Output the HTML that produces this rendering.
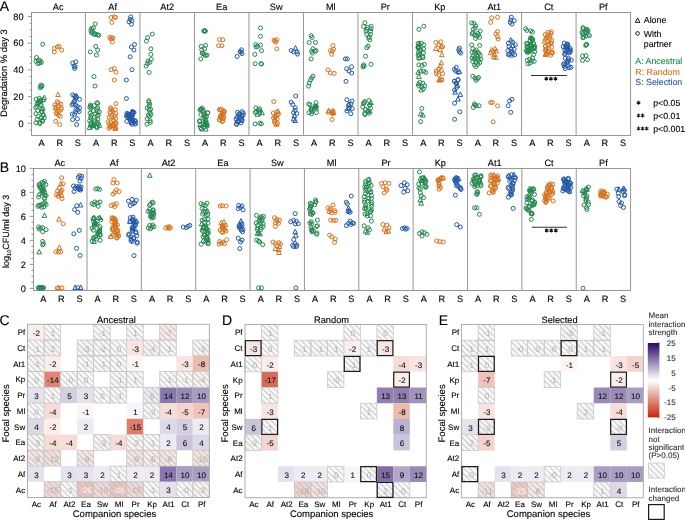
<!DOCTYPE html><html><head><meta charset="utf-8"><style>html,body{margin:0;padding:0;background:#fff;}body{width:685px;height:521px;overflow:hidden;}svg{display:block;will-change:transform;}text{font-family:"Liberation Sans",sans-serif;text-rendering:geometricPrecision;}</style></head><body><svg width="685" height="521" viewBox="0 0 685 521" font-family="Liberation Sans, sans-serif">
<defs><pattern id="hp" width="4.1" height="4.1" patternUnits="userSpaceOnUse" patternTransform="rotate(-45)"><rect x="0" y="0" width="1.95" height="4.1" fill="#b8b8b8" fill-opacity="0.52"/></pattern></defs>
<rect width="685" height="521" fill="#fff"/>
<g font-size="14" fill="#000" stroke="#000" stroke-width="0.12"><text x="-0.3" y="10.8">A</text><text x="-0.2" y="171.8">B</text><text x="-0.6" y="325.0">C</text><text x="222.1" y="325.3">D</text><text x="438.8" y="325.3">E</text></g>
<g font-size="9.2" fill="#000" stroke="#000" stroke-width="0.12">
<rect x="31.5" y="12.5" width="599.10" height="122.95" fill="none" stroke="#8c8c8c" stroke-width="0.9"/>
<line x1="85.40" y1="12.5" x2="85.40" y2="135.45" stroke="#8c8c8c" stroke-width="0.9"/>
<line x1="139.92" y1="12.5" x2="139.92" y2="135.45" stroke="#8c8c8c" stroke-width="0.9"/>
<line x1="194.44" y1="12.5" x2="194.44" y2="135.45" stroke="#8c8c8c" stroke-width="0.9"/>
<line x1="248.96" y1="12.5" x2="248.96" y2="135.45" stroke="#8c8c8c" stroke-width="0.9"/>
<line x1="303.48" y1="12.5" x2="303.48" y2="135.45" stroke="#8c8c8c" stroke-width="0.9"/>
<line x1="358.00" y1="12.5" x2="358.00" y2="135.45" stroke="#8c8c8c" stroke-width="0.9"/>
<line x1="412.52" y1="12.5" x2="412.52" y2="135.45" stroke="#8c8c8c" stroke-width="0.9"/>
<line x1="467.04" y1="12.5" x2="467.04" y2="135.45" stroke="#8c8c8c" stroke-width="0.9"/>
<line x1="521.56" y1="12.5" x2="521.56" y2="135.45" stroke="#8c8c8c" stroke-width="0.9"/>
<line x1="576.08" y1="12.5" x2="576.08" y2="135.45" stroke="#8c8c8c" stroke-width="0.9"/>
<text x="58.14" y="9.6" text-anchor="middle" transform="matrix(1 0 0 1.0 0 0.000)">Ac</text>
<text x="41.57" y="145.8" text-anchor="middle" transform="matrix(1 0 0 1.0 0 0.000)">A</text>
<text x="59.74" y="145.8" text-anchor="middle" transform="matrix(1 0 0 1.0 0 0.000)">R</text>
<text x="77.91" y="145.8" text-anchor="middle" transform="matrix(1 0 0 1.0 0 0.000)">S</text>
<text x="112.66" y="9.6" text-anchor="middle" transform="matrix(1 0 0 1.0 0 0.000)">Af</text>
<text x="96.09" y="145.8" text-anchor="middle" transform="matrix(1 0 0 1.0 0 0.000)">A</text>
<text x="114.26" y="145.8" text-anchor="middle" transform="matrix(1 0 0 1.0 0 0.000)">R</text>
<text x="132.43" y="145.8" text-anchor="middle" transform="matrix(1 0 0 1.0 0 0.000)">S</text>
<text x="167.18" y="9.6" text-anchor="middle" transform="matrix(1 0 0 1.0 0 0.000)">At2</text>
<text x="150.61" y="145.8" text-anchor="middle" transform="matrix(1 0 0 1.0 0 0.000)">A</text>
<text x="168.78" y="145.8" text-anchor="middle" transform="matrix(1 0 0 1.0 0 0.000)">R</text>
<text x="186.95" y="145.8" text-anchor="middle" transform="matrix(1 0 0 1.0 0 0.000)">S</text>
<text x="221.70" y="9.6" text-anchor="middle" transform="matrix(1 0 0 1.0 0 0.000)">Ea</text>
<text x="205.13" y="145.8" text-anchor="middle" transform="matrix(1 0 0 1.0 0 0.000)">A</text>
<text x="223.30" y="145.8" text-anchor="middle" transform="matrix(1 0 0 1.0 0 0.000)">R</text>
<text x="241.47" y="145.8" text-anchor="middle" transform="matrix(1 0 0 1.0 0 0.000)">S</text>
<text x="276.22" y="9.6" text-anchor="middle" transform="matrix(1 0 0 1.0 0 0.000)">Sw</text>
<text x="259.65" y="145.8" text-anchor="middle" transform="matrix(1 0 0 1.0 0 0.000)">A</text>
<text x="277.82" y="145.8" text-anchor="middle" transform="matrix(1 0 0 1.0 0 0.000)">R</text>
<text x="295.99" y="145.8" text-anchor="middle" transform="matrix(1 0 0 1.0 0 0.000)">S</text>
<text x="330.74" y="9.6" text-anchor="middle" transform="matrix(1 0 0 1.0 0 0.000)">Ml</text>
<text x="314.17" y="145.8" text-anchor="middle" transform="matrix(1 0 0 1.0 0 0.000)">A</text>
<text x="332.34" y="145.8" text-anchor="middle" transform="matrix(1 0 0 1.0 0 0.000)">R</text>
<text x="350.51" y="145.8" text-anchor="middle" transform="matrix(1 0 0 1.0 0 0.000)">S</text>
<text x="385.26" y="9.6" text-anchor="middle" transform="matrix(1 0 0 1.0 0 0.000)">Pr</text>
<text x="368.69" y="145.8" text-anchor="middle" transform="matrix(1 0 0 1.0 0 0.000)">A</text>
<text x="386.86" y="145.8" text-anchor="middle" transform="matrix(1 0 0 1.0 0 0.000)">R</text>
<text x="405.03" y="145.8" text-anchor="middle" transform="matrix(1 0 0 1.0 0 0.000)">S</text>
<text x="439.78" y="9.6" text-anchor="middle" transform="matrix(1 0 0 1.0 0 0.000)">Kp</text>
<text x="423.21" y="145.8" text-anchor="middle" transform="matrix(1 0 0 1.0 0 0.000)">A</text>
<text x="441.38" y="145.8" text-anchor="middle" transform="matrix(1 0 0 1.0 0 0.000)">R</text>
<text x="459.55" y="145.8" text-anchor="middle" transform="matrix(1 0 0 1.0 0 0.000)">S</text>
<text x="494.30" y="9.6" text-anchor="middle" transform="matrix(1 0 0 1.0 0 0.000)">At1</text>
<text x="477.73" y="145.8" text-anchor="middle" transform="matrix(1 0 0 1.0 0 0.000)">A</text>
<text x="495.90" y="145.8" text-anchor="middle" transform="matrix(1 0 0 1.0 0 0.000)">R</text>
<text x="514.07" y="145.8" text-anchor="middle" transform="matrix(1 0 0 1.0 0 0.000)">S</text>
<text x="548.82" y="9.6" text-anchor="middle" transform="matrix(1 0 0 1.0 0 0.000)">Ct</text>
<text x="532.25" y="145.8" text-anchor="middle" transform="matrix(1 0 0 1.0 0 0.000)">A</text>
<text x="550.42" y="145.8" text-anchor="middle" transform="matrix(1 0 0 1.0 0 0.000)">R</text>
<text x="568.59" y="145.8" text-anchor="middle" transform="matrix(1 0 0 1.0 0 0.000)">S</text>
<text x="603.34" y="9.6" text-anchor="middle" transform="matrix(1 0 0 1.0 0 0.000)">Pf</text>
<text x="586.77" y="145.8" text-anchor="middle" transform="matrix(1 0 0 1.0 0 0.000)">A</text>
<text x="604.94" y="145.8" text-anchor="middle" transform="matrix(1 0 0 1.0 0 0.000)">R</text>
<text x="623.11" y="145.8" text-anchor="middle" transform="matrix(1 0 0 1.0 0 0.000)">S</text>
<line x1="29.60" y1="129.97" x2="31.5" y2="129.97" stroke="#8c8c8c" stroke-width="0.9"/>
<line x1="27.70" y1="123.30" x2="31.5" y2="123.30" stroke="#8c8c8c" stroke-width="0.9"/>
<text x="23.6" y="126.50" text-anchor="end" transform="matrix(1 0 0 1.0 0 0.000)">0</text>
<line x1="29.60" y1="116.62" x2="31.5" y2="116.62" stroke="#8c8c8c" stroke-width="0.9"/>
<line x1="29.60" y1="109.95" x2="31.5" y2="109.95" stroke="#8c8c8c" stroke-width="0.9"/>
<line x1="29.60" y1="103.28" x2="31.5" y2="103.28" stroke="#8c8c8c" stroke-width="0.9"/>
<line x1="27.70" y1="96.60" x2="31.5" y2="96.60" stroke="#8c8c8c" stroke-width="0.9"/>
<text x="23.6" y="99.80" text-anchor="end" transform="matrix(1 0 0 1.0 0 0.000)">20</text>
<line x1="29.60" y1="89.92" x2="31.5" y2="89.92" stroke="#8c8c8c" stroke-width="0.9"/>
<line x1="29.60" y1="83.25" x2="31.5" y2="83.25" stroke="#8c8c8c" stroke-width="0.9"/>
<line x1="29.60" y1="76.57" x2="31.5" y2="76.57" stroke="#8c8c8c" stroke-width="0.9"/>
<line x1="27.70" y1="69.90" x2="31.5" y2="69.90" stroke="#8c8c8c" stroke-width="0.9"/>
<text x="23.6" y="73.10" text-anchor="end" transform="matrix(1 0 0 1.0 0 0.000)">40</text>
<line x1="29.60" y1="63.23" x2="31.5" y2="63.23" stroke="#8c8c8c" stroke-width="0.9"/>
<line x1="29.60" y1="56.55" x2="31.5" y2="56.55" stroke="#8c8c8c" stroke-width="0.9"/>
<line x1="29.60" y1="49.88" x2="31.5" y2="49.88" stroke="#8c8c8c" stroke-width="0.9"/>
<line x1="27.70" y1="43.20" x2="31.5" y2="43.20" stroke="#8c8c8c" stroke-width="0.9"/>
<text x="23.6" y="46.40" text-anchor="end" transform="matrix(1 0 0 1.0 0 0.000)">60</text>
<line x1="29.60" y1="36.53" x2="31.5" y2="36.53" stroke="#8c8c8c" stroke-width="0.9"/>
<line x1="29.60" y1="29.85" x2="31.5" y2="29.85" stroke="#8c8c8c" stroke-width="0.9"/>
<line x1="29.60" y1="23.17" x2="31.5" y2="23.17" stroke="#8c8c8c" stroke-width="0.9"/>
<line x1="27.70" y1="16.50" x2="31.5" y2="16.50" stroke="#8c8c8c" stroke-width="0.9"/>
<text x="23.6" y="19.70" text-anchor="end" transform="matrix(1 0 0 1.0 0 0.000)">80</text>
</g>
<text transform="translate(7.2,73.1) rotate(-90) scale(1,1.0)" text-anchor="middle" font-size="9.4" fill="#000" stroke="#000" stroke-width="0.12">Degradation % day 3</text>
<g font-size="9.2" fill="#000" stroke="#000" stroke-width="0.12">
<rect x="33.5" y="168.45" width="597.10" height="122.00" fill="none" stroke="#8c8c8c" stroke-width="0.9"/>
<line x1="87.00" y1="168.45" x2="87.00" y2="290.45" stroke="#8c8c8c" stroke-width="0.9"/>
<line x1="141.36" y1="168.45" x2="141.36" y2="290.45" stroke="#8c8c8c" stroke-width="0.9"/>
<line x1="195.72" y1="168.45" x2="195.72" y2="290.45" stroke="#8c8c8c" stroke-width="0.9"/>
<line x1="250.08" y1="168.45" x2="250.08" y2="290.45" stroke="#8c8c8c" stroke-width="0.9"/>
<line x1="304.44" y1="168.45" x2="304.44" y2="290.45" stroke="#8c8c8c" stroke-width="0.9"/>
<line x1="358.80" y1="168.45" x2="358.80" y2="290.45" stroke="#8c8c8c" stroke-width="0.9"/>
<line x1="413.16" y1="168.45" x2="413.16" y2="290.45" stroke="#8c8c8c" stroke-width="0.9"/>
<line x1="467.52" y1="168.45" x2="467.52" y2="290.45" stroke="#8c8c8c" stroke-width="0.9"/>
<line x1="521.88" y1="168.45" x2="521.88" y2="290.45" stroke="#8c8c8c" stroke-width="0.9"/>
<line x1="576.24" y1="168.45" x2="576.24" y2="290.45" stroke="#8c8c8c" stroke-width="0.9"/>
<text x="59.82" y="166.0" text-anchor="middle" transform="matrix(1 0 0 1.0 0 0.000)">Ac</text>
<text x="43.30" y="302.0" text-anchor="middle" transform="matrix(1 0 0 1.0 0 0.000)">A</text>
<text x="61.42" y="302.0" text-anchor="middle" transform="matrix(1 0 0 1.0 0 0.000)">R</text>
<text x="79.54" y="302.0" text-anchor="middle" transform="matrix(1 0 0 1.0 0 0.000)">S</text>
<text x="114.18" y="166.0" text-anchor="middle" transform="matrix(1 0 0 1.0 0 0.000)">Af</text>
<text x="97.66" y="302.0" text-anchor="middle" transform="matrix(1 0 0 1.0 0 0.000)">A</text>
<text x="115.78" y="302.0" text-anchor="middle" transform="matrix(1 0 0 1.0 0 0.000)">R</text>
<text x="133.90" y="302.0" text-anchor="middle" transform="matrix(1 0 0 1.0 0 0.000)">S</text>
<text x="168.54" y="166.0" text-anchor="middle" transform="matrix(1 0 0 1.0 0 0.000)">At2</text>
<text x="152.02" y="302.0" text-anchor="middle" transform="matrix(1 0 0 1.0 0 0.000)">A</text>
<text x="170.14" y="302.0" text-anchor="middle" transform="matrix(1 0 0 1.0 0 0.000)">R</text>
<text x="188.26" y="302.0" text-anchor="middle" transform="matrix(1 0 0 1.0 0 0.000)">S</text>
<text x="222.90" y="166.0" text-anchor="middle" transform="matrix(1 0 0 1.0 0 0.000)">Ea</text>
<text x="206.38" y="302.0" text-anchor="middle" transform="matrix(1 0 0 1.0 0 0.000)">A</text>
<text x="224.50" y="302.0" text-anchor="middle" transform="matrix(1 0 0 1.0 0 0.000)">R</text>
<text x="242.62" y="302.0" text-anchor="middle" transform="matrix(1 0 0 1.0 0 0.000)">S</text>
<text x="277.26" y="166.0" text-anchor="middle" transform="matrix(1 0 0 1.0 0 0.000)">Sw</text>
<text x="260.74" y="302.0" text-anchor="middle" transform="matrix(1 0 0 1.0 0 0.000)">A</text>
<text x="278.86" y="302.0" text-anchor="middle" transform="matrix(1 0 0 1.0 0 0.000)">R</text>
<text x="296.98" y="302.0" text-anchor="middle" transform="matrix(1 0 0 1.0 0 0.000)">S</text>
<text x="331.62" y="166.0" text-anchor="middle" transform="matrix(1 0 0 1.0 0 0.000)">Ml</text>
<text x="315.10" y="302.0" text-anchor="middle" transform="matrix(1 0 0 1.0 0 0.000)">A</text>
<text x="333.22" y="302.0" text-anchor="middle" transform="matrix(1 0 0 1.0 0 0.000)">R</text>
<text x="351.34" y="302.0" text-anchor="middle" transform="matrix(1 0 0 1.0 0 0.000)">S</text>
<text x="385.98" y="166.0" text-anchor="middle" transform="matrix(1 0 0 1.0 0 0.000)">Pr</text>
<text x="369.46" y="302.0" text-anchor="middle" transform="matrix(1 0 0 1.0 0 0.000)">A</text>
<text x="387.58" y="302.0" text-anchor="middle" transform="matrix(1 0 0 1.0 0 0.000)">R</text>
<text x="405.70" y="302.0" text-anchor="middle" transform="matrix(1 0 0 1.0 0 0.000)">S</text>
<text x="440.34" y="166.0" text-anchor="middle" transform="matrix(1 0 0 1.0 0 0.000)">Kp</text>
<text x="423.82" y="302.0" text-anchor="middle" transform="matrix(1 0 0 1.0 0 0.000)">A</text>
<text x="441.94" y="302.0" text-anchor="middle" transform="matrix(1 0 0 1.0 0 0.000)">R</text>
<text x="460.06" y="302.0" text-anchor="middle" transform="matrix(1 0 0 1.0 0 0.000)">S</text>
<text x="494.70" y="166.0" text-anchor="middle" transform="matrix(1 0 0 1.0 0 0.000)">At1</text>
<text x="478.18" y="302.0" text-anchor="middle" transform="matrix(1 0 0 1.0 0 0.000)">A</text>
<text x="496.30" y="302.0" text-anchor="middle" transform="matrix(1 0 0 1.0 0 0.000)">R</text>
<text x="514.42" y="302.0" text-anchor="middle" transform="matrix(1 0 0 1.0 0 0.000)">S</text>
<text x="549.06" y="166.0" text-anchor="middle" transform="matrix(1 0 0 1.0 0 0.000)">Ct</text>
<text x="532.54" y="302.0" text-anchor="middle" transform="matrix(1 0 0 1.0 0 0.000)">A</text>
<text x="550.66" y="302.0" text-anchor="middle" transform="matrix(1 0 0 1.0 0 0.000)">R</text>
<text x="568.78" y="302.0" text-anchor="middle" transform="matrix(1 0 0 1.0 0 0.000)">S</text>
<text x="603.42" y="166.0" text-anchor="middle" transform="matrix(1 0 0 1.0 0 0.000)">Pf</text>
<text x="586.90" y="302.0" text-anchor="middle" transform="matrix(1 0 0 1.0 0 0.000)">A</text>
<text x="605.02" y="302.0" text-anchor="middle" transform="matrix(1 0 0 1.0 0 0.000)">R</text>
<text x="623.14" y="302.0" text-anchor="middle" transform="matrix(1 0 0 1.0 0 0.000)">S</text>
<line x1="29.60" y1="288.40" x2="33.5" y2="288.40" stroke="#8c8c8c" stroke-width="0.9"/>
<text x="25.9" y="291.60" text-anchor="end" transform="matrix(1 0 0 1.0 0 0.000)">0</text>
<line x1="31.40" y1="282.40" x2="33.5" y2="282.40" stroke="#8c8c8c" stroke-width="0.9"/>
<line x1="31.40" y1="276.40" x2="33.5" y2="276.40" stroke="#8c8c8c" stroke-width="0.9"/>
<line x1="31.40" y1="270.40" x2="33.5" y2="270.40" stroke="#8c8c8c" stroke-width="0.9"/>
<line x1="29.60" y1="264.40" x2="33.5" y2="264.40" stroke="#8c8c8c" stroke-width="0.9"/>
<text x="25.9" y="267.60" text-anchor="end" transform="matrix(1 0 0 1.0 0 0.000)">2</text>
<line x1="31.40" y1="258.40" x2="33.5" y2="258.40" stroke="#8c8c8c" stroke-width="0.9"/>
<line x1="31.40" y1="252.40" x2="33.5" y2="252.40" stroke="#8c8c8c" stroke-width="0.9"/>
<line x1="31.40" y1="246.40" x2="33.5" y2="246.40" stroke="#8c8c8c" stroke-width="0.9"/>
<line x1="29.60" y1="240.40" x2="33.5" y2="240.40" stroke="#8c8c8c" stroke-width="0.9"/>
<text x="25.9" y="243.60" text-anchor="end" transform="matrix(1 0 0 1.0 0 0.000)">4</text>
<line x1="31.40" y1="234.40" x2="33.5" y2="234.40" stroke="#8c8c8c" stroke-width="0.9"/>
<line x1="31.40" y1="228.40" x2="33.5" y2="228.40" stroke="#8c8c8c" stroke-width="0.9"/>
<line x1="31.40" y1="222.40" x2="33.5" y2="222.40" stroke="#8c8c8c" stroke-width="0.9"/>
<line x1="29.60" y1="216.40" x2="33.5" y2="216.40" stroke="#8c8c8c" stroke-width="0.9"/>
<text x="25.9" y="219.60" text-anchor="end" transform="matrix(1 0 0 1.0 0 0.000)">6</text>
<line x1="31.40" y1="210.40" x2="33.5" y2="210.40" stroke="#8c8c8c" stroke-width="0.9"/>
<line x1="31.40" y1="204.40" x2="33.5" y2="204.40" stroke="#8c8c8c" stroke-width="0.9"/>
<line x1="31.40" y1="198.40" x2="33.5" y2="198.40" stroke="#8c8c8c" stroke-width="0.9"/>
<line x1="29.60" y1="192.40" x2="33.5" y2="192.40" stroke="#8c8c8c" stroke-width="0.9"/>
<text x="25.9" y="195.60" text-anchor="end" transform="matrix(1 0 0 1.0 0 0.000)">8</text>
<line x1="31.40" y1="186.40" x2="33.5" y2="186.40" stroke="#8c8c8c" stroke-width="0.9"/>
<line x1="31.40" y1="180.40" x2="33.5" y2="180.40" stroke="#8c8c8c" stroke-width="0.9"/>
<line x1="31.40" y1="174.40" x2="33.5" y2="174.40" stroke="#8c8c8c" stroke-width="0.9"/>
<line x1="29.60" y1="168.40" x2="33.5" y2="168.40" stroke="#8c8c8c" stroke-width="0.9"/>
<text x="25.9" y="171.60" text-anchor="end" transform="matrix(1 0 0 1.0 0 0.000)">10</text>
</g>
<text transform="translate(9.0,231.3) rotate(-90) scale(1,1.0)" text-anchor="middle" font-size="9" fill="#000" stroke="#000" stroke-width="0.12">log<tspan font-size="5.6" dy="2.2">10</tspan><tspan dy="-2.2">CFU/ml day 3</tspan></text>
<g fill="none" stroke-width="1.0">
<circle cx="42.7" cy="44.3" r="2.0" stroke="#24884f"/>
<circle cx="36.5" cy="57.5" r="2.0" stroke="#24884f"/>
<circle cx="35.9" cy="61.2" r="2.0" stroke="#24884f"/>
<circle cx="38.4" cy="60.0" r="2.0" stroke="#24884f"/>
<circle cx="40.2" cy="60.6" r="2.0" stroke="#24884f"/>
<circle cx="41.4" cy="62.4" r="2.0" stroke="#24884f"/>
<circle cx="37.8" cy="63.6" r="2.0" stroke="#24884f"/>
<circle cx="39.6" cy="63.0" r="2.0" stroke="#24884f"/>
<circle cx="40.8" cy="85.1" r="2.0" stroke="#24884f"/>
<circle cx="41.4" cy="87.0" r="2.0" stroke="#24884f"/>
<circle cx="42.0" cy="85.7" r="2.0" stroke="#24884f"/>
<circle cx="40.2" cy="87.6" r="2.0" stroke="#24884f"/>
<path d="M40.7 98.0L38.4 102.5L43.0 102.5Z" stroke="#24884f"/>
<path d="M44.3 95.2L42.0 99.7L46.6 99.7Z" stroke="#24884f"/>
<path d="M43.2 97.1L40.9 101.6L45.5 101.6Z" stroke="#24884f"/>
<circle cx="36.8" cy="106.3" r="2.0" stroke="#24884f"/>
<circle cx="38.3" cy="103.1" r="2.0" stroke="#24884f"/>
<circle cx="37.1" cy="119.3" r="2.0" stroke="#24884f"/>
<circle cx="41.3" cy="105.6" r="2.0" stroke="#24884f"/>
<circle cx="40.4" cy="104.3" r="2.0" stroke="#24884f"/>
<circle cx="36.0" cy="122.8" r="2.0" stroke="#24884f"/>
<circle cx="41.6" cy="111.4" r="2.0" stroke="#24884f"/>
<circle cx="38.3" cy="116.4" r="2.0" stroke="#24884f"/>
<circle cx="39.6" cy="123.8" r="2.0" stroke="#24884f"/>
<circle cx="42.6" cy="121.3" r="2.0" stroke="#24884f"/>
<circle cx="37.7" cy="110.6" r="2.0" stroke="#24884f"/>
<circle cx="40.2" cy="122.5" r="2.0" stroke="#24884f"/>
<circle cx="42.1" cy="112.2" r="2.0" stroke="#24884f"/>
<circle cx="44.3" cy="117.9" r="2.0" stroke="#24884f"/>
<circle cx="39.3" cy="98.2" r="2.0" stroke="#24884f"/>
<circle cx="36.9" cy="103.8" r="2.0" stroke="#24884f"/>
<circle cx="35.9" cy="113.6" r="2.0" stroke="#24884f"/>
<circle cx="42.4" cy="120.2" r="2.0" stroke="#24884f"/>
<circle cx="43.4" cy="115.2" r="2.0" stroke="#24884f"/>
<circle cx="41.8" cy="108.7" r="2.0" stroke="#24884f"/>
<circle cx="40.7" cy="100.8" r="2.0" stroke="#24884f"/>
<circle cx="43.1" cy="114.8" r="2.0" stroke="#24884f"/>
<circle cx="39.8" cy="100.1" r="2.0" stroke="#24884f"/>
<circle cx="36.0" cy="99.1" r="2.0" stroke="#24884f"/>
<circle cx="41.3" cy="117.7" r="2.0" stroke="#24884f"/>
<circle cx="42.9" cy="109.3" r="2.0" stroke="#24884f"/>
<circle cx="39.0" cy="102.0" r="2.0" stroke="#24884f"/>
<circle cx="35.7" cy="107.6" r="2.0" stroke="#24884f"/>
<circle cx="54.3" cy="48.3" r="2.0" stroke="#d6731f"/>
<circle cx="57.4" cy="47.0" r="2.0" stroke="#d6731f"/>
<circle cx="59.2" cy="46.4" r="2.0" stroke="#d6731f"/>
<circle cx="61.7" cy="50.1" r="2.0" stroke="#d6731f"/>
<circle cx="54.3" cy="52.0" r="2.0" stroke="#d6731f"/>
<path d="M58.0 92.0L55.7 96.5L60.3 96.5Z" stroke="#d6731f"/>
<path d="M55.3 105.3L53.0 109.8L57.6 109.8Z" stroke="#d6731f"/>
<circle cx="58.5" cy="115.3" r="2.0" stroke="#d6731f"/>
<circle cx="60.3" cy="116.4" r="2.0" stroke="#d6731f"/>
<circle cx="56.7" cy="112.6" r="2.0" stroke="#d6731f"/>
<circle cx="57.2" cy="110.9" r="2.0" stroke="#d6731f"/>
<circle cx="61.2" cy="107.9" r="2.0" stroke="#d6731f"/>
<circle cx="56.0" cy="106.9" r="2.0" stroke="#d6731f"/>
<circle cx="56.4" cy="113.7" r="2.0" stroke="#d6731f"/>
<circle cx="58.7" cy="105.8" r="2.0" stroke="#d6731f"/>
<circle cx="54.8" cy="104.9" r="2.0" stroke="#d6731f"/>
<circle cx="57.3" cy="101.7" r="2.0" stroke="#d6731f"/>
<circle cx="61.2" cy="109.6" r="2.0" stroke="#d6731f"/>
<circle cx="58.3" cy="102.9" r="2.0" stroke="#d6731f"/>
<circle cx="59.3" cy="111.1" r="2.0" stroke="#d6731f"/>
<circle cx="60.8" cy="104.2" r="2.0" stroke="#d6731f"/>
<circle cx="55.7" cy="121.3" r="2.0" stroke="#d6731f"/>
<circle cx="59.7" cy="124.5" r="2.0" stroke="#d6731f"/>
<circle cx="72.7" cy="63.0" r="2.0" stroke="#2459a8"/>
<circle cx="75.8" cy="61.8" r="2.0" stroke="#2459a8"/>
<circle cx="74.0" cy="66.1" r="2.0" stroke="#2459a8"/>
<circle cx="74.6" cy="68.5" r="2.0" stroke="#2459a8"/>
<circle cx="75.2" cy="66.7" r="2.0" stroke="#2459a8"/>
<path d="M76.5 93.4L74.2 97.9L78.8 97.9Z" stroke="#2459a8"/>
<circle cx="76.3" cy="96.9" r="2.0" stroke="#2459a8"/>
<circle cx="79.5" cy="99.4" r="2.0" stroke="#2459a8"/>
<circle cx="72.1" cy="104.9" r="2.0" stroke="#2459a8"/>
<circle cx="74.7" cy="100.7" r="2.0" stroke="#2459a8"/>
<circle cx="79.5" cy="107.8" r="2.0" stroke="#2459a8"/>
<circle cx="75.5" cy="112.0" r="2.0" stroke="#2459a8"/>
<circle cx="75.6" cy="104.7" r="2.0" stroke="#2459a8"/>
<circle cx="75.5" cy="97.9" r="2.0" stroke="#2459a8"/>
<circle cx="72.7" cy="94.8" r="2.0" stroke="#2459a8"/>
<circle cx="77.7" cy="110.1" r="2.0" stroke="#2459a8"/>
<circle cx="77.3" cy="106.5" r="2.0" stroke="#2459a8"/>
<circle cx="73.2" cy="103.4" r="2.0" stroke="#2459a8"/>
<circle cx="74.5" cy="95.9" r="2.0" stroke="#2459a8"/>
<circle cx="79.2" cy="111.6" r="2.0" stroke="#2459a8"/>
<circle cx="74.0" cy="101.9" r="2.0" stroke="#2459a8"/>
<circle cx="72.3" cy="114.1" r="2.0" stroke="#2459a8"/>
<circle cx="75.9" cy="109.4" r="2.0" stroke="#2459a8"/>
<circle cx="74.5" cy="114.6" r="2.0" stroke="#2459a8"/>
<circle cx="72.6" cy="119.7" r="2.0" stroke="#2459a8"/>
<circle cx="77.4" cy="118.9" r="2.0" stroke="#2459a8"/>
<circle cx="76.6" cy="124.5" r="2.0" stroke="#2459a8"/>
<circle cx="95.2" cy="23.9" r="2.0" stroke="#24884f"/>
<circle cx="91.5" cy="28.6" r="2.0" stroke="#24884f"/>
<circle cx="93.4" cy="28.0" r="2.0" stroke="#24884f"/>
<circle cx="90.9" cy="30.4" r="2.0" stroke="#24884f"/>
<circle cx="92.1" cy="31.6" r="2.0" stroke="#24884f"/>
<circle cx="91.5" cy="32.9" r="2.0" stroke="#24884f"/>
<circle cx="94.0" cy="34.1" r="2.0" stroke="#24884f"/>
<circle cx="95.8" cy="34.7" r="2.0" stroke="#24884f"/>
<circle cx="97.7" cy="34.7" r="2.0" stroke="#24884f"/>
<circle cx="98.9" cy="35.3" r="2.0" stroke="#24884f"/>
<circle cx="94.6" cy="33.5" r="2.0" stroke="#24884f"/>
<circle cx="95.8" cy="46.4" r="2.0" stroke="#24884f"/>
<circle cx="90.3" cy="51.9" r="2.0" stroke="#24884f"/>
<circle cx="97.7" cy="50.1" r="2.0" stroke="#24884f"/>
<circle cx="96.4" cy="55.0" r="2.0" stroke="#24884f"/>
<circle cx="94.0" cy="76.6" r="2.0" stroke="#24884f"/>
<circle cx="95.0" cy="86.0" r="2.0" stroke="#24884f"/>
<path d="M90.5 121.7L88.2 126.2L92.8 126.2Z" stroke="#24884f"/>
<path d="M92.9 121.8L90.6 126.3L95.2 126.3Z" stroke="#24884f"/>
<path d="M99.4 122.8L97.1 127.3L101.7 127.3Z" stroke="#24884f"/>
<path d="M89.5 125.1L87.2 129.6L91.8 129.6Z" stroke="#24884f"/>
<path d="M92.9 123.0L90.6 127.5L95.2 127.5Z" stroke="#24884f"/>
<circle cx="97.8" cy="103.4" r="2.0" stroke="#24884f"/>
<circle cx="93.4" cy="110.6" r="2.0" stroke="#24884f"/>
<circle cx="91.5" cy="115.0" r="2.0" stroke="#24884f"/>
<circle cx="93.8" cy="125.7" r="2.0" stroke="#24884f"/>
<circle cx="90.4" cy="105.0" r="2.0" stroke="#24884f"/>
<circle cx="96.7" cy="109.6" r="2.0" stroke="#24884f"/>
<circle cx="96.9" cy="126.9" r="2.0" stroke="#24884f"/>
<circle cx="91.1" cy="118.4" r="2.0" stroke="#24884f"/>
<circle cx="89.8" cy="107.2" r="2.0" stroke="#24884f"/>
<circle cx="94.2" cy="105.6" r="2.0" stroke="#24884f"/>
<circle cx="95.6" cy="113.9" r="2.0" stroke="#24884f"/>
<circle cx="94.2" cy="125.1" r="2.0" stroke="#24884f"/>
<circle cx="91.1" cy="106.3" r="2.0" stroke="#24884f"/>
<circle cx="89.7" cy="120.8" r="2.0" stroke="#24884f"/>
<circle cx="96.8" cy="127.7" r="2.0" stroke="#24884f"/>
<circle cx="97.0" cy="102.6" r="2.0" stroke="#24884f"/>
<circle cx="99.4" cy="111.9" r="2.0" stroke="#24884f"/>
<circle cx="98.2" cy="115.1" r="2.0" stroke="#24884f"/>
<circle cx="91.6" cy="126.4" r="2.0" stroke="#24884f"/>
<circle cx="97.1" cy="122.1" r="2.0" stroke="#24884f"/>
<circle cx="94.9" cy="121.7" r="2.0" stroke="#24884f"/>
<circle cx="90.1" cy="113.2" r="2.0" stroke="#24884f"/>
<circle cx="98.5" cy="124.0" r="2.0" stroke="#24884f"/>
<circle cx="97.7" cy="108.0" r="2.0" stroke="#24884f"/>
<circle cx="97.8" cy="119.2" r="2.0" stroke="#24884f"/>
<circle cx="90.8" cy="108.5" r="2.0" stroke="#24884f"/>
<circle cx="94.6" cy="120.0" r="2.0" stroke="#24884f"/>
<circle cx="97.3" cy="111.4" r="2.0" stroke="#24884f"/>
<circle cx="97.3" cy="116.0" r="2.0" stroke="#24884f"/>
<circle cx="90.9" cy="123.1" r="2.0" stroke="#24884f"/>
<circle cx="90.7" cy="116.8" r="2.0" stroke="#24884f"/>
<circle cx="111.2" cy="17.5" r="2.0" stroke="#d6731f"/>
<circle cx="115.5" cy="17.5" r="2.0" stroke="#d6731f"/>
<circle cx="111.8" cy="22.4" r="2.0" stroke="#d6731f"/>
<circle cx="114.2" cy="16.9" r="2.0" stroke="#d6731f"/>
<circle cx="109.9" cy="37.2" r="2.0" stroke="#d6731f"/>
<circle cx="111.8" cy="38.4" r="2.0" stroke="#d6731f"/>
<circle cx="113.0" cy="37.8" r="2.0" stroke="#d6731f"/>
<circle cx="112.4" cy="42.1" r="2.0" stroke="#d6731f"/>
<circle cx="110.6" cy="39.0" r="2.0" stroke="#d6731f"/>
<circle cx="111.2" cy="69.7" r="2.0" stroke="#d6731f"/>
<circle cx="114.2" cy="68.5" r="2.0" stroke="#d6731f"/>
<circle cx="116.1" cy="72.2" r="2.0" stroke="#d6731f"/>
<circle cx="114.4" cy="80.0" r="2.0" stroke="#d6731f"/>
<path d="M113.6 122.8L111.3 127.3L115.9 127.3Z" stroke="#d6731f"/>
<path d="M112.3 122.9L110.0 127.4L114.6 127.4Z" stroke="#d6731f"/>
<path d="M115.6 124.4L113.3 128.9L117.9 128.9Z" stroke="#d6731f"/>
<path d="M115.1 125.9L112.8 130.4L117.4 130.4Z" stroke="#d6731f"/>
<path d="M110.1 123.5L107.8 128.0L112.4 128.0Z" stroke="#d6731f"/>
<path d="M115.6 125.3L113.3 129.8L117.9 129.8Z" stroke="#d6731f"/>
<path d="M109.1 120.6L106.8 125.1L111.4 125.1Z" stroke="#d6731f"/>
<circle cx="111.6" cy="117.3" r="2.0" stroke="#d6731f"/>
<circle cx="109.9" cy="112.5" r="2.0" stroke="#d6731f"/>
<circle cx="113.4" cy="120.0" r="2.0" stroke="#d6731f"/>
<circle cx="115.3" cy="109.6" r="2.0" stroke="#d6731f"/>
<circle cx="113.8" cy="120.8" r="2.0" stroke="#d6731f"/>
<circle cx="109.2" cy="117.2" r="2.0" stroke="#d6731f"/>
<circle cx="115.8" cy="113.6" r="2.0" stroke="#d6731f"/>
<circle cx="115.7" cy="118.6" r="2.0" stroke="#d6731f"/>
<circle cx="111.9" cy="115.3" r="2.0" stroke="#d6731f"/>
<circle cx="114.7" cy="115.5" r="2.0" stroke="#d6731f"/>
<circle cx="111.5" cy="125.6" r="2.0" stroke="#d6731f"/>
<circle cx="110.7" cy="107.7" r="2.0" stroke="#d6731f"/>
<circle cx="110.6" cy="112.1" r="2.0" stroke="#d6731f"/>
<circle cx="108.2" cy="121.7" r="2.0" stroke="#d6731f"/>
<circle cx="111.6" cy="126.1" r="2.0" stroke="#d6731f"/>
<circle cx="110.7" cy="109.1" r="2.0" stroke="#d6731f"/>
<circle cx="112.1" cy="110.5" r="2.0" stroke="#d6731f"/>
<circle cx="116.0" cy="122.9" r="2.0" stroke="#d6731f"/>
<circle cx="115.9" cy="124.2" r="2.0" stroke="#d6731f"/>
<circle cx="110.2" cy="127.1" r="2.0" stroke="#d6731f"/>
<circle cx="114.3" cy="123.4" r="2.0" stroke="#d6731f"/>
<circle cx="109.0" cy="128.4" r="2.0" stroke="#d6731f"/>
<circle cx="115.9" cy="103.6" r="2.0" stroke="#d6731f"/>
<circle cx="130.8" cy="16.9" r="2.0" stroke="#2459a8"/>
<circle cx="129.0" cy="21.8" r="2.0" stroke="#2459a8"/>
<circle cx="132.0" cy="20.6" r="2.0" stroke="#2459a8"/>
<circle cx="131.4" cy="24.3" r="2.0" stroke="#2459a8"/>
<circle cx="130.2" cy="19.4" r="2.0" stroke="#2459a8"/>
<circle cx="134.5" cy="44.5" r="2.0" stroke="#2459a8"/>
<circle cx="131.4" cy="47.0" r="2.0" stroke="#2459a8"/>
<circle cx="133.9" cy="50.0" r="2.0" stroke="#2459a8"/>
<circle cx="130.2" cy="56.8" r="2.0" stroke="#2459a8"/>
<circle cx="132.0" cy="69.7" r="2.0" stroke="#2459a8"/>
<circle cx="126.4" cy="80.0" r="2.0" stroke="#2459a8"/>
<circle cx="126.4" cy="98.5" r="2.0" stroke="#2459a8"/>
<path d="M126.6 112.7L124.3 117.2L128.9 117.2Z" stroke="#2459a8"/>
<path d="M130.3 112.4L128.0 116.9L132.6 116.9Z" stroke="#2459a8"/>
<path d="M132.1 109.0L129.8 113.5L134.4 113.5Z" stroke="#2459a8"/>
<circle cx="132.9" cy="113.3" r="2.0" stroke="#2459a8"/>
<circle cx="135.2" cy="120.6" r="2.0" stroke="#2459a8"/>
<circle cx="128.1" cy="118.2" r="2.0" stroke="#2459a8"/>
<circle cx="132.2" cy="124.3" r="2.0" stroke="#2459a8"/>
<circle cx="128.4" cy="116.6" r="2.0" stroke="#2459a8"/>
<circle cx="132.5" cy="114.8" r="2.0" stroke="#2459a8"/>
<circle cx="133.7" cy="122.3" r="2.0" stroke="#2459a8"/>
<circle cx="126.8" cy="115.5" r="2.0" stroke="#2459a8"/>
<circle cx="131.1" cy="123.1" r="2.0" stroke="#2459a8"/>
<circle cx="131.1" cy="117.4" r="2.0" stroke="#2459a8"/>
<circle cx="130.5" cy="120.3" r="2.0" stroke="#2459a8"/>
<circle cx="132.4" cy="111.8" r="2.0" stroke="#2459a8"/>
<circle cx="131.4" cy="122.7" r="2.0" stroke="#2459a8"/>
<circle cx="135.2" cy="121.5" r="2.0" stroke="#2459a8"/>
<circle cx="128.4" cy="114.3" r="2.0" stroke="#2459a8"/>
<circle cx="128.3" cy="114.1" r="2.0" stroke="#2459a8"/>
<circle cx="133.1" cy="112.0" r="2.0" stroke="#2459a8"/>
<circle cx="135.4" cy="124.0" r="2.0" stroke="#2459a8"/>
<circle cx="134.0" cy="112.4" r="2.0" stroke="#2459a8"/>
<circle cx="132.1" cy="116.4" r="2.0" stroke="#2459a8"/>
<circle cx="130.4" cy="118.2" r="2.0" stroke="#2459a8"/>
<circle cx="132.5" cy="119.7" r="2.0" stroke="#2459a8"/>
<circle cx="131.1" cy="119.1" r="2.0" stroke="#2459a8"/>
<circle cx="131.9" cy="119.4" r="2.0" stroke="#2459a8"/>
<circle cx="126.9" cy="113.4" r="2.0" stroke="#2459a8"/>
<circle cx="128.9" cy="116.9" r="2.0" stroke="#2459a8"/>
<circle cx="129.8" cy="115.2" r="2.0" stroke="#2459a8"/>
<circle cx="135.4" cy="123.3" r="2.0" stroke="#2459a8"/>
<circle cx="126.8" cy="121.3" r="2.0" stroke="#2459a8"/>
<circle cx="152.3" cy="34.1" r="2.0" stroke="#24884f"/>
<circle cx="147.6" cy="37.5" r="2.0" stroke="#24884f"/>
<circle cx="146.4" cy="41.2" r="2.0" stroke="#24884f"/>
<circle cx="150.8" cy="48.8" r="2.0" stroke="#24884f"/>
<circle cx="150.8" cy="54.4" r="2.0" stroke="#24884f"/>
<circle cx="151.3" cy="59.3" r="2.0" stroke="#24884f"/>
<circle cx="148.0" cy="61.1" r="2.0" stroke="#24884f"/>
<circle cx="149.8" cy="62.3" r="2.0" stroke="#24884f"/>
<circle cx="146.1" cy="66.0" r="2.0" stroke="#24884f"/>
<circle cx="149.2" cy="72.4" r="2.0" stroke="#24884f"/>
<circle cx="147.5" cy="63.5" r="2.0" stroke="#24884f"/>
<circle cx="146.9" cy="124.2" r="2.0" stroke="#24884f"/>
<circle cx="147.2" cy="118.9" r="2.0" stroke="#24884f"/>
<circle cx="148.3" cy="115.2" r="2.0" stroke="#24884f"/>
<circle cx="149.4" cy="116.5" r="2.0" stroke="#24884f"/>
<circle cx="150.9" cy="114.5" r="2.0" stroke="#24884f"/>
<circle cx="147.2" cy="108.0" r="2.0" stroke="#24884f"/>
<circle cx="150.1" cy="120.6" r="2.0" stroke="#24884f"/>
<circle cx="150.0" cy="112.6" r="2.0" stroke="#24884f"/>
<circle cx="148.8" cy="102.1" r="2.0" stroke="#24884f"/>
<circle cx="149.3" cy="110.0" r="2.0" stroke="#24884f"/>
<circle cx="150.3" cy="122.4" r="2.0" stroke="#24884f"/>
<circle cx="148.9" cy="100.7" r="2.0" stroke="#24884f"/>
<circle cx="149.7" cy="104.1" r="2.0" stroke="#24884f"/>
<circle cx="150.7" cy="109.4" r="2.0" stroke="#24884f"/>
<circle cx="149.1" cy="106.2" r="2.0" stroke="#24884f"/>
<circle cx="203.8" cy="31.0" r="2.0" stroke="#24884f"/>
<circle cx="204.6" cy="31.0" r="2.0" stroke="#24884f"/>
<circle cx="205.4" cy="31.0" r="2.0" stroke="#24884f"/>
<circle cx="204.6" cy="30.8" r="2.0" stroke="#24884f"/>
<circle cx="201.2" cy="46.4" r="2.0" stroke="#24884f"/>
<circle cx="205.6" cy="45.4" r="2.0" stroke="#24884f"/>
<circle cx="201.7" cy="49.8" r="2.0" stroke="#24884f"/>
<circle cx="204.6" cy="48.8" r="2.0" stroke="#24884f"/>
<circle cx="202.2" cy="53.1" r="2.0" stroke="#24884f"/>
<circle cx="204.1" cy="54.5" r="2.0" stroke="#24884f"/>
<circle cx="207.0" cy="55.0" r="2.0" stroke="#24884f"/>
<circle cx="205.6" cy="55.5" r="2.0" stroke="#24884f"/>
<circle cx="200.8" cy="58.9" r="2.0" stroke="#24884f"/>
<circle cx="203.2" cy="53.6" r="2.0" stroke="#24884f"/>
<path d="M205.1 120.6L202.8 125.1L207.4 125.1Z" stroke="#24884f"/>
<path d="M205.8 121.9L203.5 126.4L208.1 126.4Z" stroke="#24884f"/>
<path d="M200.1 122.0L197.8 126.5L202.4 126.5Z" stroke="#24884f"/>
<path d="M205.7 121.6L203.4 126.1L208.0 126.1Z" stroke="#24884f"/>
<path d="M205.8 126.6L203.5 131.1L208.1 131.1Z" stroke="#24884f"/>
<circle cx="203.7" cy="118.4" r="2.0" stroke="#24884f"/>
<circle cx="203.6" cy="111.8" r="2.0" stroke="#24884f"/>
<circle cx="206.0" cy="120.1" r="2.0" stroke="#24884f"/>
<circle cx="205.0" cy="117.4" r="2.0" stroke="#24884f"/>
<circle cx="200.8" cy="114.5" r="2.0" stroke="#24884f"/>
<circle cx="205.8" cy="122.1" r="2.0" stroke="#24884f"/>
<circle cx="204.3" cy="116.6" r="2.0" stroke="#24884f"/>
<circle cx="200.0" cy="110.0" r="2.0" stroke="#24884f"/>
<circle cx="205.2" cy="119.4" r="2.0" stroke="#24884f"/>
<circle cx="205.2" cy="115.3" r="2.0" stroke="#24884f"/>
<circle cx="203.9" cy="126.8" r="2.0" stroke="#24884f"/>
<circle cx="203.5" cy="113.7" r="2.0" stroke="#24884f"/>
<circle cx="207.1" cy="125.1" r="2.0" stroke="#24884f"/>
<circle cx="207.8" cy="112.8" r="2.0" stroke="#24884f"/>
<circle cx="199.6" cy="120.7" r="2.0" stroke="#24884f"/>
<circle cx="206.5" cy="116.6" r="2.0" stroke="#24884f"/>
<circle cx="203.3" cy="110.7" r="2.0" stroke="#24884f"/>
<circle cx="201.3" cy="109.0" r="2.0" stroke="#24884f"/>
<circle cx="201.3" cy="129.2" r="2.0" stroke="#24884f"/>
<circle cx="200.7" cy="109.4" r="2.0" stroke="#24884f"/>
<circle cx="207.6" cy="112.9" r="2.0" stroke="#24884f"/>
<circle cx="206.5" cy="123.1" r="2.0" stroke="#24884f"/>
<circle cx="207.0" cy="126.2" r="2.0" stroke="#24884f"/>
<circle cx="201.5" cy="128.7" r="2.0" stroke="#24884f"/>
<circle cx="203.6" cy="124.2" r="2.0" stroke="#24884f"/>
<circle cx="199.5" cy="121.5" r="2.0" stroke="#24884f"/>
<circle cx="203.3" cy="123.7" r="2.0" stroke="#24884f"/>
<circle cx="200.7" cy="127.5" r="2.0" stroke="#24884f"/>
<circle cx="202.2" cy="108.1" r="2.0" stroke="#24884f"/>
<circle cx="219.5" cy="39.7" r="2.0" stroke="#d6731f"/>
<circle cx="222.8" cy="39.7" r="2.0" stroke="#d6731f"/>
<circle cx="218.5" cy="45.7" r="2.0" stroke="#d6731f"/>
<circle cx="221.9" cy="45.7" r="2.0" stroke="#d6731f"/>
<circle cx="223.0" cy="114.8" r="2.0" stroke="#d6731f"/>
<circle cx="220.2" cy="110.0" r="2.0" stroke="#d6731f"/>
<circle cx="222.5" cy="113.9" r="2.0" stroke="#d6731f"/>
<circle cx="219.4" cy="119.8" r="2.0" stroke="#d6731f"/>
<circle cx="221.1" cy="115.1" r="2.0" stroke="#d6731f"/>
<circle cx="223.1" cy="113.3" r="2.0" stroke="#d6731f"/>
<circle cx="221.1" cy="117.8" r="2.0" stroke="#d6731f"/>
<circle cx="223.1" cy="118.7" r="2.0" stroke="#d6731f"/>
<circle cx="223.8" cy="112.4" r="2.0" stroke="#d6731f"/>
<circle cx="219.7" cy="119.9" r="2.0" stroke="#d6731f"/>
<circle cx="224.1" cy="111.6" r="2.0" stroke="#d6731f"/>
<circle cx="222.2" cy="121.4" r="2.0" stroke="#d6731f"/>
<circle cx="223.7" cy="116.7" r="2.0" stroke="#d6731f"/>
<circle cx="224.0" cy="111.0" r="2.0" stroke="#d6731f"/>
<circle cx="219.5" cy="109.5" r="2.0" stroke="#d6731f"/>
<circle cx="220.2" cy="117.2" r="2.0" stroke="#d6731f"/>
<circle cx="222.9" cy="121.0" r="2.0" stroke="#d6731f"/>
<circle cx="220.9" cy="115.8" r="2.0" stroke="#d6731f"/>
<circle cx="221.4" cy="109.0" r="2.0" stroke="#d6731f"/>
<circle cx="241.5" cy="49.8" r="2.0" stroke="#2459a8"/>
<circle cx="241.0" cy="52.1" r="2.0" stroke="#2459a8"/>
<circle cx="242.0" cy="53.6" r="2.0" stroke="#2459a8"/>
<circle cx="237.2" cy="56.5" r="2.0" stroke="#2459a8"/>
<circle cx="240.1" cy="51.7" r="2.0" stroke="#2459a8"/>
<circle cx="237.2" cy="121.6" r="2.0" stroke="#2459a8"/>
<circle cx="238.3" cy="122.1" r="2.0" stroke="#2459a8"/>
<circle cx="242.1" cy="111.6" r="2.0" stroke="#2459a8"/>
<circle cx="236.1" cy="119.2" r="2.0" stroke="#2459a8"/>
<circle cx="238.8" cy="114.6" r="2.0" stroke="#2459a8"/>
<circle cx="237.5" cy="112.3" r="2.0" stroke="#2459a8"/>
<circle cx="241.6" cy="118.3" r="2.0" stroke="#2459a8"/>
<circle cx="240.3" cy="117.6" r="2.0" stroke="#2459a8"/>
<circle cx="241.1" cy="122.9" r="2.0" stroke="#2459a8"/>
<circle cx="241.9" cy="120.5" r="2.0" stroke="#2459a8"/>
<circle cx="236.6" cy="124.4" r="2.0" stroke="#2459a8"/>
<circle cx="238.8" cy="121.0" r="2.0" stroke="#2459a8"/>
<circle cx="239.2" cy="116.3" r="2.0" stroke="#2459a8"/>
<circle cx="242.1" cy="119.9" r="2.0" stroke="#2459a8"/>
<circle cx="236.9" cy="117.0" r="2.0" stroke="#2459a8"/>
<circle cx="241.7" cy="115.9" r="2.0" stroke="#2459a8"/>
<circle cx="243.3" cy="113.1" r="2.0" stroke="#2459a8"/>
<circle cx="236.5" cy="123.8" r="2.0" stroke="#2459a8"/>
<circle cx="243.0" cy="115.1" r="2.0" stroke="#2459a8"/>
<circle cx="239.5" cy="113.7" r="2.0" stroke="#2459a8"/>
<circle cx="260.5" cy="27.9" r="2.0" stroke="#24884f"/>
<circle cx="260.5" cy="36.3" r="2.0" stroke="#24884f"/>
<circle cx="255.7" cy="44.5" r="2.0" stroke="#24884f"/>
<circle cx="257.6" cy="46.4" r="2.0" stroke="#24884f"/>
<circle cx="256.2" cy="46.9" r="2.0" stroke="#24884f"/>
<circle cx="260.5" cy="45.1" r="2.0" stroke="#24884f"/>
<circle cx="261.5" cy="50.7" r="2.0" stroke="#24884f"/>
<circle cx="254.8" cy="54.4" r="2.0" stroke="#24884f"/>
<circle cx="255.2" cy="63.7" r="2.0" stroke="#24884f"/>
<circle cx="261.0" cy="63.7" r="2.0" stroke="#24884f"/>
<circle cx="261.5" cy="64.0" r="2.0" stroke="#24884f"/>
<path d="M262.0 110.3L259.7 114.8L264.3 114.8Z" stroke="#24884f"/>
<circle cx="259.8" cy="110.8" r="2.0" stroke="#24884f"/>
<circle cx="258.3" cy="109.8" r="2.0" stroke="#24884f"/>
<circle cx="255.2" cy="112.5" r="2.0" stroke="#24884f"/>
<circle cx="256.6" cy="111.8" r="2.0" stroke="#24884f"/>
<circle cx="259.7" cy="108.8" r="2.0" stroke="#24884f"/>
<circle cx="255.9" cy="107.9" r="2.0" stroke="#24884f"/>
<circle cx="259.7" cy="113.3" r="2.0" stroke="#24884f"/>
<path d="M257.4 111.8L255.1 116.3L259.7 116.3Z" stroke="#24884f"/>
<circle cx="255.0" cy="123.9" r="2.0" stroke="#24884f"/>
<circle cx="259.8" cy="123.1" r="2.0" stroke="#24884f"/>
<circle cx="261.4" cy="123.9" r="2.0" stroke="#24884f"/>
<circle cx="274.0" cy="40.2" r="2.0" stroke="#d6731f"/>
<circle cx="276.8" cy="39.7" r="2.0" stroke="#d6731f"/>
<circle cx="275.9" cy="42.1" r="2.0" stroke="#d6731f"/>
<circle cx="274.9" cy="41.1" r="2.0" stroke="#d6731f"/>
<circle cx="276.8" cy="48.8" r="2.0" stroke="#d6731f"/>
<circle cx="273.8" cy="101.5" r="2.0" stroke="#d6731f"/>
<path d="M278.0 108.8L275.7 113.3L280.3 113.3Z" stroke="#d6731f"/>
<path d="M276.5 121.8L274.2 126.3L278.8 126.3Z" stroke="#d6731f"/>
<path d="M275.0 112.9L272.7 117.4L277.3 117.4Z" stroke="#d6731f"/>
<circle cx="278.3" cy="114.2" r="2.0" stroke="#d6731f"/>
<circle cx="276.5" cy="112.1" r="2.0" stroke="#d6731f"/>
<circle cx="273.5" cy="117.9" r="2.0" stroke="#d6731f"/>
<circle cx="277.2" cy="115.1" r="2.0" stroke="#d6731f"/>
<circle cx="274.5" cy="122.0" r="2.0" stroke="#d6731f"/>
<circle cx="277.2" cy="118.7" r="2.0" stroke="#d6731f"/>
<circle cx="274.7" cy="120.3" r="2.0" stroke="#d6731f"/>
<circle cx="275.5" cy="116.8" r="2.0" stroke="#d6731f"/>
<circle cx="277.5" cy="123.0" r="2.0" stroke="#d6731f"/>
<circle cx="275.5" cy="123.8" r="2.0" stroke="#d6731f"/>
<circle cx="273.3" cy="113.0" r="2.0" stroke="#d6731f"/>
<circle cx="291.2" cy="50.5" r="2.0" stroke="#2459a8"/>
<circle cx="293.6" cy="51.7" r="2.0" stroke="#2459a8"/>
<path d="M295.5 45.6L293.2 50.1L297.8 50.1Z" stroke="#2459a8"/>
<circle cx="297.0" cy="52.1" r="2.0" stroke="#2459a8"/>
<circle cx="297.5" cy="54.1" r="2.0" stroke="#2459a8"/>
<circle cx="295.7" cy="96.0" r="2.0" stroke="#2459a8"/>
<circle cx="291.2" cy="102.2" r="2.0" stroke="#2459a8"/>
<circle cx="292.8" cy="104.6" r="2.0" stroke="#2459a8"/>
<circle cx="295.2" cy="107.8" r="2.0" stroke="#2459a8"/>
<circle cx="293.6" cy="112.7" r="2.0" stroke="#2459a8"/>
<circle cx="296.8" cy="113.5" r="2.0" stroke="#2459a8"/>
<path d="M294.4 113.2L292.1 117.7L296.7 117.7Z" stroke="#2459a8"/>
<path d="M293.6 116.4L291.3 120.9L295.9 120.9Z" stroke="#2459a8"/>
<path d="M295.2 118.0L292.9 122.5L297.5 122.5Z" stroke="#2459a8"/>
<circle cx="295.0" cy="110.5" r="2.0" stroke="#2459a8"/>
<circle cx="311.1" cy="35.6" r="2.0" stroke="#24884f"/>
<circle cx="312.0" cy="37.5" r="2.0" stroke="#24884f"/>
<circle cx="309.2" cy="42.5" r="2.0" stroke="#24884f"/>
<circle cx="315.5" cy="42.5" r="2.0" stroke="#24884f"/>
<circle cx="313.0" cy="48.7" r="2.0" stroke="#24884f"/>
<circle cx="311.7" cy="51.2" r="2.0" stroke="#24884f"/>
<circle cx="314.8" cy="51.2" r="2.0" stroke="#24884f"/>
<circle cx="316.1" cy="50.6" r="2.0" stroke="#24884f"/>
<circle cx="312.4" cy="53.1" r="2.0" stroke="#24884f"/>
<circle cx="311.1" cy="58.9" r="2.0" stroke="#24884f"/>
<circle cx="313.0" cy="76.1" r="2.0" stroke="#24884f"/>
<circle cx="311.7" cy="78.0" r="2.0" stroke="#24884f"/>
<circle cx="310.5" cy="79.9" r="2.0" stroke="#24884f"/>
<circle cx="309.2" cy="83.0" r="2.0" stroke="#24884f"/>
<circle cx="308.6" cy="86.1" r="2.0" stroke="#24884f"/>
<path d="M314.6 103.3L312.3 107.8L316.9 107.8Z" stroke="#24884f"/>
<path d="M316.1 105.7L313.8 110.2L318.4 110.2Z" stroke="#24884f"/>
<circle cx="310.0" cy="104.6" r="2.0" stroke="#24884f"/>
<circle cx="311.8" cy="111.4" r="2.0" stroke="#24884f"/>
<circle cx="316.1" cy="102.6" r="2.0" stroke="#24884f"/>
<circle cx="311.6" cy="113.8" r="2.0" stroke="#24884f"/>
<circle cx="316.3" cy="107.2" r="2.0" stroke="#24884f"/>
<circle cx="308.9" cy="112.7" r="2.0" stroke="#24884f"/>
<circle cx="311.6" cy="108.9" r="2.0" stroke="#24884f"/>
<circle cx="315.6" cy="106.9" r="2.0" stroke="#24884f"/>
<circle cx="316.5" cy="112.6" r="2.0" stroke="#24884f"/>
<circle cx="311.1" cy="109.1" r="2.0" stroke="#24884f"/>
<circle cx="316.0" cy="106.0" r="2.0" stroke="#24884f"/>
<circle cx="308.8" cy="104.0" r="2.0" stroke="#24884f"/>
<circle cx="311.5" cy="110.2" r="2.0" stroke="#24884f"/>
<circle cx="332.9" cy="45.6" r="2.0" stroke="#d6731f"/>
<circle cx="333.6" cy="49.3" r="2.0" stroke="#d6731f"/>
<circle cx="330.4" cy="50.6" r="2.0" stroke="#d6731f"/>
<circle cx="331.7" cy="54.3" r="2.0" stroke="#d6731f"/>
<circle cx="332.3" cy="51.2" r="2.0" stroke="#d6731f"/>
<circle cx="328.0" cy="69.9" r="2.0" stroke="#d6731f"/>
<circle cx="330.4" cy="73.0" r="2.0" stroke="#d6731f"/>
<circle cx="334.2" cy="73.4" r="2.0" stroke="#d6731f"/>
<path d="M328.6 108.1L326.3 112.6L330.9 112.6Z" stroke="#d6731f"/>
<path d="M328.4 109.5L326.1 114.0L330.7 114.0Z" stroke="#d6731f"/>
<path d="M333.5 110.0L331.2 114.5L335.8 114.5Z" stroke="#d6731f"/>
<circle cx="332.7" cy="113.9" r="2.0" stroke="#d6731f"/>
<circle cx="332.7" cy="110.8" r="2.0" stroke="#d6731f"/>
<circle cx="333.0" cy="111.6" r="2.0" stroke="#d6731f"/>
<circle cx="332.3" cy="112.7" r="2.0" stroke="#d6731f"/>
<circle cx="332.0" cy="119.5" r="2.0" stroke="#d6731f"/>
<circle cx="345.4" cy="58.9" r="2.0" stroke="#2459a8"/>
<circle cx="347.3" cy="58.9" r="2.0" stroke="#2459a8"/>
<circle cx="346.7" cy="68.7" r="2.0" stroke="#2459a8"/>
<circle cx="351.6" cy="66.8" r="2.0" stroke="#2459a8"/>
<circle cx="349.1" cy="71.1" r="2.0" stroke="#2459a8"/>
<circle cx="351.6" cy="73.0" r="2.0" stroke="#2459a8"/>
<circle cx="346.0" cy="81.4" r="2.0" stroke="#2459a8"/>
<path d="M348.0 105.8L345.7 110.3L350.3 110.3Z" stroke="#2459a8"/>
<path d="M348.9 101.8L346.6 106.3L351.2 106.3Z" stroke="#2459a8"/>
<circle cx="349.3" cy="108.1" r="2.0" stroke="#2459a8"/>
<circle cx="346.9" cy="110.9" r="2.0" stroke="#2459a8"/>
<circle cx="346.9" cy="99.7" r="2.0" stroke="#2459a8"/>
<circle cx="348.7" cy="105.2" r="2.0" stroke="#2459a8"/>
<circle cx="352.2" cy="108.6" r="2.0" stroke="#2459a8"/>
<circle cx="351.0" cy="103.9" r="2.0" stroke="#2459a8"/>
<circle cx="352.0" cy="101.1" r="2.0" stroke="#2459a8"/>
<circle cx="350.8" cy="113.7" r="2.0" stroke="#2459a8"/>
<circle cx="364.9" cy="22.7" r="2.0" stroke="#24884f"/>
<circle cx="363.6" cy="26.5" r="2.0" stroke="#24884f"/>
<circle cx="367.4" cy="27.5" r="2.0" stroke="#24884f"/>
<circle cx="371.1" cy="26.2" r="2.0" stroke="#24884f"/>
<circle cx="366.1" cy="31.2" r="2.0" stroke="#24884f"/>
<circle cx="370.5" cy="31.2" r="2.0" stroke="#24884f"/>
<circle cx="366.7" cy="34.3" r="2.0" stroke="#24884f"/>
<circle cx="370.5" cy="34.3" r="2.0" stroke="#24884f"/>
<circle cx="368.6" cy="38.1" r="2.0" stroke="#24884f"/>
<circle cx="369.8" cy="40.0" r="2.0" stroke="#24884f"/>
<circle cx="369.2" cy="36.8" r="2.0" stroke="#24884f"/>
<circle cx="366.7" cy="29.3" r="2.0" stroke="#24884f"/>
<circle cx="371.1" cy="28.7" r="2.0" stroke="#24884f"/>
<circle cx="366.7" cy="47.7" r="2.0" stroke="#24884f"/>
<circle cx="368.0" cy="46.2" r="2.0" stroke="#24884f"/>
<circle cx="365.5" cy="56.2" r="2.0" stroke="#24884f"/>
<circle cx="363.6" cy="64.9" r="2.0" stroke="#24884f"/>
<circle cx="364.2" cy="66.1" r="2.0" stroke="#24884f"/>
<circle cx="363.0" cy="66.8" r="2.0" stroke="#24884f"/>
<circle cx="371.1" cy="64.3" r="2.0" stroke="#24884f"/>
<path d="M370.9 100.1L368.6 104.6L373.2 104.6Z" stroke="#24884f"/>
<path d="M369.7 108.7L367.4 113.2L372.0 113.2Z" stroke="#24884f"/>
<circle cx="369.9" cy="104.9" r="2.0" stroke="#24884f"/>
<circle cx="368.0" cy="111.7" r="2.0" stroke="#24884f"/>
<circle cx="365.4" cy="109.7" r="2.0" stroke="#24884f"/>
<circle cx="369.5" cy="105.2" r="2.0" stroke="#24884f"/>
<circle cx="364.3" cy="102.8" r="2.0" stroke="#24884f"/>
<circle cx="364.7" cy="113.5" r="2.0" stroke="#24884f"/>
<circle cx="362.8" cy="106.8" r="2.0" stroke="#24884f"/>
<circle cx="365.4" cy="109.3" r="2.0" stroke="#24884f"/>
<circle cx="370.5" cy="108.3" r="2.0" stroke="#24884f"/>
<circle cx="364.9" cy="114.6" r="2.0" stroke="#24884f"/>
<circle cx="363.4" cy="103.6" r="2.0" stroke="#24884f"/>
<circle cx="368.9" cy="100.5" r="2.0" stroke="#24884f"/>
<circle cx="364.6" cy="101.5" r="2.0" stroke="#24884f"/>
<circle cx="368.1" cy="111.0" r="2.0" stroke="#24884f"/>
<circle cx="369.2" cy="113.3" r="2.0" stroke="#24884f"/>
<circle cx="418.9" cy="29.4" r="2.0" stroke="#24884f"/>
<circle cx="423.8" cy="26.2" r="2.0" stroke="#24884f"/>
<circle cx="418.9" cy="64.9" r="2.0" stroke="#24884f"/>
<circle cx="422.0" cy="65.5" r="2.0" stroke="#24884f"/>
<circle cx="424.5" cy="64.3" r="2.0" stroke="#24884f"/>
<path d="M418.2 69.7L415.9 74.2L420.5 74.2Z" stroke="#24884f"/>
<path d="M420.7 68.4L418.4 72.9L423.0 72.9Z" stroke="#24884f"/>
<circle cx="423.8" cy="71.1" r="2.0" stroke="#24884f"/>
<circle cx="425.7" cy="72.4" r="2.0" stroke="#24884f"/>
<path d="M418.9 74.0L416.6 78.5L421.2 78.5Z" stroke="#24884f"/>
<path d="M418.3 80.9L416.0 85.4L420.6 85.4Z" stroke="#24884f"/>
<circle cx="420.1" cy="82.5" r="2.0" stroke="#24884f"/>
<circle cx="422.9" cy="83.1" r="2.0" stroke="#24884f"/>
<circle cx="424.7" cy="85.9" r="2.0" stroke="#24884f"/>
<circle cx="421.8" cy="87.1" r="2.0" stroke="#24884f"/>
<circle cx="423.5" cy="88.8" r="2.0" stroke="#24884f"/>
<path d="M421.2 87.3L418.9 91.8L423.5 91.8Z" stroke="#24884f"/>
<circle cx="418.9" cy="85.9" r="2.0" stroke="#24884f"/>
<circle cx="421.8" cy="108.4" r="2.0" stroke="#24884f"/>
<path d="M420.6 111.4L418.3 115.9L422.9 115.9Z" stroke="#24884f"/>
<path d="M422.9 112.6L420.6 117.1L425.2 117.1Z" stroke="#24884f"/>
<circle cx="420.6" cy="121.6" r="2.0" stroke="#24884f"/>
<path d="M419.2 43.7L416.9 48.2L421.5 48.2Z" stroke="#24884f"/>
<path d="M419.8 54.8L417.5 59.3L422.1 59.3Z" stroke="#24884f"/>
<path d="M419.2 40.9L416.9 45.4L421.5 45.4Z" stroke="#24884f"/>
<circle cx="419.6" cy="51.0" r="2.0" stroke="#24884f"/>
<circle cx="421.4" cy="43.2" r="2.0" stroke="#24884f"/>
<circle cx="418.7" cy="58.4" r="2.0" stroke="#24884f"/>
<circle cx="418.2" cy="43.5" r="2.0" stroke="#24884f"/>
<circle cx="423.7" cy="48.9" r="2.0" stroke="#24884f"/>
<circle cx="420.9" cy="50.1" r="2.0" stroke="#24884f"/>
<circle cx="423.7" cy="44.8" r="2.0" stroke="#24884f"/>
<circle cx="418.3" cy="48.3" r="2.0" stroke="#24884f"/>
<circle cx="423.4" cy="53.0" r="2.0" stroke="#24884f"/>
<circle cx="418.5" cy="52.3" r="2.0" stroke="#24884f"/>
<circle cx="419.2" cy="54.5" r="2.0" stroke="#24884f"/>
<circle cx="423.0" cy="57.6" r="2.0" stroke="#24884f"/>
<circle cx="418.0" cy="47.3" r="2.0" stroke="#24884f"/>
<circle cx="422.6" cy="56.3" r="2.0" stroke="#24884f"/>
<circle cx="418.2" cy="55.2" r="2.0" stroke="#24884f"/>
<circle cx="418.3" cy="46.6" r="2.0" stroke="#24884f"/>
<circle cx="435.7" cy="42.4" r="2.0" stroke="#d6731f"/>
<circle cx="440.7" cy="41.8" r="2.0" stroke="#d6731f"/>
<path d="M438.8 41.6L436.5 46.1L441.1 46.1Z" stroke="#d6731f"/>
<path d="M441.3 43.5L439.0 48.0L443.6 48.0Z" stroke="#d6731f"/>
<path d="M435.7 46.0L433.4 50.5L438.0 50.5Z" stroke="#d6731f"/>
<circle cx="442.6" cy="46.8" r="2.0" stroke="#d6731f"/>
<path d="M440.1 47.2L437.8 51.7L442.4 51.7Z" stroke="#d6731f"/>
<path d="M441.9 52.2L439.6 56.7L444.2 56.7Z" stroke="#d6731f"/>
<path d="M441.3 60.3L439.0 64.8L443.6 64.8Z" stroke="#d6731f"/>
<path d="M440.1 63.4L437.8 67.9L442.4 67.9Z" stroke="#d6731f"/>
<circle cx="438.8" cy="69.3" r="2.0" stroke="#d6731f"/>
<circle cx="436.3" cy="71.1" r="2.0" stroke="#d6731f"/>
<circle cx="441.3" cy="70.5" r="2.0" stroke="#d6731f"/>
<circle cx="436.3" cy="73.6" r="2.0" stroke="#d6731f"/>
<circle cx="442.6" cy="73.6" r="2.0" stroke="#d6731f"/>
<circle cx="438.8" cy="74.9" r="2.0" stroke="#d6731f"/>
<path d="M440.1 77.2L437.8 81.7L442.4 81.7Z" stroke="#d6731f"/>
<circle cx="441.9" cy="79.9" r="2.0" stroke="#d6731f"/>
<path d="M439.0 77.5L436.7 82.0L441.3 82.0Z" stroke="#d6731f"/>
<circle cx="441.3" cy="79.6" r="2.0" stroke="#d6731f"/>
<circle cx="459.4" cy="48.1" r="2.0" stroke="#2459a8"/>
<circle cx="458.8" cy="49.9" r="2.0" stroke="#2459a8"/>
<circle cx="460.6" cy="53.1" r="2.0" stroke="#2459a8"/>
<circle cx="459.4" cy="51.8" r="2.0" stroke="#2459a8"/>
<circle cx="454.4" cy="69.3" r="2.0" stroke="#2459a8"/>
<circle cx="456.3" cy="67.4" r="2.0" stroke="#2459a8"/>
<circle cx="455.7" cy="71.1" r="2.0" stroke="#2459a8"/>
<circle cx="458.1" cy="72.4" r="2.0" stroke="#2459a8"/>
<path d="M459.4 69.1L457.1 73.6L461.7 73.6Z" stroke="#2459a8"/>
<circle cx="454.4" cy="81.1" r="2.0" stroke="#2459a8"/>
<circle cx="458.1" cy="79.9" r="2.0" stroke="#2459a8"/>
<circle cx="456.3" cy="83.0" r="2.0" stroke="#2459a8"/>
<circle cx="458.0" cy="79.6" r="2.0" stroke="#2459a8"/>
<circle cx="454.6" cy="81.3" r="2.0" stroke="#2459a8"/>
<circle cx="456.3" cy="83.6" r="2.0" stroke="#2459a8"/>
<path d="M457.5 82.7L455.2 87.2L459.8 87.2Z" stroke="#2459a8"/>
<circle cx="454.6" cy="90.0" r="2.0" stroke="#2459a8"/>
<path d="M455.2 89.6L452.9 94.1L457.5 94.1Z" stroke="#2459a8"/>
<path d="M460.3 91.9L458.0 96.4L462.6 96.4Z" stroke="#2459a8"/>
<path d="M458.0 96.5L455.7 101.0L460.3 101.0Z" stroke="#2459a8"/>
<circle cx="454.6" cy="103.2" r="2.0" stroke="#2459a8"/>
<circle cx="459.8" cy="111.8" r="2.0" stroke="#2459a8"/>
<circle cx="454.6" cy="119.3" r="2.0" stroke="#2459a8"/>
<circle cx="456.5" cy="87.5" r="2.0" stroke="#2459a8"/>
<circle cx="471.6" cy="22.9" r="2.0" stroke="#24884f"/>
<circle cx="473.9" cy="23.5" r="2.0" stroke="#24884f"/>
<circle cx="475.6" cy="25.8" r="2.0" stroke="#24884f"/>
<circle cx="475.1" cy="28.1" r="2.0" stroke="#24884f"/>
<circle cx="473.3" cy="29.3" r="2.0" stroke="#24884f"/>
<circle cx="472.8" cy="32.7" r="2.0" stroke="#24884f"/>
<circle cx="474.5" cy="35.0" r="2.0" stroke="#24884f"/>
<circle cx="476.8" cy="36.2" r="2.0" stroke="#24884f"/>
<circle cx="478.5" cy="35.0" r="2.0" stroke="#24884f"/>
<circle cx="480.2" cy="31.0" r="2.0" stroke="#24884f"/>
<circle cx="479.7" cy="37.3" r="2.0" stroke="#24884f"/>
<circle cx="475.6" cy="38.5" r="2.0" stroke="#24884f"/>
<circle cx="477.9" cy="33.3" r="2.0" stroke="#24884f"/>
<circle cx="472.2" cy="33.9" r="2.0" stroke="#24884f"/>
<circle cx="471.6" cy="44.8" r="2.0" stroke="#24884f"/>
<circle cx="479.7" cy="45.4" r="2.0" stroke="#24884f"/>
<circle cx="472.8" cy="48.8" r="2.0" stroke="#24884f"/>
<circle cx="476.2" cy="50.0" r="2.0" stroke="#24884f"/>
<circle cx="472.2" cy="52.3" r="2.0" stroke="#24884f"/>
<circle cx="475.6" cy="53.4" r="2.0" stroke="#24884f"/>
<circle cx="479.1" cy="53.4" r="2.0" stroke="#24884f"/>
<circle cx="473.3" cy="55.7" r="2.0" stroke="#24884f"/>
<circle cx="477.4" cy="56.3" r="2.0" stroke="#24884f"/>
<circle cx="480.2" cy="55.7" r="2.0" stroke="#24884f"/>
<circle cx="473.9" cy="59.2" r="2.0" stroke="#24884f"/>
<circle cx="477.9" cy="58.6" r="2.0" stroke="#24884f"/>
<circle cx="472.8" cy="61.5" r="2.0" stroke="#24884f"/>
<circle cx="476.2" cy="62.6" r="2.0" stroke="#24884f"/>
<circle cx="479.7" cy="62.6" r="2.0" stroke="#24884f"/>
<circle cx="474.5" cy="64.9" r="2.0" stroke="#24884f"/>
<circle cx="477.9" cy="64.4" r="2.0" stroke="#24884f"/>
<circle cx="475.6" cy="66.7" r="2.0" stroke="#24884f"/>
<circle cx="472.2" cy="58.0" r="2.0" stroke="#24884f"/>
<circle cx="480.8" cy="59.2" r="2.0" stroke="#24884f"/>
<circle cx="474.5" cy="51.5" r="2.0" stroke="#24884f"/>
<circle cx="477.5" cy="52.0" r="2.0" stroke="#24884f"/>
<circle cx="475.0" cy="57.5" r="2.0" stroke="#24884f"/>
<circle cx="478.5" cy="60.5" r="2.0" stroke="#24884f"/>
<circle cx="472.8" cy="76.3" r="2.0" stroke="#24884f"/>
<circle cx="475.1" cy="78.1" r="2.0" stroke="#24884f"/>
<circle cx="477.4" cy="78.6" r="2.0" stroke="#24884f"/>
<circle cx="478.5" cy="77.5" r="2.0" stroke="#24884f"/>
<circle cx="476.2" cy="80.4" r="2.0" stroke="#24884f"/>
<circle cx="474.5" cy="104.0" r="2.0" stroke="#24884f"/>
<circle cx="473.3" cy="107.4" r="2.0" stroke="#24884f"/>
<circle cx="476.2" cy="105.7" r="2.0" stroke="#24884f"/>
<circle cx="479.1" cy="105.7" r="2.0" stroke="#24884f"/>
<circle cx="475.1" cy="105.1" r="2.0" stroke="#24884f"/>
<circle cx="491.7" cy="17.8" r="2.0" stroke="#d6731f"/>
<circle cx="497.5" cy="17.2" r="2.0" stroke="#d6731f"/>
<circle cx="490.6" cy="22.4" r="2.0" stroke="#d6731f"/>
<circle cx="497.5" cy="31.6" r="2.0" stroke="#d6731f"/>
<circle cx="495.8" cy="33.9" r="2.0" stroke="#d6731f"/>
<circle cx="497.5" cy="36.7" r="2.0" stroke="#d6731f"/>
<circle cx="498.1" cy="39.0" r="2.0" stroke="#d6731f"/>
<path d="M491.7 47.3L489.4 51.8L494.0 51.8Z" stroke="#d6731f"/>
<path d="M495.2 46.1L492.9 50.6L497.5 50.6Z" stroke="#d6731f"/>
<circle cx="493.5" cy="51.7" r="2.0" stroke="#d6731f"/>
<path d="M490.6 50.2L488.3 54.7L492.9 54.7Z" stroke="#d6731f"/>
<path d="M496.3 48.4L494.0 52.9L498.6 52.9Z" stroke="#d6731f"/>
<path d="M494.6 51.9L492.3 56.4L496.9 56.4Z" stroke="#d6731f"/>
<path d="M495.8 54.8L493.5 59.3L498.1 59.3Z" stroke="#d6731f"/>
<path d="M493.5 54.2L491.2 58.7L495.8 58.7Z" stroke="#d6731f"/>
<circle cx="490.6" cy="102.5" r="2.0" stroke="#d6731f"/>
<circle cx="492.3" cy="102.5" r="2.0" stroke="#d6731f"/>
<circle cx="497.5" cy="105.9" r="2.0" stroke="#d6731f"/>
<circle cx="493.2" cy="121.8" r="2.0" stroke="#d6731f"/>
<circle cx="511.3" cy="17.2" r="2.0" stroke="#2459a8"/>
<circle cx="514.2" cy="20.6" r="2.0" stroke="#2459a8"/>
<circle cx="510.2" cy="22.4" r="2.0" stroke="#2459a8"/>
<circle cx="511.9" cy="24.1" r="2.0" stroke="#2459a8"/>
<circle cx="510.7" cy="20.1" r="2.0" stroke="#2459a8"/>
<path d="M510.7 37.5L508.4 42.0L513.0 42.0Z" stroke="#2459a8"/>
<circle cx="508.4" cy="43.1" r="2.0" stroke="#2459a8"/>
<circle cx="512.5" cy="41.9" r="2.0" stroke="#2459a8"/>
<circle cx="515.3" cy="44.8" r="2.0" stroke="#2459a8"/>
<circle cx="509.0" cy="46.5" r="2.0" stroke="#2459a8"/>
<circle cx="513.0" cy="45.9" r="2.0" stroke="#2459a8"/>
<circle cx="510.7" cy="48.8" r="2.0" stroke="#2459a8"/>
<circle cx="514.2" cy="49.4" r="2.0" stroke="#2459a8"/>
<circle cx="507.9" cy="50.5" r="2.0" stroke="#2459a8"/>
<circle cx="511.9" cy="51.1" r="2.0" stroke="#2459a8"/>
<path d="M509.6 50.7L507.3 55.2L511.9 55.2Z" stroke="#2459a8"/>
<circle cx="513.0" cy="53.4" r="2.0" stroke="#2459a8"/>
<circle cx="514.8" cy="54.6" r="2.0" stroke="#2459a8"/>
<path d="M511.3 52.5L509.0 57.0L513.6 57.0Z" stroke="#2459a8"/>
<circle cx="508.4" cy="54.6" r="2.0" stroke="#2459a8"/>
<circle cx="511.9" cy="99.3" r="2.0" stroke="#2459a8"/>
<circle cx="509.6" cy="100.8" r="2.0" stroke="#2459a8"/>
<circle cx="508.2" cy="105.7" r="2.0" stroke="#2459a8"/>
<circle cx="510.7" cy="112.3" r="2.0" stroke="#2459a8"/>
<circle cx="525.6" cy="28.6" r="2.0" stroke="#24884f"/>
<circle cx="526.8" cy="30.4" r="2.0" stroke="#24884f"/>
<circle cx="530.8" cy="30.9" r="2.0" stroke="#24884f"/>
<circle cx="532.5" cy="32.1" r="2.0" stroke="#24884f"/>
<circle cx="531.4" cy="38.7" r="2.0" stroke="#24884f"/>
<circle cx="532.2" cy="39.0" r="2.0" stroke="#24884f"/>
<circle cx="530.1" cy="40.2" r="2.0" stroke="#24884f"/>
<circle cx="531.7" cy="38.2" r="2.0" stroke="#24884f"/>
<circle cx="532.8" cy="39.8" r="2.0" stroke="#24884f"/>
<circle cx="530.5" cy="37.8" r="2.0" stroke="#24884f"/>
<circle cx="533.4" cy="43.8" r="2.0" stroke="#24884f"/>
<circle cx="533.9" cy="48.4" r="2.0" stroke="#24884f"/>
<circle cx="527.5" cy="44.3" r="2.0" stroke="#24884f"/>
<circle cx="531.0" cy="45.5" r="2.0" stroke="#24884f"/>
<circle cx="534.2" cy="48.6" r="2.0" stroke="#24884f"/>
<circle cx="531.6" cy="48.0" r="2.0" stroke="#24884f"/>
<circle cx="530.5" cy="48.9" r="2.0" stroke="#24884f"/>
<circle cx="528.5" cy="51.0" r="2.0" stroke="#24884f"/>
<circle cx="534.3" cy="47.6" r="2.0" stroke="#24884f"/>
<circle cx="530.4" cy="44.2" r="2.0" stroke="#24884f"/>
<circle cx="534.7" cy="46.3" r="2.0" stroke="#24884f"/>
<circle cx="527.1" cy="52.2" r="2.0" stroke="#24884f"/>
<circle cx="534.8" cy="51.7" r="2.0" stroke="#24884f"/>
<circle cx="526.5" cy="43.3" r="2.0" stroke="#24884f"/>
<circle cx="529.5" cy="45.3" r="2.0" stroke="#24884f"/>
<circle cx="531.6" cy="49.5" r="2.0" stroke="#24884f"/>
<circle cx="527.4" cy="46.9" r="2.0" stroke="#24884f"/>
<circle cx="528.0" cy="52.3" r="2.0" stroke="#24884f"/>
<circle cx="533.6" cy="43.6" r="2.0" stroke="#24884f"/>
<circle cx="527.6" cy="50.6" r="2.0" stroke="#24884f"/>
<circle cx="529.6" cy="51.4" r="2.0" stroke="#24884f"/>
<circle cx="529.5" cy="49.9" r="2.0" stroke="#24884f"/>
<circle cx="528.2" cy="46.2" r="2.0" stroke="#24884f"/>
<circle cx="534.1" cy="47.3" r="2.0" stroke="#24884f"/>
<circle cx="531.1" cy="45.9" r="2.0" stroke="#24884f"/>
<circle cx="526.3" cy="50.5" r="2.0" stroke="#24884f"/>
<circle cx="527.1" cy="47.1" r="2.0" stroke="#24884f"/>
<circle cx="531.0" cy="44.8" r="2.0" stroke="#24884f"/>
<circle cx="528.8" cy="49.7" r="2.0" stroke="#24884f"/>
<circle cx="527.3" cy="60.3" r="2.0" stroke="#24884f"/>
<circle cx="529.6" cy="59.1" r="2.0" stroke="#24884f"/>
<circle cx="532.5" cy="58.0" r="2.0" stroke="#24884f"/>
<circle cx="534.2" cy="61.4" r="2.0" stroke="#24884f"/>
<circle cx="528.0" cy="63.7" r="2.0" stroke="#24884f"/>
<circle cx="530.2" cy="63.1" r="2.0" stroke="#24884f"/>
<circle cx="532.0" cy="60.9" r="2.0" stroke="#24884f"/>
<circle cx="533.7" cy="54.5" r="2.0" stroke="#24884f"/>
<path d="M544.5 38.7L542.2 43.2L546.8 43.2Z" stroke="#d6731f"/>
<circle cx="548.2" cy="32.4" r="2.0" stroke="#d6731f"/>
<circle cx="549.4" cy="38.5" r="2.0" stroke="#d6731f"/>
<circle cx="551.2" cy="31.8" r="2.0" stroke="#d6731f"/>
<circle cx="547.7" cy="34.9" r="2.0" stroke="#d6731f"/>
<circle cx="547.4" cy="40.9" r="2.0" stroke="#d6731f"/>
<circle cx="550.9" cy="33.4" r="2.0" stroke="#d6731f"/>
<circle cx="549.8" cy="35.8" r="2.0" stroke="#d6731f"/>
<circle cx="545.5" cy="39.5" r="2.0" stroke="#d6731f"/>
<circle cx="547.0" cy="37.4" r="2.0" stroke="#d6731f"/>
<circle cx="545.1" cy="34.6" r="2.0" stroke="#d6731f"/>
<circle cx="551.7" cy="40.2" r="2.0" stroke="#d6731f"/>
<path d="M545.3 51.9L543.0 56.4L547.6 56.4Z" stroke="#d6731f"/>
<path d="M546.3 50.8L544.0 55.3L548.6 55.3Z" stroke="#d6731f"/>
<circle cx="545.2" cy="50.4" r="2.0" stroke="#d6731f"/>
<circle cx="551.8" cy="53.2" r="2.0" stroke="#d6731f"/>
<circle cx="546.2" cy="48.9" r="2.0" stroke="#d6731f"/>
<circle cx="546.7" cy="54.5" r="2.0" stroke="#d6731f"/>
<circle cx="545.5" cy="46.4" r="2.0" stroke="#d6731f"/>
<circle cx="552.0" cy="52.0" r="2.0" stroke="#d6731f"/>
<circle cx="551.6" cy="47.1" r="2.0" stroke="#d6731f"/>
<circle cx="550.7" cy="55.3" r="2.0" stroke="#d6731f"/>
<circle cx="548.5" cy="48.2" r="2.0" stroke="#d6731f"/>
<circle cx="547.1" cy="54.4" r="2.0" stroke="#d6731f"/>
<circle cx="548.7" cy="45.2" r="2.0" stroke="#d6731f"/>
<circle cx="551.5" cy="43.3" r="2.0" stroke="#d6731f"/>
<circle cx="552.4" cy="52.7" r="2.0" stroke="#d6731f"/>
<circle cx="547.4" cy="51.3" r="2.0" stroke="#d6731f"/>
<circle cx="546.3" cy="50.0" r="2.0" stroke="#d6731f"/>
<circle cx="548.9" cy="44.3" r="2.0" stroke="#d6731f"/>
<circle cx="550.5" cy="42.8" r="2.0" stroke="#d6731f"/>
<circle cx="545.5" cy="46.1" r="2.0" stroke="#d6731f"/>
<circle cx="570.2" cy="52.2" r="2.0" stroke="#2459a8"/>
<circle cx="564.8" cy="50.1" r="2.0" stroke="#2459a8"/>
<circle cx="563.2" cy="46.6" r="2.0" stroke="#2459a8"/>
<circle cx="565.8" cy="47.3" r="2.0" stroke="#2459a8"/>
<circle cx="565.9" cy="51.6" r="2.0" stroke="#2459a8"/>
<circle cx="567.7" cy="44.6" r="2.0" stroke="#2459a8"/>
<circle cx="564.6" cy="54.3" r="2.0" stroke="#2459a8"/>
<circle cx="566.8" cy="44.9" r="2.0" stroke="#2459a8"/>
<circle cx="570.5" cy="50.4" r="2.0" stroke="#2459a8"/>
<circle cx="564.2" cy="43.1" r="2.0" stroke="#2459a8"/>
<circle cx="568.1" cy="46.6" r="2.0" stroke="#2459a8"/>
<circle cx="569.3" cy="51.1" r="2.0" stroke="#2459a8"/>
<circle cx="565.1" cy="53.3" r="2.0" stroke="#2459a8"/>
<circle cx="568.2" cy="49.4" r="2.0" stroke="#2459a8"/>
<circle cx="565.8" cy="45.8" r="2.0" stroke="#2459a8"/>
<circle cx="566.6" cy="48.4" r="2.0" stroke="#2459a8"/>
<circle cx="568.9" cy="52.8" r="2.0" stroke="#2459a8"/>
<circle cx="570.2" cy="48.5" r="2.0" stroke="#2459a8"/>
<circle cx="567.3" cy="43.9" r="2.0" stroke="#2459a8"/>
<circle cx="567.3" cy="60.8" r="2.0" stroke="#2459a8"/>
<circle cx="568.3" cy="65.7" r="2.0" stroke="#2459a8"/>
<circle cx="569.2" cy="67.7" r="2.0" stroke="#2459a8"/>
<circle cx="567.6" cy="61.9" r="2.0" stroke="#2459a8"/>
<circle cx="566.7" cy="63.2" r="2.0" stroke="#2459a8"/>
<circle cx="563.7" cy="63.8" r="2.0" stroke="#2459a8"/>
<circle cx="564.5" cy="66.5" r="2.0" stroke="#2459a8"/>
<circle cx="565.2" cy="68.7" r="2.0" stroke="#2459a8"/>
<circle cx="564.0" cy="64.8" r="2.0" stroke="#2459a8"/>
<circle cx="570.9" cy="67.3" r="2.0" stroke="#2459a8"/>
<circle cx="565.2" cy="58.4" r="2.0" stroke="#2459a8"/>
<circle cx="568.4" cy="58.1" r="2.0" stroke="#2459a8"/>
<circle cx="568.8" cy="59.9" r="2.0" stroke="#2459a8"/>
<circle cx="571.3" cy="60.2" r="2.0" stroke="#2459a8"/>
<circle cx="583.3" cy="34.7" r="2.0" stroke="#24884f"/>
<circle cx="586.4" cy="32.6" r="2.0" stroke="#24884f"/>
<circle cx="588.4" cy="34.4" r="2.0" stroke="#24884f"/>
<circle cx="589.4" cy="35.7" r="2.0" stroke="#24884f"/>
<circle cx="585.9" cy="36.1" r="2.0" stroke="#24884f"/>
<circle cx="585.9" cy="31.0" r="2.0" stroke="#24884f"/>
<circle cx="582.0" cy="32.3" r="2.0" stroke="#24884f"/>
<circle cx="583.6" cy="37.1" r="2.0" stroke="#24884f"/>
<circle cx="587.9" cy="30.5" r="2.0" stroke="#24884f"/>
<circle cx="586.3" cy="29.3" r="2.0" stroke="#24884f"/>
<circle cx="583.1" cy="27.5" r="2.0" stroke="#24884f"/>
<circle cx="582.7" cy="33.5" r="2.0" stroke="#24884f"/>
<circle cx="583.0" cy="28.9" r="2.0" stroke="#24884f"/>
<circle cx="587.2" cy="29.6" r="2.0" stroke="#24884f"/>
<circle cx="582.9" cy="37.7" r="2.0" stroke="#24884f"/>
<circle cx="586.3" cy="44.6" r="2.0" stroke="#24884f"/>
<circle cx="585.7" cy="45.5" r="2.0" stroke="#24884f"/>
<circle cx="586.7" cy="44.4" r="2.0" stroke="#24884f"/>
<circle cx="582.5" cy="60.5" r="2.0" stroke="#24884f"/>
<circle cx="582.6" cy="56.0" r="2.0" stroke="#24884f"/>
<circle cx="587.5" cy="59.7" r="2.0" stroke="#24884f"/>
<circle cx="586.0" cy="55.6" r="2.0" stroke="#24884f"/>
<circle cx="43.9" cy="190.2" r="2.0" stroke="#24884f"/>
<circle cx="40.5" cy="188.3" r="2.0" stroke="#24884f"/>
<circle cx="42.1" cy="182.5" r="2.0" stroke="#24884f"/>
<circle cx="43.1" cy="191.5" r="2.0" stroke="#24884f"/>
<circle cx="41.3" cy="187.0" r="2.0" stroke="#24884f"/>
<circle cx="44.4" cy="181.3" r="2.0" stroke="#24884f"/>
<circle cx="43.8" cy="183.1" r="2.0" stroke="#24884f"/>
<circle cx="39.6" cy="186.6" r="2.0" stroke="#24884f"/>
<circle cx="38.6" cy="197.0" r="2.0" stroke="#24884f"/>
<circle cx="39.2" cy="185.0" r="2.0" stroke="#24884f"/>
<circle cx="39.5" cy="194.6" r="2.0" stroke="#24884f"/>
<circle cx="46.1" cy="195.6" r="2.0" stroke="#24884f"/>
<circle cx="42.0" cy="189.5" r="2.0" stroke="#24884f"/>
<circle cx="44.6" cy="192.5" r="2.0" stroke="#24884f"/>
<circle cx="42.0" cy="191.0" r="2.0" stroke="#24884f"/>
<circle cx="44.9" cy="195.0" r="2.0" stroke="#24884f"/>
<circle cx="45.8" cy="184.5" r="2.0" stroke="#24884f"/>
<circle cx="39.6" cy="184.0" r="2.0" stroke="#24884f"/>
<circle cx="42.0" cy="193.2" r="2.0" stroke="#24884f"/>
<circle cx="43.2" cy="188.3" r="2.0" stroke="#24884f"/>
<circle cx="44.5" cy="198.6" r="2.0" stroke="#24884f"/>
<circle cx="44.5" cy="197.7" r="2.0" stroke="#24884f"/>
<circle cx="37.9" cy="206.3" r="2.0" stroke="#24884f"/>
<circle cx="39.6" cy="205.7" r="2.0" stroke="#24884f"/>
<circle cx="41.2" cy="204.6" r="2.0" stroke="#24884f"/>
<circle cx="43.4" cy="203.5" r="2.0" stroke="#24884f"/>
<circle cx="45.0" cy="203.0" r="2.0" stroke="#24884f"/>
<circle cx="46.1" cy="204.6" r="2.0" stroke="#24884f"/>
<circle cx="43.9" cy="206.8" r="2.0" stroke="#24884f"/>
<circle cx="41.7" cy="207.4" r="2.0" stroke="#24884f"/>
<circle cx="39.0" cy="205.2" r="2.0" stroke="#24884f"/>
<path d="M44.5 212.9L42.2 217.4L46.8 217.4Z" stroke="#24884f"/>
<circle cx="38.5" cy="226.9" r="2.0" stroke="#24884f"/>
<circle cx="40.6" cy="228.3" r="2.0" stroke="#24884f"/>
<circle cx="42.7" cy="227.6" r="2.0" stroke="#24884f"/>
<circle cx="46.1" cy="229.7" r="2.0" stroke="#24884f"/>
<circle cx="42.7" cy="231.7" r="2.0" stroke="#24884f"/>
<circle cx="39.2" cy="229.0" r="2.0" stroke="#24884f"/>
<circle cx="42.7" cy="241.4" r="2.0" stroke="#24884f"/>
<circle cx="42.7" cy="244.9" r="2.0" stroke="#24884f"/>
<circle cx="43.4" cy="243.8" r="2.0" stroke="#24884f"/>
<path d="M39.2 249.4L36.9 253.9L41.5 253.9Z" stroke="#24884f"/>
<circle cx="41.0" cy="287.8" r="2.0" stroke="#24884f"/>
<circle cx="41.4" cy="287.8" r="2.0" stroke="#24884f"/>
<circle cx="39.4" cy="287.8" r="2.0" stroke="#24884f"/>
<circle cx="43.0" cy="287.8" r="2.0" stroke="#24884f"/>
<circle cx="39.0" cy="287.8" r="2.0" stroke="#24884f"/>
<circle cx="43.5" cy="287.8" r="2.0" stroke="#24884f"/>
<circle cx="38.3" cy="287.8" r="2.0" stroke="#24884f"/>
<circle cx="42.2" cy="287.8" r="2.0" stroke="#24884f"/>
<circle cx="41.6" cy="287.8" r="2.0" stroke="#24884f"/>
<circle cx="40.6" cy="287.8" r="2.0" stroke="#24884f"/>
<circle cx="61.6" cy="177.8" r="2.0" stroke="#d6731f"/>
<path d="M60.9 181.2L58.6 185.7L63.2 185.7Z" stroke="#d6731f"/>
<circle cx="63.1" cy="183.9" r="2.0" stroke="#d6731f"/>
<circle cx="59.2" cy="188.2" r="2.0" stroke="#d6731f"/>
<circle cx="57.6" cy="191.0" r="2.0" stroke="#d6731f"/>
<circle cx="60.9" cy="191.5" r="2.0" stroke="#d6731f"/>
<circle cx="62.0" cy="190.4" r="2.0" stroke="#d6731f"/>
<circle cx="56.5" cy="194.8" r="2.0" stroke="#d6731f"/>
<circle cx="59.2" cy="194.2" r="2.0" stroke="#d6731f"/>
<circle cx="61.4" cy="195.9" r="2.0" stroke="#d6731f"/>
<circle cx="58.2" cy="196.4" r="2.0" stroke="#d6731f"/>
<circle cx="62.0" cy="198.6" r="2.0" stroke="#d6731f"/>
<circle cx="60.3" cy="192.6" r="2.0" stroke="#d6731f"/>
<path d="M59.0 216.7L56.7 221.2L61.3 221.2Z" stroke="#d6731f"/>
<circle cx="63.1" cy="223.8" r="2.0" stroke="#d6731f"/>
<path d="M59.3 244.9L57.0 249.4L61.6 249.4Z" stroke="#d6731f"/>
<circle cx="55.8" cy="251.8" r="2.0" stroke="#d6731f"/>
<circle cx="58.6" cy="252.1" r="2.0" stroke="#d6731f"/>
<circle cx="60.6" cy="251.8" r="2.0" stroke="#d6731f"/>
<path d="M58.6 285.0L56.3 289.5L60.9 289.5Z" stroke="#d6731f"/>
<circle cx="62.0" cy="288.0" r="2.0" stroke="#d6731f"/>
<circle cx="57.2" cy="288.1" r="2.0" stroke="#d6731f"/>
<circle cx="79.5" cy="175.7" r="2.0" stroke="#2459a8"/>
<circle cx="81.1" cy="178.4" r="2.0" stroke="#2459a8"/>
<circle cx="80.0" cy="181.1" r="2.0" stroke="#2459a8"/>
<circle cx="78.4" cy="177.3" r="2.0" stroke="#2459a8"/>
<circle cx="81.7" cy="176.2" r="2.0" stroke="#2459a8"/>
<circle cx="73.5" cy="186.0" r="2.0" stroke="#2459a8"/>
<circle cx="75.1" cy="188.2" r="2.0" stroke="#2459a8"/>
<circle cx="77.8" cy="187.7" r="2.0" stroke="#2459a8"/>
<circle cx="79.5" cy="186.6" r="2.0" stroke="#2459a8"/>
<circle cx="81.1" cy="187.1" r="2.0" stroke="#2459a8"/>
<circle cx="74.0" cy="191.5" r="2.0" stroke="#2459a8"/>
<circle cx="78.9" cy="189.3" r="2.0" stroke="#2459a8"/>
<path d="M80.0 186.1L77.7 190.6L82.3 190.6Z" stroke="#2459a8"/>
<circle cx="76.7" cy="186.6" r="2.0" stroke="#2459a8"/>
<circle cx="78.5" cy="188.5" r="2.0" stroke="#2459a8"/>
<circle cx="80.5" cy="190.0" r="2.0" stroke="#2459a8"/>
<circle cx="76.7" cy="205.7" r="2.0" stroke="#2459a8"/>
<path d="M80.6 202.5L78.3 207.0L82.9 207.0Z" stroke="#2459a8"/>
<circle cx="74.6" cy="209.6" r="2.0" stroke="#2459a8"/>
<circle cx="77.8" cy="212.3" r="2.0" stroke="#2459a8"/>
<circle cx="73.8" cy="233.8" r="2.0" stroke="#2459a8"/>
<circle cx="79.3" cy="230.4" r="2.0" stroke="#2459a8"/>
<circle cx="76.5" cy="248.3" r="2.0" stroke="#2459a8"/>
<circle cx="80.0" cy="255.5" r="2.0" stroke="#2459a8"/>
<path d="M75.2 285.0L72.9 289.5L77.5 289.5Z" stroke="#2459a8"/>
<circle cx="77.9" cy="287.7" r="2.0" stroke="#2459a8"/>
<path d="M80.7 285.0L78.4 289.5L83.0 289.5Z" stroke="#2459a8"/>
<circle cx="95.7" cy="189.0" r="2.0" stroke="#24884f"/>
<circle cx="97.7" cy="188.7" r="2.0" stroke="#24884f"/>
<circle cx="99.5" cy="189.4" r="2.0" stroke="#24884f"/>
<circle cx="92.2" cy="203.7" r="2.0" stroke="#24884f"/>
<circle cx="94.8" cy="202.0" r="2.0" stroke="#24884f"/>
<circle cx="97.4" cy="202.9" r="2.0" stroke="#24884f"/>
<circle cx="100.0" cy="202.0" r="2.0" stroke="#24884f"/>
<circle cx="98.2" cy="206.3" r="2.0" stroke="#24884f"/>
<circle cx="93.9" cy="204.6" r="2.0" stroke="#24884f"/>
<path d="M96.2 220.9L93.9 225.4L98.5 225.4Z" stroke="#24884f"/>
<path d="M94.2 215.3L91.9 219.8L96.5 219.8Z" stroke="#24884f"/>
<path d="M94.7 219.4L92.4 223.9L97.0 223.9Z" stroke="#24884f"/>
<path d="M99.7 215.0L97.4 219.5L102.0 219.5Z" stroke="#24884f"/>
<path d="M93.4 215.8L91.1 220.3L95.7 220.3Z" stroke="#24884f"/>
<circle cx="95.0" cy="223.7" r="2.0" stroke="#24884f"/>
<circle cx="93.5" cy="221.8" r="2.0" stroke="#24884f"/>
<circle cx="93.7" cy="218.1" r="2.0" stroke="#24884f"/>
<circle cx="98.6" cy="218.3" r="2.0" stroke="#24884f"/>
<circle cx="100.8" cy="219.9" r="2.0" stroke="#24884f"/>
<path d="M99.8 228.9L97.5 233.4L102.1 233.4Z" stroke="#24884f"/>
<path d="M94.0 238.9L91.7 243.4L96.3 243.4Z" stroke="#24884f"/>
<path d="M94.7 221.2L92.4 225.7L97.0 225.7Z" stroke="#24884f"/>
<circle cx="94.3" cy="226.2" r="2.0" stroke="#24884f"/>
<circle cx="92.1" cy="241.3" r="2.0" stroke="#24884f"/>
<circle cx="99.8" cy="231.0" r="2.0" stroke="#24884f"/>
<circle cx="97.3" cy="224.1" r="2.0" stroke="#24884f"/>
<circle cx="99.7" cy="229.0" r="2.0" stroke="#24884f"/>
<circle cx="97.9" cy="234.1" r="2.0" stroke="#24884f"/>
<circle cx="97.8" cy="231.9" r="2.0" stroke="#24884f"/>
<circle cx="94.1" cy="237.3" r="2.0" stroke="#24884f"/>
<circle cx="93.1" cy="238.5" r="2.0" stroke="#24884f"/>
<circle cx="94.4" cy="225.2" r="2.0" stroke="#24884f"/>
<circle cx="100.1" cy="226.7" r="2.0" stroke="#24884f"/>
<circle cx="95.6" cy="236.9" r="2.0" stroke="#24884f"/>
<circle cx="93.4" cy="230.2" r="2.0" stroke="#24884f"/>
<circle cx="96.4" cy="239.1" r="2.0" stroke="#24884f"/>
<circle cx="99.8" cy="234.7" r="2.0" stroke="#24884f"/>
<circle cx="98.0" cy="233.1" r="2.0" stroke="#24884f"/>
<circle cx="100.1" cy="240.4" r="2.0" stroke="#24884f"/>
<circle cx="92.1" cy="228.2" r="2.0" stroke="#24884f"/>
<circle cx="100.3" cy="235.3" r="2.0" stroke="#24884f"/>
<circle cx="113.8" cy="179.5" r="2.0" stroke="#d6731f"/>
<circle cx="117.3" cy="183.0" r="2.0" stroke="#d6731f"/>
<circle cx="113.0" cy="183.0" r="2.0" stroke="#d6731f"/>
<circle cx="116.4" cy="189.9" r="2.0" stroke="#d6731f"/>
<circle cx="119.0" cy="191.6" r="2.0" stroke="#d6731f"/>
<circle cx="113.0" cy="194.2" r="2.0" stroke="#d6731f"/>
<circle cx="114.7" cy="192.5" r="2.0" stroke="#d6731f"/>
<circle cx="111.2" cy="205.5" r="2.0" stroke="#d6731f"/>
<circle cx="113.8" cy="204.6" r="2.0" stroke="#d6731f"/>
<circle cx="116.4" cy="203.7" r="2.0" stroke="#d6731f"/>
<circle cx="114.7" cy="206.7" r="2.0" stroke="#d6731f"/>
<path d="M115.4 220.0L113.1 224.5L117.7 224.5Z" stroke="#d6731f"/>
<path d="M113.3 215.9L111.0 220.4L115.6 220.4Z" stroke="#d6731f"/>
<path d="M110.7 234.0L108.4 238.5L113.0 238.5Z" stroke="#d6731f"/>
<circle cx="115.3" cy="220.5" r="2.0" stroke="#d6731f"/>
<circle cx="114.9" cy="223.5" r="2.0" stroke="#d6731f"/>
<circle cx="112.6" cy="218.9" r="2.0" stroke="#d6731f"/>
<circle cx="118.0" cy="233.7" r="2.0" stroke="#d6731f"/>
<circle cx="118.4" cy="235.7" r="2.0" stroke="#d6731f"/>
<circle cx="113.9" cy="218.1" r="2.0" stroke="#d6731f"/>
<circle cx="117.8" cy="230.3" r="2.0" stroke="#d6731f"/>
<circle cx="116.7" cy="231.8" r="2.0" stroke="#d6731f"/>
<circle cx="115.4" cy="222.6" r="2.0" stroke="#d6731f"/>
<circle cx="116.9" cy="231.1" r="2.0" stroke="#d6731f"/>
<circle cx="115.6" cy="226.8" r="2.0" stroke="#d6731f"/>
<circle cx="116.7" cy="238.1" r="2.0" stroke="#d6731f"/>
<circle cx="118.4" cy="236.3" r="2.0" stroke="#d6731f"/>
<circle cx="115.5" cy="226.0" r="2.0" stroke="#d6731f"/>
<circle cx="114.0" cy="224.7" r="2.0" stroke="#d6731f"/>
<circle cx="112.0" cy="217.8" r="2.0" stroke="#d6731f"/>
<circle cx="115.8" cy="228.2" r="2.0" stroke="#d6731f"/>
<circle cx="115.7" cy="234.0" r="2.0" stroke="#d6731f"/>
<circle cx="116.8" cy="237.7" r="2.0" stroke="#d6731f"/>
<circle cx="113.1" cy="227.3" r="2.0" stroke="#d6731f"/>
<circle cx="112.8" cy="229.9" r="2.0" stroke="#d6731f"/>
<circle cx="115.3" cy="219.4" r="2.0" stroke="#d6731f"/>
<circle cx="117.5" cy="224.9" r="2.0" stroke="#d6731f"/>
<circle cx="112.6" cy="228.5" r="2.0" stroke="#d6731f"/>
<circle cx="110.8" cy="236.8" r="2.0" stroke="#d6731f"/>
<circle cx="112.8" cy="235.0" r="2.0" stroke="#d6731f"/>
<circle cx="114.5" cy="232.6" r="2.0" stroke="#d6731f"/>
<circle cx="114.9" cy="221.2" r="2.0" stroke="#d6731f"/>
<circle cx="111.8" cy="221.5" r="2.0" stroke="#d6731f"/>
<circle cx="112.5" cy="229.3" r="2.0" stroke="#d6731f"/>
<circle cx="114.9" cy="223.4" r="2.0" stroke="#d6731f"/>
<circle cx="128.5" cy="201.1" r="2.0" stroke="#2459a8"/>
<circle cx="132.0" cy="199.4" r="2.0" stroke="#2459a8"/>
<circle cx="136.3" cy="200.3" r="2.0" stroke="#2459a8"/>
<circle cx="132.8" cy="203.7" r="2.0" stroke="#2459a8"/>
<circle cx="130.3" cy="205.5" r="2.0" stroke="#2459a8"/>
<circle cx="134.6" cy="202.9" r="2.0" stroke="#2459a8"/>
<circle cx="134.0" cy="255.6" r="2.0" stroke="#2459a8"/>
<path d="M136.5 218.6L134.2 223.1L138.8 223.1Z" stroke="#2459a8"/>
<path d="M129.8 219.1L127.5 223.6L132.1 223.6Z" stroke="#2459a8"/>
<path d="M133.8 218.5L131.5 223.0L136.1 223.0Z" stroke="#2459a8"/>
<path d="M134.4 219.2L132.1 223.7L136.7 223.7Z" stroke="#2459a8"/>
<circle cx="135.5" cy="222.3" r="2.0" stroke="#2459a8"/>
<circle cx="130.1" cy="221.2" r="2.0" stroke="#2459a8"/>
<circle cx="133.1" cy="217.2" r="2.0" stroke="#2459a8"/>
<circle cx="132.3" cy="219.4" r="2.0" stroke="#2459a8"/>
<circle cx="133.4" cy="219.8" r="2.0" stroke="#2459a8"/>
<circle cx="130.4" cy="217.6" r="2.0" stroke="#2459a8"/>
<circle cx="135.9" cy="232.9" r="2.0" stroke="#2459a8"/>
<circle cx="132.1" cy="241.6" r="2.0" stroke="#2459a8"/>
<circle cx="129.0" cy="234.1" r="2.0" stroke="#2459a8"/>
<circle cx="134.1" cy="229.0" r="2.0" stroke="#2459a8"/>
<circle cx="133.8" cy="238.7" r="2.0" stroke="#2459a8"/>
<circle cx="136.8" cy="235.6" r="2.0" stroke="#2459a8"/>
<circle cx="137.2" cy="242.1" r="2.0" stroke="#2459a8"/>
<circle cx="132.7" cy="228.9" r="2.0" stroke="#2459a8"/>
<circle cx="128.6" cy="235.1" r="2.0" stroke="#2459a8"/>
<circle cx="134.0" cy="223.8" r="2.0" stroke="#2459a8"/>
<circle cx="136.1" cy="232.0" r="2.0" stroke="#2459a8"/>
<circle cx="132.6" cy="231.3" r="2.0" stroke="#2459a8"/>
<circle cx="135.3" cy="225.5" r="2.0" stroke="#2459a8"/>
<circle cx="132.3" cy="230.2" r="2.0" stroke="#2459a8"/>
<circle cx="133.3" cy="227.0" r="2.0" stroke="#2459a8"/>
<circle cx="131.0" cy="240.6" r="2.0" stroke="#2459a8"/>
<circle cx="132.0" cy="227.6" r="2.0" stroke="#2459a8"/>
<circle cx="130.8" cy="236.7" r="2.0" stroke="#2459a8"/>
<circle cx="137.2" cy="243.2" r="2.0" stroke="#2459a8"/>
<circle cx="135.5" cy="224.7" r="2.0" stroke="#2459a8"/>
<circle cx="131.2" cy="239.2" r="2.0" stroke="#2459a8"/>
<circle cx="133.6" cy="237.7" r="2.0" stroke="#2459a8"/>
<path d="M149.8 172.8L147.5 177.3L152.1 177.3Z" stroke="#24884f"/>
<circle cx="152.2" cy="202.1" r="2.0" stroke="#24884f"/>
<circle cx="150.5" cy="204.2" r="2.0" stroke="#24884f"/>
<circle cx="153.1" cy="203.0" r="2.0" stroke="#24884f"/>
<circle cx="149.6" cy="205.1" r="2.0" stroke="#24884f"/>
<circle cx="149.6" cy="225.4" r="2.0" stroke="#24884f"/>
<circle cx="152.7" cy="225.0" r="2.0" stroke="#24884f"/>
<circle cx="154.0" cy="226.7" r="2.0" stroke="#24884f"/>
<circle cx="148.3" cy="228.0" r="2.0" stroke="#24884f"/>
<circle cx="150.5" cy="228.9" r="2.0" stroke="#24884f"/>
<circle cx="151.8" cy="227.1" r="2.0" stroke="#24884f"/>
<circle cx="153.0" cy="209.8" r="2.0" stroke="#24884f"/>
<circle cx="152.7" cy="212.4" r="2.0" stroke="#24884f"/>
<circle cx="151.0" cy="215.5" r="2.0" stroke="#24884f"/>
<circle cx="150.1" cy="211.7" r="2.0" stroke="#24884f"/>
<circle cx="152.1" cy="214.2" r="2.0" stroke="#24884f"/>
<circle cx="153.4" cy="210.3" r="2.0" stroke="#24884f"/>
<circle cx="148.0" cy="211.4" r="2.0" stroke="#24884f"/>
<circle cx="151.8" cy="218.1" r="2.0" stroke="#24884f"/>
<circle cx="152.0" cy="216.5" r="2.0" stroke="#24884f"/>
<circle cx="150.4" cy="216.6" r="2.0" stroke="#24884f"/>
<circle cx="153.7" cy="214.5" r="2.0" stroke="#24884f"/>
<circle cx="153.4" cy="213.1" r="2.0" stroke="#24884f"/>
<circle cx="149.7" cy="209.3" r="2.0" stroke="#24884f"/>
<circle cx="153.3" cy="217.4" r="2.0" stroke="#24884f"/>
<circle cx="165.6" cy="228.0" r="2.0" stroke="#d6731f"/>
<circle cx="167.8" cy="227.1" r="2.0" stroke="#d6731f"/>
<circle cx="169.5" cy="226.7" r="2.0" stroke="#d6731f"/>
<circle cx="170.4" cy="228.0" r="2.0" stroke="#d6731f"/>
<circle cx="168.6" cy="228.4" r="2.0" stroke="#d6731f"/>
<circle cx="183.3" cy="227.1" r="2.0" stroke="#2459a8"/>
<circle cx="186.3" cy="227.6" r="2.0" stroke="#2459a8"/>
<circle cx="188.1" cy="226.3" r="2.0" stroke="#2459a8"/>
<circle cx="189.8" cy="225.4" r="2.0" stroke="#2459a8"/>
<circle cx="201.0" cy="203.7" r="2.0" stroke="#24884f"/>
<circle cx="203.2" cy="204.8" r="2.0" stroke="#24884f"/>
<circle cx="207.0" cy="203.2" r="2.0" stroke="#24884f"/>
<circle cx="205.4" cy="205.4" r="2.0" stroke="#24884f"/>
<path d="M201.6 221.3L199.3 225.8L203.9 225.8Z" stroke="#24884f"/>
<path d="M207.6 208.7L205.3 213.2L209.9 213.2Z" stroke="#24884f"/>
<path d="M206.0 225.1L203.7 229.6L208.3 229.6Z" stroke="#24884f"/>
<circle cx="205.6" cy="211.6" r="2.0" stroke="#24884f"/>
<circle cx="204.8" cy="208.9" r="2.0" stroke="#24884f"/>
<circle cx="204.4" cy="219.7" r="2.0" stroke="#24884f"/>
<circle cx="207.9" cy="218.8" r="2.0" stroke="#24884f"/>
<circle cx="205.0" cy="222.3" r="2.0" stroke="#24884f"/>
<circle cx="202.6" cy="214.1" r="2.0" stroke="#24884f"/>
<circle cx="203.3" cy="212.0" r="2.0" stroke="#24884f"/>
<circle cx="202.1" cy="220.3" r="2.0" stroke="#24884f"/>
<circle cx="206.3" cy="216.2" r="2.0" stroke="#24884f"/>
<circle cx="208.1" cy="223.2" r="2.0" stroke="#24884f"/>
<circle cx="207.5" cy="214.8" r="2.0" stroke="#24884f"/>
<circle cx="202.1" cy="208.5" r="2.0" stroke="#24884f"/>
<circle cx="203.3" cy="228.4" r="2.0" stroke="#24884f"/>
<circle cx="208.2" cy="239.9" r="2.0" stroke="#24884f"/>
<circle cx="205.6" cy="241.9" r="2.0" stroke="#24884f"/>
<circle cx="208.1" cy="243.9" r="2.0" stroke="#24884f"/>
<circle cx="204.5" cy="235.3" r="2.0" stroke="#24884f"/>
<circle cx="208.2" cy="230.4" r="2.0" stroke="#24884f"/>
<circle cx="208.2" cy="242.6" r="2.0" stroke="#24884f"/>
<circle cx="207.0" cy="232.4" r="2.0" stroke="#24884f"/>
<circle cx="206.8" cy="238.8" r="2.0" stroke="#24884f"/>
<circle cx="203.0" cy="236.6" r="2.0" stroke="#24884f"/>
<circle cx="203.5" cy="241.1" r="2.0" stroke="#24884f"/>
<circle cx="205.7" cy="226.0" r="2.0" stroke="#24884f"/>
<circle cx="207.0" cy="240.5" r="2.0" stroke="#24884f"/>
<circle cx="207.5" cy="234.2" r="2.0" stroke="#24884f"/>
<circle cx="201.1" cy="244.2" r="2.0" stroke="#24884f"/>
<circle cx="207.2" cy="238.1" r="2.0" stroke="#24884f"/>
<circle cx="208.3" cy="233.0" r="2.0" stroke="#24884f"/>
<circle cx="203.9" cy="227.4" r="2.0" stroke="#24884f"/>
<circle cx="206.8" cy="228.9" r="2.0" stroke="#24884f"/>
<circle cx="204.4" cy="234.9" r="2.0" stroke="#24884f"/>
<circle cx="203.4" cy="226.5" r="2.0" stroke="#24884f"/>
<circle cx="202.2" cy="230.3" r="2.0" stroke="#24884f"/>
<circle cx="206.7" cy="237.4" r="2.0" stroke="#24884f"/>
<circle cx="203.2" cy="231.3" r="2.0" stroke="#24884f"/>
<circle cx="220.2" cy="206.0" r="2.0" stroke="#d6731f"/>
<circle cx="222.3" cy="205.7" r="2.0" stroke="#d6731f"/>
<circle cx="226.2" cy="206.0" r="2.0" stroke="#d6731f"/>
<path d="M221.2 220.1L218.9 224.6L223.5 224.6Z" stroke="#d6731f"/>
<path d="M224.0 219.5L221.7 224.0L226.3 224.0Z" stroke="#d6731f"/>
<path d="M222.3 222.3L220.0 226.8L224.6 226.8Z" stroke="#d6731f"/>
<path d="M225.6 222.3L223.3 226.8L227.9 226.8Z" stroke="#d6731f"/>
<circle cx="219.6" cy="241.5" r="2.0" stroke="#d6731f"/>
<circle cx="221.2" cy="243.1" r="2.0" stroke="#d6731f"/>
<circle cx="224.5" cy="243.7" r="2.0" stroke="#d6731f"/>
<circle cx="226.7" cy="239.8" r="2.0" stroke="#d6731f"/>
<circle cx="219.1" cy="244.2" r="2.0" stroke="#d6731f"/>
<circle cx="222.9" cy="242.0" r="2.0" stroke="#d6731f"/>
<circle cx="223.5" cy="226.6" r="2.0" stroke="#d6731f"/>
<circle cx="222.5" cy="226.1" r="2.0" stroke="#d6731f"/>
<circle cx="224.7" cy="229.9" r="2.0" stroke="#d6731f"/>
<circle cx="222.0" cy="231.5" r="2.0" stroke="#d6731f"/>
<circle cx="222.6" cy="228.2" r="2.0" stroke="#d6731f"/>
<circle cx="226.0" cy="231.1" r="2.0" stroke="#d6731f"/>
<circle cx="220.1" cy="230.2" r="2.0" stroke="#d6731f"/>
<circle cx="223.5" cy="228.9" r="2.0" stroke="#d6731f"/>
<circle cx="222.3" cy="227.0" r="2.0" stroke="#d6731f"/>
<circle cx="222.6" cy="232.5" r="2.0" stroke="#d6731f"/>
<circle cx="238.7" cy="205.4" r="2.0" stroke="#2459a8"/>
<circle cx="242.0" cy="205.9" r="2.0" stroke="#2459a8"/>
<circle cx="238.2" cy="208.7" r="2.0" stroke="#2459a8"/>
<circle cx="243.1" cy="209.8" r="2.0" stroke="#2459a8"/>
<circle cx="240.4" cy="207.6" r="2.0" stroke="#2459a8"/>
<path d="M241.0 218.6L238.7 223.1L243.3 223.1Z" stroke="#2459a8"/>
<circle cx="238.2" cy="238.2" r="2.0" stroke="#2459a8"/>
<circle cx="242.0" cy="240.0" r="2.0" stroke="#2459a8"/>
<circle cx="240.5" cy="242.0" r="2.0" stroke="#2459a8"/>
<circle cx="239.8" cy="248.6" r="2.0" stroke="#2459a8"/>
<path d="M240.1 222.3L237.8 226.8L242.4 226.8Z" stroke="#2459a8"/>
<circle cx="242.9" cy="229.5" r="2.0" stroke="#2459a8"/>
<circle cx="242.1" cy="225.8" r="2.0" stroke="#2459a8"/>
<circle cx="241.8" cy="223.6" r="2.0" stroke="#2459a8"/>
<circle cx="239.2" cy="225.4" r="2.0" stroke="#2459a8"/>
<circle cx="241.1" cy="230.2" r="2.0" stroke="#2459a8"/>
<circle cx="242.5" cy="231.8" r="2.0" stroke="#2459a8"/>
<circle cx="239.9" cy="226.9" r="2.0" stroke="#2459a8"/>
<circle cx="240.9" cy="228.7" r="2.0" stroke="#2459a8"/>
<circle cx="239.1" cy="227.3" r="2.0" stroke="#2459a8"/>
<circle cx="256.2" cy="223.0" r="2.0" stroke="#24884f"/>
<circle cx="260.1" cy="218.1" r="2.0" stroke="#24884f"/>
<circle cx="259.3" cy="220.1" r="2.0" stroke="#24884f"/>
<circle cx="263.1" cy="224.0" r="2.0" stroke="#24884f"/>
<circle cx="260.5" cy="222.4" r="2.0" stroke="#24884f"/>
<circle cx="256.5" cy="215.4" r="2.0" stroke="#24884f"/>
<circle cx="257.6" cy="225.4" r="2.0" stroke="#24884f"/>
<circle cx="260.8" cy="227.6" r="2.0" stroke="#24884f"/>
<circle cx="261.1" cy="216.8" r="2.0" stroke="#24884f"/>
<circle cx="259.2" cy="221.2" r="2.0" stroke="#24884f"/>
<circle cx="263.5" cy="216.4" r="2.0" stroke="#24884f"/>
<circle cx="257.3" cy="229.6" r="2.0" stroke="#24884f"/>
<circle cx="257.6" cy="228.0" r="2.0" stroke="#24884f"/>
<circle cx="263.0" cy="226.6" r="2.0" stroke="#24884f"/>
<circle cx="262.4" cy="218.3" r="2.0" stroke="#24884f"/>
<circle cx="262.0" cy="220.8" r="2.0" stroke="#24884f"/>
<circle cx="260.9" cy="229.5" r="2.0" stroke="#24884f"/>
<path d="M257.5 230.8L255.2 235.3L259.8 235.3Z" stroke="#24884f"/>
<path d="M260.0 231.3L257.7 235.8L262.3 235.8Z" stroke="#24884f"/>
<path d="M258.8 229.8L256.5 234.3L261.1 234.3Z" stroke="#24884f"/>
<circle cx="256.6" cy="240.1" r="2.0" stroke="#24884f"/>
<circle cx="258.6" cy="241.1" r="2.0" stroke="#24884f"/>
<circle cx="262.7" cy="244.7" r="2.0" stroke="#24884f"/>
<circle cx="259.7" cy="242.1" r="2.0" stroke="#24884f"/>
<circle cx="258.5" cy="287.8" r="2.0" stroke="#24884f"/>
<circle cx="261.5" cy="287.8" r="2.0" stroke="#24884f"/>
<circle cx="274.4" cy="217.7" r="2.0" stroke="#d6731f"/>
<circle cx="276.9" cy="219.2" r="2.0" stroke="#d6731f"/>
<circle cx="279.5" cy="220.3" r="2.0" stroke="#d6731f"/>
<circle cx="275.4" cy="222.8" r="2.0" stroke="#d6731f"/>
<circle cx="278.5" cy="223.3" r="2.0" stroke="#d6731f"/>
<circle cx="275.4" cy="226.4" r="2.0" stroke="#d6731f"/>
<circle cx="276.9" cy="221.3" r="2.0" stroke="#d6731f"/>
<circle cx="272.9" cy="242.1" r="2.0" stroke="#d6731f"/>
<circle cx="275.4" cy="243.6" r="2.0" stroke="#d6731f"/>
<circle cx="279.0" cy="242.6" r="2.0" stroke="#d6731f"/>
<circle cx="280.5" cy="244.1" r="2.0" stroke="#d6731f"/>
<circle cx="276.9" cy="245.7" r="2.0" stroke="#d6731f"/>
<path d="M279.5 244.0L277.2 248.5L281.8 248.5Z" stroke="#d6731f"/>
<path d="M275.4 246.0L273.1 250.5L277.7 250.5Z" stroke="#d6731f"/>
<path d="M278.5 247.0L276.2 251.5L280.8 251.5Z" stroke="#d6731f"/>
<path d="M279.0 250.1L276.7 254.6L281.3 254.6Z" stroke="#d6731f"/>
<circle cx="295.2" cy="213.6" r="2.0" stroke="#2459a8"/>
<circle cx="290.7" cy="221.8" r="2.0" stroke="#2459a8"/>
<circle cx="293.7" cy="220.3" r="2.0" stroke="#2459a8"/>
<circle cx="296.3" cy="221.3" r="2.0" stroke="#2459a8"/>
<circle cx="298.3" cy="223.8" r="2.0" stroke="#2459a8"/>
<circle cx="295.2" cy="223.8" r="2.0" stroke="#2459a8"/>
<path d="M295.2 229.2L292.9 233.7L297.5 233.7Z" stroke="#2459a8"/>
<path d="M295.8 232.8L293.5 237.3L298.1 237.3Z" stroke="#2459a8"/>
<circle cx="293.7" cy="239.6" r="2.0" stroke="#2459a8"/>
<circle cx="292.7" cy="245.2" r="2.0" stroke="#2459a8"/>
<circle cx="295.2" cy="243.6" r="2.0" stroke="#2459a8"/>
<circle cx="296.8" cy="245.2" r="2.0" stroke="#2459a8"/>
<circle cx="293.7" cy="246.7" r="2.0" stroke="#2459a8"/>
<circle cx="296.3" cy="246.7" r="2.0" stroke="#2459a8"/>
<circle cx="295.9" cy="287.8" r="2.0" stroke="#2459a8"/>
<circle cx="314.7" cy="204.8" r="2.0" stroke="#24884f"/>
<circle cx="311.7" cy="204.0" r="2.0" stroke="#24884f"/>
<circle cx="310.3" cy="203.2" r="2.0" stroke="#24884f"/>
<circle cx="310.6" cy="205.9" r="2.0" stroke="#24884f"/>
<circle cx="310.4" cy="208.2" r="2.0" stroke="#24884f"/>
<circle cx="309.5" cy="209.2" r="2.0" stroke="#24884f"/>
<circle cx="310.8" cy="206.7" r="2.0" stroke="#24884f"/>
<circle cx="315.9" cy="202.0" r="2.0" stroke="#24884f"/>
<circle cx="315.9" cy="201.7" r="2.0" stroke="#24884f"/>
<circle cx="315.6" cy="200.0" r="2.0" stroke="#24884f"/>
<circle cx="313.1" cy="213.1" r="2.0" stroke="#24884f"/>
<circle cx="311.7" cy="214.6" r="2.0" stroke="#24884f"/>
<circle cx="312.4" cy="212.5" r="2.0" stroke="#24884f"/>
<circle cx="310.7" cy="211.6" r="2.0" stroke="#24884f"/>
<circle cx="310.3" cy="213.9" r="2.0" stroke="#24884f"/>
<circle cx="312.1" cy="231.9" r="2.0" stroke="#24884f"/>
<circle cx="313.4" cy="230.9" r="2.0" stroke="#24884f"/>
<circle cx="316.7" cy="234.3" r="2.0" stroke="#24884f"/>
<circle cx="317.3" cy="220.0" r="2.0" stroke="#24884f"/>
<circle cx="316.6" cy="226.6" r="2.0" stroke="#24884f"/>
<circle cx="311.1" cy="221.7" r="2.0" stroke="#24884f"/>
<circle cx="311.7" cy="223.8" r="2.0" stroke="#24884f"/>
<circle cx="311.0" cy="227.4" r="2.0" stroke="#24884f"/>
<circle cx="317.4" cy="225.8" r="2.0" stroke="#24884f"/>
<circle cx="316.9" cy="233.0" r="2.0" stroke="#24884f"/>
<circle cx="311.7" cy="229.3" r="2.0" stroke="#24884f"/>
<circle cx="309.9" cy="223.1" r="2.0" stroke="#24884f"/>
<circle cx="311.8" cy="230.5" r="2.0" stroke="#24884f"/>
<circle cx="333.0" cy="205.0" r="2.0" stroke="#d6731f"/>
<circle cx="328.0" cy="207.8" r="2.0" stroke="#d6731f"/>
<circle cx="330.2" cy="208.9" r="2.0" stroke="#d6731f"/>
<circle cx="334.6" cy="210.6" r="2.0" stroke="#d6731f"/>
<circle cx="329.0" cy="211.7" r="2.0" stroke="#d6731f"/>
<circle cx="331.8" cy="212.8" r="2.0" stroke="#d6731f"/>
<circle cx="335.2" cy="212.3" r="2.0" stroke="#d6731f"/>
<circle cx="330.7" cy="210.6" r="2.0" stroke="#d6731f"/>
<circle cx="330.7" cy="220.1" r="2.0" stroke="#d6731f"/>
<circle cx="333.5" cy="220.6" r="2.0" stroke="#d6731f"/>
<circle cx="335.7" cy="220.3" r="2.0" stroke="#d6731f"/>
<circle cx="329.6" cy="235.1" r="2.0" stroke="#d6731f"/>
<circle cx="331.8" cy="236.8" r="2.0" stroke="#d6731f"/>
<circle cx="335.2" cy="239.0" r="2.0" stroke="#d6731f"/>
<circle cx="334.6" cy="242.3" r="2.0" stroke="#d6731f"/>
<circle cx="351.3" cy="196.1" r="2.0" stroke="#2459a8"/>
<circle cx="346.3" cy="202.2" r="2.0" stroke="#2459a8"/>
<circle cx="347.4" cy="203.9" r="2.0" stroke="#2459a8"/>
<path d="M348.5 205.7L346.2 210.2L350.8 210.2Z" stroke="#2459a8"/>
<path d="M349.1 207.9L346.8 212.4L351.4 212.4Z" stroke="#2459a8"/>
<circle cx="350.2" cy="212.3" r="2.0" stroke="#2459a8"/>
<circle cx="348.0" cy="211.7" r="2.0" stroke="#2459a8"/>
<circle cx="346.3" cy="225.6" r="2.0" stroke="#2459a8"/>
<circle cx="348.5" cy="223.4" r="2.0" stroke="#2459a8"/>
<circle cx="350.2" cy="221.2" r="2.0" stroke="#2459a8"/>
<circle cx="352.4" cy="222.9" r="2.0" stroke="#2459a8"/>
<circle cx="353.6" cy="223.4" r="2.0" stroke="#2459a8"/>
<circle cx="350.8" cy="224.5" r="2.0" stroke="#2459a8"/>
<circle cx="364.7" cy="186.8" r="2.0" stroke="#24884f"/>
<circle cx="368.8" cy="198.6" r="2.0" stroke="#24884f"/>
<circle cx="366.1" cy="208.7" r="2.0" stroke="#24884f"/>
<circle cx="369.4" cy="189.7" r="2.0" stroke="#24884f"/>
<circle cx="370.6" cy="215.8" r="2.0" stroke="#24884f"/>
<circle cx="367.9" cy="194.7" r="2.0" stroke="#24884f"/>
<circle cx="365.9" cy="207.3" r="2.0" stroke="#24884f"/>
<circle cx="371.5" cy="209.8" r="2.0" stroke="#24884f"/>
<circle cx="367.0" cy="213.6" r="2.0" stroke="#24884f"/>
<circle cx="364.6" cy="200.1" r="2.0" stroke="#24884f"/>
<circle cx="365.6" cy="181.5" r="2.0" stroke="#24884f"/>
<circle cx="371.9" cy="202.6" r="2.0" stroke="#24884f"/>
<circle cx="369.5" cy="182.6" r="2.0" stroke="#24884f"/>
<circle cx="370.8" cy="191.6" r="2.0" stroke="#24884f"/>
<circle cx="371.4" cy="198.4" r="2.0" stroke="#24884f"/>
<circle cx="364.1" cy="196.7" r="2.0" stroke="#24884f"/>
<circle cx="365.6" cy="183.9" r="2.0" stroke="#24884f"/>
<circle cx="371.3" cy="204.3" r="2.0" stroke="#24884f"/>
<circle cx="370.9" cy="211.3" r="2.0" stroke="#24884f"/>
<circle cx="371.1" cy="185.4" r="2.0" stroke="#24884f"/>
<circle cx="364.4" cy="202.2" r="2.0" stroke="#24884f"/>
<circle cx="367.3" cy="215.9" r="2.0" stroke="#24884f"/>
<circle cx="370.3" cy="192.4" r="2.0" stroke="#24884f"/>
<circle cx="365.6" cy="190.3" r="2.0" stroke="#24884f"/>
<circle cx="368.8" cy="184.2" r="2.0" stroke="#24884f"/>
<circle cx="366.2" cy="188.7" r="2.0" stroke="#24884f"/>
<circle cx="371.6" cy="195.4" r="2.0" stroke="#24884f"/>
<circle cx="371.4" cy="206.4" r="2.0" stroke="#24884f"/>
<circle cx="365.7" cy="205.4" r="2.0" stroke="#24884f"/>
<circle cx="368.9" cy="179.4" r="2.0" stroke="#24884f"/>
<circle cx="365.5" cy="193.7" r="2.0" stroke="#24884f"/>
<circle cx="366.5" cy="187.2" r="2.0" stroke="#24884f"/>
<circle cx="365.0" cy="214.1" r="2.0" stroke="#24884f"/>
<circle cx="367.5" cy="201.1" r="2.0" stroke="#24884f"/>
<circle cx="370.0" cy="211.9" r="2.0" stroke="#24884f"/>
<circle cx="364.5" cy="208.6" r="2.0" stroke="#24884f"/>
<circle cx="368.1" cy="180.2" r="2.0" stroke="#24884f"/>
<circle cx="371.4" cy="221.1" r="2.0" stroke="#24884f"/>
<circle cx="364.1" cy="225.8" r="2.0" stroke="#24884f"/>
<circle cx="368.1" cy="227.8" r="2.0" stroke="#24884f"/>
<path d="M365.4 228.5L363.1 233.0L367.7 233.0Z" stroke="#24884f"/>
<path d="M367.4 229.8L365.1 234.3L369.7 234.3Z" stroke="#24884f"/>
<circle cx="369.4" cy="229.8" r="2.0" stroke="#24884f"/>
<circle cx="381.5" cy="183.4" r="2.0" stroke="#d6731f"/>
<circle cx="384.9" cy="182.8" r="2.0" stroke="#d6731f"/>
<circle cx="388.9" cy="183.4" r="2.0" stroke="#d6731f"/>
<circle cx="382.9" cy="186.8" r="2.0" stroke="#d6731f"/>
<circle cx="386.2" cy="188.8" r="2.0" stroke="#d6731f"/>
<circle cx="384.2" cy="192.9" r="2.0" stroke="#d6731f"/>
<circle cx="386.9" cy="190.2" r="2.0" stroke="#d6731f"/>
<circle cx="382.9" cy="224.5" r="2.0" stroke="#d6731f"/>
<circle cx="386.9" cy="225.1" r="2.0" stroke="#d6731f"/>
<circle cx="388.9" cy="227.8" r="2.0" stroke="#d6731f"/>
<path d="M384.2 226.5L381.9 231.0L386.5 231.0Z" stroke="#d6731f"/>
<path d="M386.2 229.2L383.9 233.7L388.5 233.7Z" stroke="#d6731f"/>
<path d="M388.3 228.5L386.0 233.0L390.6 233.0Z" stroke="#d6731f"/>
<circle cx="401.0" cy="185.5" r="2.0" stroke="#2459a8"/>
<circle cx="404.4" cy="182.8" r="2.0" stroke="#2459a8"/>
<circle cx="407.1" cy="184.8" r="2.0" stroke="#2459a8"/>
<circle cx="405.1" cy="188.2" r="2.0" stroke="#2459a8"/>
<circle cx="407.8" cy="190.8" r="2.0" stroke="#2459a8"/>
<circle cx="403.7" cy="192.2" r="2.0" stroke="#2459a8"/>
<circle cx="402.4" cy="228.5" r="2.0" stroke="#2459a8"/>
<circle cx="404.4" cy="227.8" r="2.0" stroke="#2459a8"/>
<circle cx="407.1" cy="228.5" r="2.0" stroke="#2459a8"/>
<circle cx="405.7" cy="229.2" r="2.0" stroke="#2459a8"/>
<circle cx="419.5" cy="171.9" r="2.0" stroke="#24884f"/>
<circle cx="420.3" cy="192.7" r="2.0" stroke="#24884f"/>
<circle cx="421.2" cy="196.0" r="2.0" stroke="#24884f"/>
<circle cx="423.6" cy="197.6" r="2.0" stroke="#24884f"/>
<path d="M420.3 197.4L418.0 201.9L422.6 201.9Z" stroke="#24884f"/>
<path d="M421.2 200.7L418.9 205.2L423.5 205.2Z" stroke="#24884f"/>
<circle cx="419.5" cy="233.5" r="2.0" stroke="#24884f"/>
<circle cx="422.0" cy="231.9" r="2.0" stroke="#24884f"/>
<circle cx="424.4" cy="232.7" r="2.0" stroke="#24884f"/>
<circle cx="426.9" cy="234.4" r="2.0" stroke="#24884f"/>
<circle cx="422.0" cy="236.0" r="2.0" stroke="#24884f"/>
<path d="M421.5 177.9L419.2 182.4L423.8 182.4Z" stroke="#24884f"/>
<path d="M424.5 175.7L422.2 180.2L426.8 180.2Z" stroke="#24884f"/>
<path d="M420.4 175.7L418.1 180.2L422.7 180.2Z" stroke="#24884f"/>
<path d="M421.9 178.1L419.6 182.6L424.2 182.6Z" stroke="#24884f"/>
<circle cx="424.7" cy="185.7" r="2.0" stroke="#24884f"/>
<circle cx="424.8" cy="182.7" r="2.0" stroke="#24884f"/>
<circle cx="418.9" cy="188.2" r="2.0" stroke="#24884f"/>
<circle cx="425.9" cy="181.8" r="2.0" stroke="#24884f"/>
<circle cx="420.4" cy="189.0" r="2.0" stroke="#24884f"/>
<circle cx="423.4" cy="177.5" r="2.0" stroke="#24884f"/>
<circle cx="422.6" cy="178.1" r="2.0" stroke="#24884f"/>
<circle cx="421.8" cy="183.4" r="2.0" stroke="#24884f"/>
<circle cx="418.7" cy="184.0" r="2.0" stroke="#24884f"/>
<circle cx="426.0" cy="186.5" r="2.0" stroke="#24884f"/>
<circle cx="425.7" cy="187.3" r="2.0" stroke="#24884f"/>
<circle cx="424.7" cy="179.9" r="2.0" stroke="#24884f"/>
<circle cx="425.3" cy="180.0" r="2.0" stroke="#24884f"/>
<path d="M441.1 175.3L438.8 179.8L443.4 179.8Z" stroke="#d6731f"/>
<path d="M440.5 175.9L438.2 180.4L442.8 180.4Z" stroke="#d6731f"/>
<path d="M443.0 175.4L440.7 179.9L445.3 179.9Z" stroke="#d6731f"/>
<path d="M439.2 176.7L436.9 181.2L441.5 181.2Z" stroke="#d6731f"/>
<circle cx="438.1" cy="179.8" r="2.0" stroke="#d6731f"/>
<circle cx="443.0" cy="178.0" r="2.0" stroke="#d6731f"/>
<circle cx="439.0" cy="182.9" r="2.0" stroke="#d6731f"/>
<circle cx="440.5" cy="187.4" r="2.0" stroke="#d6731f"/>
<circle cx="438.1" cy="180.7" r="2.0" stroke="#d6731f"/>
<circle cx="439.1" cy="184.5" r="2.0" stroke="#d6731f"/>
<circle cx="439.1" cy="185.9" r="2.0" stroke="#d6731f"/>
<circle cx="439.1" cy="189.2" r="2.0" stroke="#d6731f"/>
<circle cx="436.7" cy="240.9" r="2.0" stroke="#d6731f"/>
<circle cx="439.9" cy="241.7" r="2.0" stroke="#d6731f"/>
<circle cx="443.2" cy="242.0" r="2.0" stroke="#d6731f"/>
<path d="M455.9 177.1L453.6 181.6L458.2 181.6Z" stroke="#2459a8"/>
<path d="M457.6 176.5L455.3 181.0L459.9 181.0Z" stroke="#2459a8"/>
<path d="M458.7 176.2L456.4 180.7L461.0 180.7Z" stroke="#2459a8"/>
<path d="M456.6 175.3L454.3 179.8L458.9 179.8Z" stroke="#2459a8"/>
<circle cx="456.0" cy="177.7" r="2.0" stroke="#2459a8"/>
<circle cx="457.1" cy="184.1" r="2.0" stroke="#2459a8"/>
<circle cx="454.6" cy="180.0" r="2.0" stroke="#2459a8"/>
<circle cx="460.4" cy="188.6" r="2.0" stroke="#2459a8"/>
<circle cx="458.3" cy="186.5" r="2.0" stroke="#2459a8"/>
<circle cx="456.4" cy="182.1" r="2.0" stroke="#2459a8"/>
<circle cx="456.5" cy="185.6" r="2.0" stroke="#2459a8"/>
<circle cx="455.6" cy="182.2" r="2.0" stroke="#2459a8"/>
<circle cx="460.4" cy="187.6" r="2.0" stroke="#2459a8"/>
<circle cx="454.9" cy="178.8" r="2.0" stroke="#2459a8"/>
<circle cx="455.4" cy="195.2" r="2.0" stroke="#2459a8"/>
<circle cx="461.1" cy="189.5" r="2.0" stroke="#2459a8"/>
<circle cx="456.7" cy="224.6" r="2.0" stroke="#2459a8"/>
<circle cx="460.3" cy="227.0" r="2.0" stroke="#2459a8"/>
<circle cx="475.8" cy="184.2" r="2.0" stroke="#24884f"/>
<circle cx="475.7" cy="174.8" r="2.0" stroke="#24884f"/>
<circle cx="473.1" cy="179.3" r="2.0" stroke="#24884f"/>
<circle cx="481.0" cy="185.9" r="2.0" stroke="#24884f"/>
<circle cx="479.7" cy="179.8" r="2.0" stroke="#24884f"/>
<circle cx="477.7" cy="178.0" r="2.0" stroke="#24884f"/>
<circle cx="479.8" cy="181.7" r="2.0" stroke="#24884f"/>
<circle cx="474.6" cy="175.3" r="2.0" stroke="#24884f"/>
<circle cx="475.2" cy="185.0" r="2.0" stroke="#24884f"/>
<circle cx="477.4" cy="185.7" r="2.0" stroke="#24884f"/>
<circle cx="472.1" cy="183.4" r="2.0" stroke="#24884f"/>
<circle cx="481.0" cy="175.9" r="2.0" stroke="#24884f"/>
<circle cx="474.7" cy="186.7" r="2.0" stroke="#24884f"/>
<circle cx="479.3" cy="180.4" r="2.0" stroke="#24884f"/>
<circle cx="475.4" cy="177.5" r="2.0" stroke="#24884f"/>
<circle cx="479.5" cy="182.1" r="2.0" stroke="#24884f"/>
<circle cx="480.8" cy="177.1" r="2.0" stroke="#24884f"/>
<circle cx="474.2" cy="178.7" r="2.0" stroke="#24884f"/>
<circle cx="480.8" cy="184.1" r="2.0" stroke="#24884f"/>
<circle cx="480.7" cy="176.2" r="2.0" stroke="#24884f"/>
<circle cx="474.3" cy="181.3" r="2.0" stroke="#24884f"/>
<circle cx="474.7" cy="182.8" r="2.0" stroke="#24884f"/>
<circle cx="477.2" cy="191.7" r="2.0" stroke="#24884f"/>
<circle cx="477.7" cy="192.5" r="2.0" stroke="#24884f"/>
<circle cx="476.8" cy="194.4" r="2.0" stroke="#24884f"/>
<circle cx="476.8" cy="193.8" r="2.0" stroke="#24884f"/>
<circle cx="474.5" cy="207.8" r="2.0" stroke="#24884f"/>
<circle cx="476.8" cy="207.8" r="2.0" stroke="#24884f"/>
<circle cx="479.5" cy="214.3" r="2.0" stroke="#24884f"/>
<path d="M490.9 173.6L488.6 178.1L493.2 178.1Z" stroke="#d6731f"/>
<path d="M498.5 176.5L496.2 181.0L500.8 181.0Z" stroke="#d6731f"/>
<path d="M494.1 172.4L491.8 176.9L496.4 176.9Z" stroke="#d6731f"/>
<path d="M497.7 175.7L495.4 180.2L500.0 180.2Z" stroke="#d6731f"/>
<path d="M497.0 177.4L494.7 181.9L499.3 181.9Z" stroke="#d6731f"/>
<circle cx="497.6" cy="175.8" r="2.0" stroke="#d6731f"/>
<circle cx="490.8" cy="174.8" r="2.0" stroke="#d6731f"/>
<circle cx="494.1" cy="178.6" r="2.0" stroke="#d6731f"/>
<circle cx="491.1" cy="185.5" r="2.0" stroke="#d6731f"/>
<circle cx="495.2" cy="179.6" r="2.0" stroke="#d6731f"/>
<circle cx="492.6" cy="191.7" r="2.0" stroke="#d6731f"/>
<circle cx="495.3" cy="188.1" r="2.0" stroke="#d6731f"/>
<circle cx="493.2" cy="192.4" r="2.0" stroke="#d6731f"/>
<circle cx="492.2" cy="190.5" r="2.0" stroke="#d6731f"/>
<circle cx="489.3" cy="192.9" r="2.0" stroke="#d6731f"/>
<circle cx="497.2" cy="183.2" r="2.0" stroke="#d6731f"/>
<circle cx="495.6" cy="187.3" r="2.0" stroke="#d6731f"/>
<circle cx="494.0" cy="184.0" r="2.0" stroke="#d6731f"/>
<circle cx="491.8" cy="180.5" r="2.0" stroke="#d6731f"/>
<circle cx="494.3" cy="182.6" r="2.0" stroke="#d6731f"/>
<circle cx="494.7" cy="184.8" r="2.0" stroke="#d6731f"/>
<circle cx="490.4" cy="186.4" r="2.0" stroke="#d6731f"/>
<circle cx="496.4" cy="177.3" r="2.0" stroke="#d6731f"/>
<circle cx="490.2" cy="181.0" r="2.0" stroke="#d6731f"/>
<circle cx="494.2" cy="189.7" r="2.0" stroke="#d6731f"/>
<circle cx="495.1" cy="177.0" r="2.0" stroke="#d6731f"/>
<path d="M509.8 174.5L507.5 179.0L512.1 179.0Z" stroke="#2459a8"/>
<path d="M513.8 172.1L511.5 176.6L516.1 176.6Z" stroke="#2459a8"/>
<path d="M508.6 173.4L506.3 177.9L510.9 177.9Z" stroke="#2459a8"/>
<circle cx="509.8" cy="181.2" r="2.0" stroke="#2459a8"/>
<circle cx="512.5" cy="187.7" r="2.0" stroke="#2459a8"/>
<circle cx="508.2" cy="187.4" r="2.0" stroke="#2459a8"/>
<circle cx="511.5" cy="191.2" r="2.0" stroke="#2459a8"/>
<circle cx="510.0" cy="193.9" r="2.0" stroke="#2459a8"/>
<circle cx="515.4" cy="177.8" r="2.0" stroke="#2459a8"/>
<circle cx="513.1" cy="183.9" r="2.0" stroke="#2459a8"/>
<circle cx="512.5" cy="190.1" r="2.0" stroke="#2459a8"/>
<circle cx="511.1" cy="185.0" r="2.0" stroke="#2459a8"/>
<circle cx="508.4" cy="197.2" r="2.0" stroke="#2459a8"/>
<circle cx="508.8" cy="188.8" r="2.0" stroke="#2459a8"/>
<circle cx="511.0" cy="195.1" r="2.0" stroke="#2459a8"/>
<circle cx="514.6" cy="177.1" r="2.0" stroke="#2459a8"/>
<circle cx="510.8" cy="192.2" r="2.0" stroke="#2459a8"/>
<circle cx="514.6" cy="180.3" r="2.0" stroke="#2459a8"/>
<circle cx="513.0" cy="183.1" r="2.0" stroke="#2459a8"/>
<circle cx="511.3" cy="179.8" r="2.0" stroke="#2459a8"/>
<circle cx="512.2" cy="185.8" r="2.0" stroke="#2459a8"/>
<circle cx="511.6" cy="194.4" r="2.0" stroke="#2459a8"/>
<circle cx="511.4" cy="174.8" r="2.0" stroke="#2459a8"/>
<circle cx="508.4" cy="176.5" r="2.0" stroke="#2459a8"/>
<circle cx="513.2" cy="208.4" r="2.0" stroke="#2459a8"/>
<path d="M531.0 187.2L528.7 191.7L533.3 191.7Z" stroke="#24884f"/>
<path d="M531.1 186.6L528.8 191.1L533.4 191.1Z" stroke="#24884f"/>
<path d="M533.2 186.2L530.9 190.7L535.5 190.7Z" stroke="#24884f"/>
<path d="M529.5 186.2L527.2 190.7L531.8 190.7Z" stroke="#24884f"/>
<circle cx="529.8" cy="191.1" r="2.0" stroke="#24884f"/>
<circle cx="531.4" cy="192.8" r="2.0" stroke="#24884f"/>
<circle cx="530.4" cy="191.7" r="2.0" stroke="#24884f"/>
<circle cx="533.8" cy="189.2" r="2.0" stroke="#24884f"/>
<circle cx="534.5" cy="194.5" r="2.0" stroke="#24884f"/>
<circle cx="531.5" cy="189.9" r="2.0" stroke="#24884f"/>
<circle cx="529.6" cy="206.1" r="2.0" stroke="#24884f"/>
<circle cx="527.5" cy="209.6" r="2.0" stroke="#24884f"/>
<circle cx="528.9" cy="207.2" r="2.0" stroke="#24884f"/>
<circle cx="526.9" cy="202.7" r="2.0" stroke="#24884f"/>
<circle cx="529.3" cy="195.9" r="2.0" stroke="#24884f"/>
<circle cx="528.7" cy="197.8" r="2.0" stroke="#24884f"/>
<circle cx="528.8" cy="199.4" r="2.0" stroke="#24884f"/>
<circle cx="527.0" cy="199.0" r="2.0" stroke="#24884f"/>
<circle cx="528.5" cy="210.1" r="2.0" stroke="#24884f"/>
<circle cx="534.6" cy="202.1" r="2.0" stroke="#24884f"/>
<circle cx="534.4" cy="203.6" r="2.0" stroke="#24884f"/>
<circle cx="527.1" cy="196.5" r="2.0" stroke="#24884f"/>
<circle cx="526.1" cy="208.0" r="2.0" stroke="#24884f"/>
<circle cx="532.2" cy="205.5" r="2.0" stroke="#24884f"/>
<circle cx="529.8" cy="197.5" r="2.0" stroke="#24884f"/>
<circle cx="532.6" cy="200.2" r="2.0" stroke="#24884f"/>
<circle cx="534.0" cy="204.8" r="2.0" stroke="#24884f"/>
<circle cx="531.9" cy="200.9" r="2.0" stroke="#24884f"/>
<circle cx="526.9" cy="208.9" r="2.0" stroke="#24884f"/>
<circle cx="532.9" cy="204.3" r="2.0" stroke="#24884f"/>
<circle cx="531.2" cy="213.7" r="2.0" stroke="#24884f"/>
<circle cx="532.0" cy="214.1" r="2.0" stroke="#24884f"/>
<circle cx="531.9" cy="213.3" r="2.0" stroke="#24884f"/>
<circle cx="531.3" cy="213.0" r="2.0" stroke="#24884f"/>
<circle cx="531.3" cy="219.5" r="2.0" stroke="#24884f"/>
<circle cx="548.1" cy="186.4" r="2.0" stroke="#d6731f"/>
<circle cx="553.1" cy="201.0" r="2.0" stroke="#d6731f"/>
<circle cx="546.4" cy="195.5" r="2.0" stroke="#d6731f"/>
<circle cx="547.5" cy="187.1" r="2.0" stroke="#d6731f"/>
<circle cx="548.3" cy="197.8" r="2.0" stroke="#d6731f"/>
<circle cx="548.8" cy="185.1" r="2.0" stroke="#d6731f"/>
<circle cx="551.7" cy="187.6" r="2.0" stroke="#d6731f"/>
<circle cx="548.9" cy="190.0" r="2.0" stroke="#d6731f"/>
<circle cx="546.3" cy="201.7" r="2.0" stroke="#d6731f"/>
<circle cx="551.8" cy="194.4" r="2.0" stroke="#d6731f"/>
<circle cx="548.7" cy="195.9" r="2.0" stroke="#d6731f"/>
<circle cx="552.7" cy="191.4" r="2.0" stroke="#d6731f"/>
<circle cx="549.3" cy="198.3" r="2.0" stroke="#d6731f"/>
<circle cx="545.9" cy="199.3" r="2.0" stroke="#d6731f"/>
<circle cx="546.5" cy="192.2" r="2.0" stroke="#d6731f"/>
<circle cx="552.8" cy="184.2" r="2.0" stroke="#d6731f"/>
<circle cx="547.5" cy="189.1" r="2.0" stroke="#d6731f"/>
<circle cx="550.0" cy="185.4" r="2.0" stroke="#d6731f"/>
<circle cx="550.4" cy="183.8" r="2.0" stroke="#d6731f"/>
<circle cx="548.7" cy="190.7" r="2.0" stroke="#d6731f"/>
<circle cx="544.6" cy="200.5" r="2.0" stroke="#d6731f"/>
<circle cx="545.6" cy="196.8" r="2.0" stroke="#d6731f"/>
<circle cx="550.5" cy="191.5" r="2.0" stroke="#d6731f"/>
<circle cx="550.6" cy="188.8" r="2.0" stroke="#d6731f"/>
<circle cx="546.6" cy="193.7" r="2.0" stroke="#d6731f"/>
<circle cx="545.5" cy="197.2" r="2.0" stroke="#d6731f"/>
<circle cx="552.6" cy="193.1" r="2.0" stroke="#d6731f"/>
<circle cx="545.8" cy="202.5" r="2.0" stroke="#d6731f"/>
<circle cx="551.7" cy="188.0" r="2.0" stroke="#d6731f"/>
<circle cx="546.3" cy="199.9" r="2.0" stroke="#d6731f"/>
<circle cx="544.6" cy="194.8" r="2.0" stroke="#d6731f"/>
<circle cx="570.8" cy="187.4" r="2.0" stroke="#2459a8"/>
<circle cx="569.3" cy="185.1" r="2.0" stroke="#2459a8"/>
<circle cx="565.6" cy="189.5" r="2.0" stroke="#2459a8"/>
<circle cx="565.0" cy="185.7" r="2.0" stroke="#2459a8"/>
<circle cx="568.9" cy="184.4" r="2.0" stroke="#2459a8"/>
<circle cx="568.2" cy="186.8" r="2.0" stroke="#2459a8"/>
<circle cx="569.0" cy="188.5" r="2.0" stroke="#2459a8"/>
<circle cx="565.9" cy="183.7" r="2.0" stroke="#2459a8"/>
<circle cx="565.7" cy="181.8" r="2.0" stroke="#2459a8"/>
<circle cx="567.1" cy="186.7" r="2.0" stroke="#2459a8"/>
<circle cx="568.4" cy="178.3" r="2.0" stroke="#2459a8"/>
<circle cx="568.8" cy="191.3" r="2.0" stroke="#2459a8"/>
<circle cx="567.9" cy="190.5" r="2.0" stroke="#2459a8"/>
<circle cx="568.1" cy="179.3" r="2.0" stroke="#2459a8"/>
<circle cx="564.5" cy="180.1" r="2.0" stroke="#2459a8"/>
<circle cx="570.5" cy="183.6" r="2.0" stroke="#2459a8"/>
<circle cx="564.7" cy="185.9" r="2.0" stroke="#2459a8"/>
<circle cx="563.4" cy="188.0" r="2.0" stroke="#2459a8"/>
<circle cx="570.5" cy="183.2" r="2.0" stroke="#2459a8"/>
<circle cx="566.0" cy="180.5" r="2.0" stroke="#2459a8"/>
<circle cx="564.4" cy="189.2" r="2.0" stroke="#2459a8"/>
<circle cx="568.9" cy="185.0" r="2.0" stroke="#2459a8"/>
<circle cx="567.7" cy="190.2" r="2.0" stroke="#2459a8"/>
<circle cx="563.7" cy="188.2" r="2.0" stroke="#2459a8"/>
<circle cx="563.7" cy="179.9" r="2.0" stroke="#2459a8"/>
<circle cx="566.0" cy="181.4" r="2.0" stroke="#2459a8"/>
<circle cx="569.9" cy="182.5" r="2.0" stroke="#2459a8"/>
<circle cx="564.4" cy="182.0" r="2.0" stroke="#2459a8"/>
<circle cx="562.8" cy="191.0" r="2.0" stroke="#2459a8"/>
<circle cx="569.8" cy="191.9" r="2.0" stroke="#2459a8"/>
<circle cx="563.7" cy="178.8" r="2.0" stroke="#2459a8"/>
<path d="M582.5 187.9L580.2 192.4L584.8 192.4Z" stroke="#24884f"/>
<path d="M587.2 186.8L584.9 191.3L589.5 191.3Z" stroke="#24884f"/>
<circle cx="585.8" cy="200.6" r="2.0" stroke="#24884f"/>
<circle cx="586.1" cy="190.0" r="2.0" stroke="#24884f"/>
<circle cx="586.2" cy="199.4" r="2.0" stroke="#24884f"/>
<circle cx="583.6" cy="192.6" r="2.0" stroke="#24884f"/>
<circle cx="586.8" cy="196.1" r="2.0" stroke="#24884f"/>
<circle cx="588.2" cy="202.1" r="2.0" stroke="#24884f"/>
<circle cx="584.8" cy="191.6" r="2.0" stroke="#24884f"/>
<circle cx="586.5" cy="188.7" r="2.0" stroke="#24884f"/>
<circle cx="585.1" cy="194.2" r="2.0" stroke="#24884f"/>
<circle cx="583.5" cy="195.8" r="2.0" stroke="#24884f"/>
<circle cx="586.2" cy="198.1" r="2.0" stroke="#24884f"/>
<circle cx="588.4" cy="187.1" r="2.0" stroke="#24884f"/>
<circle cx="584.0" cy="205.0" r="2.0" stroke="#24884f"/>
<circle cx="586.5" cy="207.5" r="2.0" stroke="#24884f"/>
<circle cx="588.5" cy="204.5" r="2.0" stroke="#24884f"/>
<circle cx="587.0" cy="209.5" r="2.0" stroke="#24884f"/>
<circle cx="583.0" cy="288.2" r="2.0" stroke="#24884f"/>
<circle cx="600.8" cy="190.9" r="2.0" stroke="#d6731f"/>
<circle cx="606.7" cy="196.9" r="2.0" stroke="#d6731f"/>
<circle cx="600.8" cy="194.8" r="2.0" stroke="#d6731f"/>
<circle cx="601.8" cy="192.2" r="2.0" stroke="#d6731f"/>
<circle cx="603.9" cy="196.3" r="2.0" stroke="#d6731f"/>
<circle cx="603.6" cy="192.8" r="2.0" stroke="#d6731f"/>
<circle cx="601.6" cy="195.5" r="2.0" stroke="#d6731f"/>
<circle cx="600.8" cy="193.7" r="2.0" stroke="#d6731f"/>
<circle cx="604.4" cy="193.1" r="2.0" stroke="#d6731f"/>
<circle cx="603.0" cy="194.9" r="2.0" stroke="#d6731f"/>
<circle cx="603.2" cy="192.1" r="2.0" stroke="#d6731f"/>
<circle cx="604.1" cy="191.6" r="2.0" stroke="#d6731f"/>
<circle cx="605.7" cy="197.1" r="2.0" stroke="#d6731f"/>
<circle cx="607.4" cy="194.2" r="2.0" stroke="#d6731f"/>
<circle cx="600.7" cy="196.1" r="2.0" stroke="#d6731f"/>
<path d="M623.5 186.1L621.2 190.6L625.8 190.6Z" stroke="#2459a8"/>
<path d="M623.6 185.9L621.3 190.4L625.9 190.4Z" stroke="#2459a8"/>
<path d="M618.9 186.7L616.6 191.2L621.2 191.2Z" stroke="#2459a8"/>
<circle cx="616.9" cy="189.2" r="2.0" stroke="#2459a8"/>
<circle cx="618.7" cy="196.6" r="2.0" stroke="#2459a8"/>
<circle cx="623.0" cy="191.6" r="2.0" stroke="#2459a8"/>
<circle cx="624.5" cy="195.7" r="2.0" stroke="#2459a8"/>
<circle cx="624.4" cy="190.4" r="2.0" stroke="#2459a8"/>
<circle cx="624.8" cy="194.7" r="2.0" stroke="#2459a8"/>
<circle cx="618.3" cy="193.3" r="2.0" stroke="#2459a8"/>
<circle cx="619.0" cy="201.5" r="2.0" stroke="#2459a8"/>
<circle cx="621.5" cy="203.0" r="2.0" stroke="#2459a8"/>
<circle cx="620.5" cy="205.5" r="2.0" stroke="#2459a8"/>
<circle cx="623.5" cy="207.5" r="2.0" stroke="#2459a8"/>
</g>
<g stroke="#333" stroke-width="1.05"><line x1="531" y1="75.45" x2="567" y2="75.45"/><line x1="531.8" y1="227.3" x2="567" y2="227.3"/></g>
<g fill="none" stroke="#111" stroke-width="1.05">
<path d="M546.30 76.70L546.30 80.70M544.57 77.70L548.03 79.70M548.03 77.70L544.57 79.70"/>
<path d="M550.90 76.70L550.90 80.70M549.17 77.70L552.63 79.70M552.63 77.70L549.17 79.70"/>
<path d="M555.50 76.70L555.50 80.70M553.77 77.70L557.23 79.70M557.23 77.70L553.77 79.70"/>
<path d="M546.70 228.50L546.70 232.50M544.97 229.50L548.43 231.50M548.43 229.50L544.97 231.50"/>
<path d="M551.30 228.50L551.30 232.50M549.57 229.50L553.03 231.50M553.03 229.50L549.57 231.50"/>
<path d="M555.90 228.50L555.90 232.50M554.17 229.50L557.63 231.50M557.63 229.50L554.17 231.50"/>
</g>
<g font-size="8.8" fill="#000" stroke="#000" stroke-width="0.12">
<path d="M637.6 17.9L635.3 22.4L639.9 22.4Z" stroke="#000" fill="none" stroke-width="0.9"/>
<circle cx="637.6" cy="33.4" r="1.8" fill="none" stroke="#000" stroke-width="0.9"/>
<text x="643.8" y="23.1" transform="matrix(1 0 0 1.0 0 0.000)">Alone</text>
<text x="643.8" y="36.9" transform="matrix(1 0 0 1.0 0 0.000)">With</text>
<text x="643.8" y="47.4" transform="matrix(1 0 0 1.0 0 0.000)">partner</text>
<text x="635.3" y="64.4" fill="#24884f" stroke="#24884f" stroke-width="0.12" transform="matrix(1 0 0 1.0 0 0.000)">A: Ancestral</text>
<text x="635.3" y="75.1" fill="#d6731f" stroke="#d6731f" stroke-width="0.12" transform="matrix(1 0 0 1.0 0 0.000)">R: Random</text>
<text x="635.3" y="85.2" fill="#2459a8" stroke="#2459a8" stroke-width="0.12" transform="matrix(1 0 0 1.0 0 0.000)">S: Selection</text>
<text x="653.2" y="105.9" transform="matrix(1 0 0 1.0 0 0.000)">p&lt;0.05</text>
<text x="653.2" y="119.0" transform="matrix(1 0 0 1.0 0 0.000)">p&lt;0.01</text>
<text x="653.2" y="132.0" transform="matrix(1 0 0 1.0 0 0.000)">p&lt;0.001</text>
</g>
<g fill="none" stroke="#111" stroke-width="1.05">
<path d="M638.50 100.70L638.50 104.70M636.77 101.70L640.23 103.70M640.23 101.70L636.77 103.70"/>
<path d="M638.50 113.60L638.50 117.60M636.77 114.60L640.23 116.60M640.23 114.60L636.77 116.60"/>
<path d="M642.60 113.60L642.60 117.60M640.87 114.60L644.33 116.60M644.33 114.60L640.87 116.60"/>
<path d="M638.50 126.60L638.50 130.60M636.77 127.60L640.23 129.60M640.23 127.60L636.77 129.60"/>
<path d="M642.60 126.60L642.60 130.60M640.87 127.60L644.33 129.60M644.33 127.60L640.87 129.60"/>
<path d="M646.70 126.60L646.70 130.60M644.97 127.60L648.43 129.60M648.43 127.60L644.97 129.60"/>
</g>
<g font-size="8">
<rect x="27.60" y="324.30" width="16.52" height="15.75" fill="#faeeeb"/>
<rect x="44.12" y="324.30" width="16.52" height="15.75" fill="#f6f5f9"/>
<rect x="44.12" y="324.30" width="16.52" height="15.75" fill="#fff" fill-opacity="0.73"/>
<rect x="44.12" y="324.30" width="16.52" height="15.75" fill="url(#hp)"/>
<rect x="93.68" y="324.30" width="16.52" height="15.75" fill="#fdf6f5"/>
<rect x="93.68" y="324.30" width="16.52" height="15.75" fill="#fff" fill-opacity="0.73"/>
<rect x="93.68" y="324.30" width="16.52" height="15.75" fill="url(#hp)"/>
<rect x="126.72" y="324.30" width="16.52" height="15.75" fill="#f6f5f9"/>
<rect x="126.72" y="324.30" width="16.52" height="15.75" fill="#fff" fill-opacity="0.73"/>
<rect x="126.72" y="324.30" width="16.52" height="15.75" fill="url(#hp)"/>
<rect x="159.76" y="324.30" width="16.52" height="15.75" fill="#efc2ba"/>
<rect x="159.76" y="324.30" width="16.52" height="15.75" fill="#fff" fill-opacity="0.73"/>
<rect x="159.76" y="324.30" width="16.52" height="15.75" fill="url(#hp)"/>
<rect x="27.60" y="340.05" width="16.52" height="15.75" fill="#fdf6f5"/>
<rect x="27.60" y="340.05" width="16.52" height="15.75" fill="#fff" fill-opacity="0.73"/>
<rect x="27.60" y="340.05" width="16.52" height="15.75" fill="url(#hp)"/>
<rect x="44.12" y="340.05" width="16.52" height="15.75" fill="#eeebf3"/>
<rect x="44.12" y="340.05" width="16.52" height="15.75" fill="#fff" fill-opacity="0.73"/>
<rect x="44.12" y="340.05" width="16.52" height="15.75" fill="url(#hp)"/>
<rect x="77.16" y="340.05" width="16.52" height="15.75" fill="#f8e5e1"/>
<rect x="77.16" y="340.05" width="16.52" height="15.75" fill="#fff" fill-opacity="0.73"/>
<rect x="77.16" y="340.05" width="16.52" height="15.75" fill="url(#hp)"/>
<rect x="93.68" y="340.05" width="16.52" height="15.75" fill="#faeeeb"/>
<rect x="93.68" y="340.05" width="16.52" height="15.75" fill="#fff" fill-opacity="0.73"/>
<rect x="93.68" y="340.05" width="16.52" height="15.75" fill="url(#hp)"/>
<rect x="110.20" y="340.05" width="16.52" height="15.75" fill="#ffffff"/>
<rect x="110.20" y="340.05" width="16.52" height="15.75" fill="#fff" fill-opacity="0.73"/>
<rect x="110.20" y="340.05" width="16.52" height="15.75" fill="url(#hp)"/>
<rect x="126.72" y="340.05" width="16.52" height="15.75" fill="#f8e5e1"/>
<rect x="143.24" y="340.05" width="16.52" height="15.75" fill="#f6dcd7"/>
<rect x="143.24" y="340.05" width="16.52" height="15.75" fill="#fff" fill-opacity="0.73"/>
<rect x="143.24" y="340.05" width="16.52" height="15.75" fill="url(#hp)"/>
<rect x="159.76" y="340.05" width="16.52" height="15.75" fill="#fdf6f5"/>
<rect x="159.76" y="340.05" width="16.52" height="15.75" fill="#fff" fill-opacity="0.73"/>
<rect x="159.76" y="340.05" width="16.52" height="15.75" fill="url(#hp)"/>
<rect x="192.80" y="340.05" width="16.52" height="15.75" fill="#f8e5e1"/>
<rect x="192.80" y="340.05" width="16.52" height="15.75" fill="#fff" fill-opacity="0.73"/>
<rect x="192.80" y="340.05" width="16.52" height="15.75" fill="url(#hp)"/>
<rect x="27.60" y="355.80" width="16.52" height="15.75" fill="#fdf6f5"/>
<rect x="27.60" y="355.80" width="16.52" height="15.75" fill="#fff" fill-opacity="0.73"/>
<rect x="27.60" y="355.80" width="16.52" height="15.75" fill="url(#hp)"/>
<rect x="44.12" y="355.80" width="16.52" height="15.75" fill="#faeeeb"/>
<rect x="77.16" y="355.80" width="16.52" height="15.75" fill="#fdf6f5"/>
<rect x="77.16" y="355.80" width="16.52" height="15.75" fill="#fff" fill-opacity="0.73"/>
<rect x="77.16" y="355.80" width="16.52" height="15.75" fill="url(#hp)"/>
<rect x="93.68" y="355.80" width="16.52" height="15.75" fill="#fdf6f5"/>
<rect x="93.68" y="355.80" width="16.52" height="15.75" fill="#fff" fill-opacity="0.73"/>
<rect x="93.68" y="355.80" width="16.52" height="15.75" fill="url(#hp)"/>
<rect x="110.20" y="355.80" width="16.52" height="15.75" fill="#ffffff"/>
<rect x="110.20" y="355.80" width="16.52" height="15.75" fill="#fff" fill-opacity="0.73"/>
<rect x="110.20" y="355.80" width="16.52" height="15.75" fill="url(#hp)"/>
<rect x="126.72" y="355.80" width="16.52" height="15.75" fill="#fdf6f5"/>
<rect x="176.28" y="355.80" width="16.52" height="15.75" fill="#f8e5e1"/>
<rect x="192.80" y="355.80" width="16.52" height="15.75" fill="#edbab0"/>
<rect x="27.60" y="371.55" width="16.52" height="15.75" fill="#ffffff"/>
<rect x="27.60" y="371.55" width="16.52" height="15.75" fill="#fff" fill-opacity="0.73"/>
<rect x="27.60" y="371.55" width="16.52" height="15.75" fill="url(#hp)"/>
<rect x="44.12" y="371.55" width="16.52" height="15.75" fill="#df8575"/>
<rect x="60.64" y="371.55" width="16.52" height="15.75" fill="#ffffff"/>
<rect x="60.64" y="371.55" width="16.52" height="15.75" fill="#fff" fill-opacity="0.73"/>
<rect x="60.64" y="371.55" width="16.52" height="15.75" fill="url(#hp)"/>
<rect x="77.16" y="371.55" width="16.52" height="15.75" fill="#ffffff"/>
<rect x="77.16" y="371.55" width="16.52" height="15.75" fill="#fff" fill-opacity="0.73"/>
<rect x="77.16" y="371.55" width="16.52" height="15.75" fill="url(#hp)"/>
<rect x="110.20" y="371.55" width="16.52" height="15.75" fill="#fdf6f5"/>
<rect x="110.20" y="371.55" width="16.52" height="15.75" fill="#fff" fill-opacity="0.73"/>
<rect x="110.20" y="371.55" width="16.52" height="15.75" fill="url(#hp)"/>
<rect x="126.72" y="371.55" width="16.52" height="15.75" fill="#f6f5f9"/>
<rect x="126.72" y="371.55" width="16.52" height="15.75" fill="#fff" fill-opacity="0.73"/>
<rect x="126.72" y="371.55" width="16.52" height="15.75" fill="url(#hp)"/>
<rect x="159.76" y="371.55" width="16.52" height="15.75" fill="#fdf6f5"/>
<rect x="159.76" y="371.55" width="16.52" height="15.75" fill="#fff" fill-opacity="0.73"/>
<rect x="159.76" y="371.55" width="16.52" height="15.75" fill="url(#hp)"/>
<rect x="176.28" y="371.55" width="16.52" height="15.75" fill="#fdf6f5"/>
<rect x="176.28" y="371.55" width="16.52" height="15.75" fill="#fff" fill-opacity="0.73"/>
<rect x="176.28" y="371.55" width="16.52" height="15.75" fill="url(#hp)"/>
<rect x="192.80" y="371.55" width="16.52" height="15.75" fill="#f6dcd7"/>
<rect x="192.80" y="371.55" width="16.52" height="15.75" fill="#fff" fill-opacity="0.73"/>
<rect x="192.80" y="371.55" width="16.52" height="15.75" fill="url(#hp)"/>
<rect x="27.60" y="387.30" width="16.52" height="15.75" fill="#e5e2ed"/>
<rect x="44.12" y="387.30" width="16.52" height="15.75" fill="#f6f5f9"/>
<rect x="44.12" y="387.30" width="16.52" height="15.75" fill="#fff" fill-opacity="0.73"/>
<rect x="44.12" y="387.30" width="16.52" height="15.75" fill="url(#hp)"/>
<rect x="60.64" y="387.30" width="16.52" height="15.75" fill="#d4cee1"/>
<rect x="77.16" y="387.30" width="16.52" height="15.75" fill="#e5e2ed"/>
<rect x="93.68" y="387.30" width="16.52" height="15.75" fill="#ffffff"/>
<rect x="93.68" y="387.30" width="16.52" height="15.75" fill="#fff" fill-opacity="0.73"/>
<rect x="93.68" y="387.30" width="16.52" height="15.75" fill="url(#hp)"/>
<rect x="110.20" y="387.30" width="16.52" height="15.75" fill="#fdf6f5"/>
<rect x="110.20" y="387.30" width="16.52" height="15.75" fill="#fff" fill-opacity="0.73"/>
<rect x="110.20" y="387.30" width="16.52" height="15.75" fill="url(#hp)"/>
<rect x="143.24" y="387.30" width="16.52" height="15.75" fill="#ccc4db"/>
<rect x="143.24" y="387.30" width="16.52" height="15.75" fill="#fff" fill-opacity="0.73"/>
<rect x="143.24" y="387.30" width="16.52" height="15.75" fill="url(#hp)"/>
<rect x="159.76" y="387.30" width="16.52" height="15.75" fill="#8876ac"/>
<rect x="176.28" y="387.30" width="16.52" height="15.75" fill="#9989b7"/>
<rect x="192.80" y="387.30" width="16.52" height="15.75" fill="#aa9dc3"/>
<rect x="27.60" y="403.05" width="16.52" height="15.75" fill="#ffffff"/>
<rect x="27.60" y="403.05" width="16.52" height="15.75" fill="#fff" fill-opacity="0.73"/>
<rect x="27.60" y="403.05" width="16.52" height="15.75" fill="url(#hp)"/>
<rect x="44.12" y="403.05" width="16.52" height="15.75" fill="#f6dcd7"/>
<rect x="77.16" y="403.05" width="16.52" height="15.75" fill="#fdf6f5"/>
<rect x="126.72" y="403.05" width="16.52" height="15.75" fill="#f6f5f9"/>
<rect x="143.24" y="403.05" width="16.52" height="15.75" fill="#faeeeb"/>
<rect x="143.24" y="403.05" width="16.52" height="15.75" fill="#fff" fill-opacity="0.73"/>
<rect x="143.24" y="403.05" width="16.52" height="15.75" fill="url(#hp)"/>
<rect x="159.76" y="403.05" width="16.52" height="15.75" fill="#f6dcd7"/>
<rect x="176.28" y="403.05" width="16.52" height="15.75" fill="#f4d4ce"/>
<rect x="192.80" y="403.05" width="16.52" height="15.75" fill="#efc2ba"/>
<rect x="27.60" y="418.80" width="16.52" height="15.75" fill="#ddd8e7"/>
<rect x="44.12" y="418.80" width="16.52" height="15.75" fill="#faeeeb"/>
<rect x="77.16" y="418.80" width="16.52" height="15.75" fill="#eeebf3"/>
<rect x="126.72" y="418.80" width="16.52" height="15.75" fill="#dd7d6b"/>
<rect x="159.76" y="418.80" width="16.52" height="15.75" fill="#ddd8e7"/>
<rect x="176.28" y="418.80" width="16.52" height="15.75" fill="#d4cee1"/>
<rect x="192.80" y="418.80" width="16.52" height="15.75" fill="#eeebf3"/>
<rect x="27.60" y="434.55" width="16.52" height="15.75" fill="#f8e5e1"/>
<rect x="27.60" y="434.55" width="16.52" height="15.75" fill="#fff" fill-opacity="0.73"/>
<rect x="27.60" y="434.55" width="16.52" height="15.75" fill="url(#hp)"/>
<rect x="44.12" y="434.55" width="16.52" height="15.75" fill="#f6dcd7"/>
<rect x="60.64" y="434.55" width="16.52" height="15.75" fill="#f6dcd7"/>
<rect x="93.68" y="434.55" width="16.52" height="15.75" fill="#f8e5e1"/>
<rect x="93.68" y="434.55" width="16.52" height="15.75" fill="#fff" fill-opacity="0.73"/>
<rect x="93.68" y="434.55" width="16.52" height="15.75" fill="url(#hp)"/>
<rect x="110.20" y="434.55" width="16.52" height="15.75" fill="#f6dcd7"/>
<rect x="126.72" y="434.55" width="16.52" height="15.75" fill="#faeeeb"/>
<rect x="126.72" y="434.55" width="16.52" height="15.75" fill="#fff" fill-opacity="0.73"/>
<rect x="126.72" y="434.55" width="16.52" height="15.75" fill="url(#hp)"/>
<rect x="143.24" y="434.55" width="16.52" height="15.75" fill="#fdf6f5"/>
<rect x="143.24" y="434.55" width="16.52" height="15.75" fill="#fff" fill-opacity="0.73"/>
<rect x="143.24" y="434.55" width="16.52" height="15.75" fill="url(#hp)"/>
<rect x="159.76" y="434.55" width="16.52" height="15.75" fill="#eeebf3"/>
<rect x="176.28" y="434.55" width="16.52" height="15.75" fill="#ccc4db"/>
<rect x="192.80" y="434.55" width="16.52" height="15.75" fill="#ddd8e7"/>
<rect x="27.60" y="450.30" width="16.52" height="15.75" fill="#eab1a6"/>
<rect x="27.60" y="450.30" width="16.52" height="15.75" fill="#fff" fill-opacity="0.73"/>
<rect x="27.60" y="450.30" width="16.52" height="15.75" fill="url(#hp)"/>
<rect x="44.12" y="450.30" width="16.52" height="15.75" fill="#e49788"/>
<rect x="44.12" y="450.30" width="16.52" height="15.75" fill="#fff" fill-opacity="0.73"/>
<rect x="44.12" y="450.30" width="16.52" height="15.75" fill="url(#hp)"/>
<rect x="77.16" y="450.30" width="16.52" height="15.75" fill="#eab1a6"/>
<rect x="77.16" y="450.30" width="16.52" height="15.75" fill="#fff" fill-opacity="0.73"/>
<rect x="77.16" y="450.30" width="16.52" height="15.75" fill="url(#hp)"/>
<rect x="126.72" y="450.30" width="16.52" height="15.75" fill="#eab1a6"/>
<rect x="126.72" y="450.30" width="16.52" height="15.75" fill="#fff" fill-opacity="0.73"/>
<rect x="126.72" y="450.30" width="16.52" height="15.75" fill="url(#hp)"/>
<rect x="143.24" y="450.30" width="16.52" height="15.75" fill="#f1cbc4"/>
<rect x="143.24" y="450.30" width="16.52" height="15.75" fill="#fff" fill-opacity="0.73"/>
<rect x="143.24" y="450.30" width="16.52" height="15.75" fill="url(#hp)"/>
<rect x="159.76" y="450.30" width="16.52" height="15.75" fill="#eab1a6"/>
<rect x="159.76" y="450.30" width="16.52" height="15.75" fill="#fff" fill-opacity="0.73"/>
<rect x="159.76" y="450.30" width="16.52" height="15.75" fill="url(#hp)"/>
<rect x="192.80" y="450.30" width="16.52" height="15.75" fill="#e8a89c"/>
<rect x="192.80" y="450.30" width="16.52" height="15.75" fill="#fff" fill-opacity="0.73"/>
<rect x="192.80" y="450.30" width="16.52" height="15.75" fill="url(#hp)"/>
<rect x="27.60" y="466.05" width="16.52" height="15.75" fill="#e5e2ed"/>
<rect x="60.64" y="466.05" width="16.52" height="15.75" fill="#e5e2ed"/>
<rect x="77.16" y="466.05" width="16.52" height="15.75" fill="#e5e2ed"/>
<rect x="93.68" y="466.05" width="16.52" height="15.75" fill="#eeebf3"/>
<rect x="110.20" y="466.05" width="16.52" height="15.75" fill="#f6f5f9"/>
<rect x="110.20" y="466.05" width="16.52" height="15.75" fill="#fff" fill-opacity="0.73"/>
<rect x="110.20" y="466.05" width="16.52" height="15.75" fill="url(#hp)"/>
<rect x="126.72" y="466.05" width="16.52" height="15.75" fill="#eeebf3"/>
<rect x="143.24" y="466.05" width="16.52" height="15.75" fill="#eeebf3"/>
<rect x="159.76" y="466.05" width="16.52" height="15.75" fill="#8876ac"/>
<rect x="176.28" y="466.05" width="16.52" height="15.75" fill="#aa9dc3"/>
<rect x="192.80" y="466.05" width="16.52" height="15.75" fill="#aa9dc3"/>
<rect x="44.12" y="481.80" width="16.52" height="15.75" fill="#dd7d6b"/>
<rect x="44.12" y="481.80" width="16.52" height="15.75" fill="#fff" fill-opacity="0.73"/>
<rect x="44.12" y="481.80" width="16.52" height="15.75" fill="url(#hp)"/>
<rect x="60.64" y="481.80" width="16.52" height="15.75" fill="#fdf6f5"/>
<rect x="60.64" y="481.80" width="16.52" height="15.75" fill="#fff" fill-opacity="0.73"/>
<rect x="60.64" y="481.80" width="16.52" height="15.75" fill="url(#hp)"/>
<rect x="77.16" y="481.80" width="16.52" height="15.75" fill="#c62608"/>
<rect x="77.16" y="481.80" width="16.52" height="15.75" fill="#fff" fill-opacity="0.73"/>
<rect x="77.16" y="481.80" width="16.52" height="15.75" fill="url(#hp)"/>
<rect x="93.68" y="481.80" width="16.52" height="15.75" fill="#dd7d6b"/>
<rect x="93.68" y="481.80" width="16.52" height="15.75" fill="#fff" fill-opacity="0.73"/>
<rect x="93.68" y="481.80" width="16.52" height="15.75" fill="url(#hp)"/>
<rect x="110.20" y="481.80" width="16.52" height="15.75" fill="#c62608"/>
<rect x="110.20" y="481.80" width="16.52" height="15.75" fill="#fff" fill-opacity="0.73"/>
<rect x="110.20" y="481.80" width="16.52" height="15.75" fill="url(#hp)"/>
<rect x="126.72" y="481.80" width="16.52" height="15.75" fill="#dd7d6b"/>
<rect x="126.72" y="481.80" width="16.52" height="15.75" fill="#fff" fill-opacity="0.73"/>
<rect x="126.72" y="481.80" width="16.52" height="15.75" fill="url(#hp)"/>
<rect x="143.24" y="481.80" width="16.52" height="15.75" fill="#fdf6f5"/>
<rect x="143.24" y="481.80" width="16.52" height="15.75" fill="#fff" fill-opacity="0.73"/>
<rect x="143.24" y="481.80" width="16.52" height="15.75" fill="url(#hp)"/>
<rect x="159.76" y="481.80" width="16.52" height="15.75" fill="#e5e2ed"/>
<rect x="176.28" y="481.80" width="16.52" height="15.75" fill="#ffffff"/>
<rect x="176.28" y="481.80" width="16.52" height="15.75" fill="#fff" fill-opacity="0.73"/>
<rect x="176.28" y="481.80" width="16.52" height="15.75" fill="url(#hp)"/>
<rect x="192.80" y="481.80" width="16.52" height="15.75" fill="#f8e5e1"/>
<rect x="192.80" y="481.80" width="16.52" height="15.75" fill="#fff" fill-opacity="0.73"/>
<rect x="192.80" y="481.80" width="16.52" height="15.75" fill="url(#hp)"/>
<text x="36.36" y="335.88" text-anchor="middle" fill="#111" stroke="#111" stroke-width="0.12" transform="matrix(1 0 0 1.0 0 0.000)">-2</text>
<text x="52.88" y="335.88" text-anchor="middle" fill="#b4b4b4" stroke="#b4b4b4" stroke-width="0.12" transform="matrix(1 0 0 1.0 0 0.000)">1</text>
<text x="102.44" y="335.88" text-anchor="middle" fill="#b4b4b4" stroke="#b4b4b4" stroke-width="0.12" transform="matrix(1 0 0 1.0 0 0.000)">-1</text>
<text x="135.48" y="335.88" text-anchor="middle" fill="#b4b4b4" stroke="#b4b4b4" stroke-width="0.12" transform="matrix(1 0 0 1.0 0 0.000)">1</text>
<text x="168.52" y="335.88" text-anchor="middle" fill="#b4b4b4" stroke="#b4b4b4" stroke-width="0.12" transform="matrix(1 0 0 1.0 0 0.000)">-7</text>
<text x="36.36" y="351.62" text-anchor="middle" fill="#b4b4b4" stroke="#b4b4b4" stroke-width="0.12" transform="matrix(1 0 0 1.0 0 0.000)">-1</text>
<text x="52.88" y="351.62" text-anchor="middle" fill="#b4b4b4" stroke="#b4b4b4" stroke-width="0.12" transform="matrix(1 0 0 1.0 0 0.000)">2</text>
<text x="85.92" y="351.62" text-anchor="middle" fill="#b4b4b4" stroke="#b4b4b4" stroke-width="0.12" transform="matrix(1 0 0 1.0 0 0.000)">-3</text>
<text x="102.44" y="351.62" text-anchor="middle" fill="#b4b4b4" stroke="#b4b4b4" stroke-width="0.12" transform="matrix(1 0 0 1.0 0 0.000)">-2</text>
<text x="118.96" y="351.62" text-anchor="middle" fill="#b4b4b4" stroke="#b4b4b4" stroke-width="0.12" transform="matrix(1 0 0 1.0 0 0.000)">0</text>
<text x="135.48" y="351.62" text-anchor="middle" fill="#111" stroke="#111" stroke-width="0.12" transform="matrix(1 0 0 1.0 0 0.000)">-3</text>
<text x="152.00" y="351.62" text-anchor="middle" fill="#b4b4b4" stroke="#b4b4b4" stroke-width="0.12" transform="matrix(1 0 0 1.0 0 0.000)">-4</text>
<text x="168.52" y="351.62" text-anchor="middle" fill="#b4b4b4" stroke="#b4b4b4" stroke-width="0.12" transform="matrix(1 0 0 1.0 0 0.000)">-1</text>
<text x="201.56" y="351.62" text-anchor="middle" fill="#b4b4b4" stroke="#b4b4b4" stroke-width="0.12" transform="matrix(1 0 0 1.0 0 0.000)">-3</text>
<text x="36.36" y="367.38" text-anchor="middle" fill="#b4b4b4" stroke="#b4b4b4" stroke-width="0.12" transform="matrix(1 0 0 1.0 0 0.000)">-1</text>
<text x="52.88" y="367.38" text-anchor="middle" fill="#111" stroke="#111" stroke-width="0.12" transform="matrix(1 0 0 1.0 0 0.000)">-2</text>
<text x="85.92" y="367.38" text-anchor="middle" fill="#b4b4b4" stroke="#b4b4b4" stroke-width="0.12" transform="matrix(1 0 0 1.0 0 0.000)">-1</text>
<text x="102.44" y="367.38" text-anchor="middle" fill="#b4b4b4" stroke="#b4b4b4" stroke-width="0.12" transform="matrix(1 0 0 1.0 0 0.000)">-1</text>
<text x="118.96" y="367.38" text-anchor="middle" fill="#b4b4b4" stroke="#b4b4b4" stroke-width="0.12" transform="matrix(1 0 0 1.0 0 0.000)">0</text>
<text x="135.48" y="367.38" text-anchor="middle" fill="#111" stroke="#111" stroke-width="0.12" transform="matrix(1 0 0 1.0 0 0.000)">-1</text>
<text x="185.04" y="367.38" text-anchor="middle" fill="#111" stroke="#111" stroke-width="0.12" transform="matrix(1 0 0 1.0 0 0.000)">-3</text>
<text x="201.56" y="367.38" text-anchor="middle" fill="#111" stroke="#111" stroke-width="0.12" transform="matrix(1 0 0 1.0 0 0.000)">-8</text>
<text x="36.36" y="383.12" text-anchor="middle" fill="#b4b4b4" stroke="#b4b4b4" stroke-width="0.12" transform="matrix(1 0 0 1.0 0 0.000)">0</text>
<text x="52.88" y="383.12" text-anchor="middle" fill="#111" stroke="#111" stroke-width="0.12" transform="matrix(1 0 0 1.0 0 0.000)">-14</text>
<text x="69.40" y="383.12" text-anchor="middle" fill="#b4b4b4" stroke="#b4b4b4" stroke-width="0.12" transform="matrix(1 0 0 1.0 0 0.000)">-0</text>
<text x="85.92" y="383.12" text-anchor="middle" fill="#b4b4b4" stroke="#b4b4b4" stroke-width="0.12" transform="matrix(1 0 0 1.0 0 0.000)">0</text>
<text x="118.96" y="383.12" text-anchor="middle" fill="#b4b4b4" stroke="#b4b4b4" stroke-width="0.12" transform="matrix(1 0 0 1.0 0 0.000)">-1</text>
<text x="135.48" y="383.12" text-anchor="middle" fill="#b4b4b4" stroke="#b4b4b4" stroke-width="0.12" transform="matrix(1 0 0 1.0 0 0.000)">1</text>
<text x="168.52" y="383.12" text-anchor="middle" fill="#b4b4b4" stroke="#b4b4b4" stroke-width="0.12" transform="matrix(1 0 0 1.0 0 0.000)">-1</text>
<text x="185.04" y="383.12" text-anchor="middle" fill="#b4b4b4" stroke="#b4b4b4" stroke-width="0.12" transform="matrix(1 0 0 1.0 0 0.000)">-1</text>
<text x="201.56" y="383.12" text-anchor="middle" fill="#b4b4b4" stroke="#b4b4b4" stroke-width="0.12" transform="matrix(1 0 0 1.0 0 0.000)">-4</text>
<text x="36.36" y="398.88" text-anchor="middle" fill="#111" stroke="#111" stroke-width="0.12" transform="matrix(1 0 0 1.0 0 0.000)">3</text>
<text x="52.88" y="398.88" text-anchor="middle" fill="#b4b4b4" stroke="#b4b4b4" stroke-width="0.12" transform="matrix(1 0 0 1.0 0 0.000)">1</text>
<text x="69.40" y="398.88" text-anchor="middle" fill="#111" stroke="#111" stroke-width="0.12" transform="matrix(1 0 0 1.0 0 0.000)">5</text>
<text x="85.92" y="398.88" text-anchor="middle" fill="#111" stroke="#111" stroke-width="0.12" transform="matrix(1 0 0 1.0 0 0.000)">3</text>
<text x="102.44" y="398.88" text-anchor="middle" fill="#b4b4b4" stroke="#b4b4b4" stroke-width="0.12" transform="matrix(1 0 0 1.0 0 0.000)">0</text>
<text x="118.96" y="398.88" text-anchor="middle" fill="#b4b4b4" stroke="#b4b4b4" stroke-width="0.12" transform="matrix(1 0 0 1.0 0 0.000)">-1</text>
<text x="152.00" y="398.88" text-anchor="middle" fill="#b4b4b4" stroke="#b4b4b4" stroke-width="0.12" transform="matrix(1 0 0 1.0 0 0.000)">6</text>
<text x="168.52" y="398.88" text-anchor="middle" fill="#111" stroke="#111" stroke-width="0.12" transform="matrix(1 0 0 1.0 0 0.000)">14</text>
<text x="185.04" y="398.88" text-anchor="middle" fill="#111" stroke="#111" stroke-width="0.12" transform="matrix(1 0 0 1.0 0 0.000)">12</text>
<text x="201.56" y="398.88" text-anchor="middle" fill="#111" stroke="#111" stroke-width="0.12" transform="matrix(1 0 0 1.0 0 0.000)">10</text>
<text x="36.36" y="414.62" text-anchor="middle" fill="#b4b4b4" stroke="#b4b4b4" stroke-width="0.12" transform="matrix(1 0 0 1.0 0 0.000)">0</text>
<text x="52.88" y="414.62" text-anchor="middle" fill="#111" stroke="#111" stroke-width="0.12" transform="matrix(1 0 0 1.0 0 0.000)">-4</text>
<text x="85.92" y="414.62" text-anchor="middle" fill="#111" stroke="#111" stroke-width="0.12" transform="matrix(1 0 0 1.0 0 0.000)">-1</text>
<text x="135.48" y="414.62" text-anchor="middle" fill="#111" stroke="#111" stroke-width="0.12" transform="matrix(1 0 0 1.0 0 0.000)">1</text>
<text x="152.00" y="414.62" text-anchor="middle" fill="#b4b4b4" stroke="#b4b4b4" stroke-width="0.12" transform="matrix(1 0 0 1.0 0 0.000)">-2</text>
<text x="168.52" y="414.62" text-anchor="middle" fill="#111" stroke="#111" stroke-width="0.12" transform="matrix(1 0 0 1.0 0 0.000)">-4</text>
<text x="185.04" y="414.62" text-anchor="middle" fill="#111" stroke="#111" stroke-width="0.12" transform="matrix(1 0 0 1.0 0 0.000)">-5</text>
<text x="201.56" y="414.62" text-anchor="middle" fill="#111" stroke="#111" stroke-width="0.12" transform="matrix(1 0 0 1.0 0 0.000)">-7</text>
<text x="36.36" y="430.38" text-anchor="middle" fill="#111" stroke="#111" stroke-width="0.12" transform="matrix(1 0 0 1.0 0 0.000)">4</text>
<text x="52.88" y="430.38" text-anchor="middle" fill="#111" stroke="#111" stroke-width="0.12" transform="matrix(1 0 0 1.0 0 0.000)">-2</text>
<text x="85.92" y="430.38" text-anchor="middle" fill="#111" stroke="#111" stroke-width="0.12" transform="matrix(1 0 0 1.0 0 0.000)">2</text>
<text x="135.48" y="430.38" text-anchor="middle" fill="#111" stroke="#111" stroke-width="0.12" transform="matrix(1 0 0 1.0 0 0.000)">-15</text>
<text x="168.52" y="430.38" text-anchor="middle" fill="#111" stroke="#111" stroke-width="0.12" transform="matrix(1 0 0 1.0 0 0.000)">4</text>
<text x="185.04" y="430.38" text-anchor="middle" fill="#111" stroke="#111" stroke-width="0.12" transform="matrix(1 0 0 1.0 0 0.000)">5</text>
<text x="201.56" y="430.38" text-anchor="middle" fill="#111" stroke="#111" stroke-width="0.12" transform="matrix(1 0 0 1.0 0 0.000)">2</text>
<text x="36.36" y="446.12" text-anchor="middle" fill="#b4b4b4" stroke="#b4b4b4" stroke-width="0.12" transform="matrix(1 0 0 1.0 0 0.000)">-3</text>
<text x="52.88" y="446.12" text-anchor="middle" fill="#111" stroke="#111" stroke-width="0.12" transform="matrix(1 0 0 1.0 0 0.000)">-4</text>
<text x="69.40" y="446.12" text-anchor="middle" fill="#111" stroke="#111" stroke-width="0.12" transform="matrix(1 0 0 1.0 0 0.000)">-4</text>
<text x="102.44" y="446.12" text-anchor="middle" fill="#b4b4b4" stroke="#b4b4b4" stroke-width="0.12" transform="matrix(1 0 0 1.0 0 0.000)">-3</text>
<text x="118.96" y="446.12" text-anchor="middle" fill="#111" stroke="#111" stroke-width="0.12" transform="matrix(1 0 0 1.0 0 0.000)">-4</text>
<text x="135.48" y="446.12" text-anchor="middle" fill="#b4b4b4" stroke="#b4b4b4" stroke-width="0.12" transform="matrix(1 0 0 1.0 0 0.000)">-2</text>
<text x="152.00" y="446.12" text-anchor="middle" fill="#b4b4b4" stroke="#b4b4b4" stroke-width="0.12" transform="matrix(1 0 0 1.0 0 0.000)">-1</text>
<text x="168.52" y="446.12" text-anchor="middle" fill="#111" stroke="#111" stroke-width="0.12" transform="matrix(1 0 0 1.0 0 0.000)">2</text>
<text x="185.04" y="446.12" text-anchor="middle" fill="#111" stroke="#111" stroke-width="0.12" transform="matrix(1 0 0 1.0 0 0.000)">6</text>
<text x="201.56" y="446.12" text-anchor="middle" fill="#111" stroke="#111" stroke-width="0.12" transform="matrix(1 0 0 1.0 0 0.000)">4</text>
<text x="36.36" y="461.88" text-anchor="middle" fill="#b4b4b4" stroke="#b4b4b4" stroke-width="0.12" transform="matrix(1 0 0 1.0 0 0.000)">-9</text>
<text x="52.88" y="461.88" text-anchor="middle" fill="#b4b4b4" stroke="#b4b4b4" stroke-width="0.12" transform="matrix(1 0 0 1.0 0 0.000)">-12</text>
<text x="85.92" y="461.88" text-anchor="middle" fill="#b4b4b4" stroke="#b4b4b4" stroke-width="0.12" transform="matrix(1 0 0 1.0 0 0.000)">-9</text>
<text x="135.48" y="461.88" text-anchor="middle" fill="#b4b4b4" stroke="#b4b4b4" stroke-width="0.12" transform="matrix(1 0 0 1.0 0 0.000)">-9</text>
<text x="152.00" y="461.88" text-anchor="middle" fill="#b4b4b4" stroke="#b4b4b4" stroke-width="0.12" transform="matrix(1 0 0 1.0 0 0.000)">-6</text>
<text x="168.52" y="461.88" text-anchor="middle" fill="#b4b4b4" stroke="#b4b4b4" stroke-width="0.12" transform="matrix(1 0 0 1.0 0 0.000)">-9</text>
<text x="201.56" y="461.88" text-anchor="middle" fill="#b4b4b4" stroke="#b4b4b4" stroke-width="0.12" transform="matrix(1 0 0 1.0 0 0.000)">-10</text>
<text x="36.36" y="477.62" text-anchor="middle" fill="#111" stroke="#111" stroke-width="0.12" transform="matrix(1 0 0 1.0 0 0.000)">3</text>
<text x="69.40" y="477.62" text-anchor="middle" fill="#111" stroke="#111" stroke-width="0.12" transform="matrix(1 0 0 1.0 0 0.000)">3</text>
<text x="85.92" y="477.62" text-anchor="middle" fill="#111" stroke="#111" stroke-width="0.12" transform="matrix(1 0 0 1.0 0 0.000)">3</text>
<text x="102.44" y="477.62" text-anchor="middle" fill="#111" stroke="#111" stroke-width="0.12" transform="matrix(1 0 0 1.0 0 0.000)">2</text>
<text x="118.96" y="477.62" text-anchor="middle" fill="#b4b4b4" stroke="#b4b4b4" stroke-width="0.12" transform="matrix(1 0 0 1.0 0 0.000)">1</text>
<text x="135.48" y="477.62" text-anchor="middle" fill="#111" stroke="#111" stroke-width="0.12" transform="matrix(1 0 0 1.0 0 0.000)">2</text>
<text x="152.00" y="477.62" text-anchor="middle" fill="#111" stroke="#111" stroke-width="0.12" transform="matrix(1 0 0 1.0 0 0.000)">2</text>
<text x="168.52" y="477.62" text-anchor="middle" fill="#111" stroke="#111" stroke-width="0.12" transform="matrix(1 0 0 1.0 0 0.000)">14</text>
<text x="185.04" y="477.62" text-anchor="middle" fill="#111" stroke="#111" stroke-width="0.12" transform="matrix(1 0 0 1.0 0 0.000)">10</text>
<text x="201.56" y="477.62" text-anchor="middle" fill="#111" stroke="#111" stroke-width="0.12" transform="matrix(1 0 0 1.0 0 0.000)">10</text>
<text x="52.88" y="493.38" text-anchor="middle" fill="#b4b4b4" stroke="#b4b4b4" stroke-width="0.12" transform="matrix(1 0 0 1.0 0 0.000)">-15</text>
<text x="69.40" y="493.38" text-anchor="middle" fill="#b4b4b4" stroke="#b4b4b4" stroke-width="0.12" transform="matrix(1 0 0 1.0 0 0.000)">-1</text>
<text x="85.92" y="493.38" text-anchor="middle" fill="#f4f4f4" stroke="#f4f4f4" stroke-width="0.12" transform="matrix(1 0 0 1.0 0 0.000)">-26</text>
<text x="102.44" y="493.38" text-anchor="middle" fill="#b4b4b4" stroke="#b4b4b4" stroke-width="0.12" transform="matrix(1 0 0 1.0 0 0.000)">-15</text>
<text x="118.96" y="493.38" text-anchor="middle" fill="#f4f4f4" stroke="#f4f4f4" stroke-width="0.12" transform="matrix(1 0 0 1.0 0 0.000)">-26</text>
<text x="135.48" y="493.38" text-anchor="middle" fill="#b4b4b4" stroke="#b4b4b4" stroke-width="0.12" transform="matrix(1 0 0 1.0 0 0.000)">-15</text>
<text x="152.00" y="493.38" text-anchor="middle" fill="#b4b4b4" stroke="#b4b4b4" stroke-width="0.12" transform="matrix(1 0 0 1.0 0 0.000)">-1</text>
<text x="168.52" y="493.38" text-anchor="middle" fill="#111" stroke="#111" stroke-width="0.12" transform="matrix(1 0 0 1.0 0 0.000)">3</text>
<text x="185.04" y="493.38" text-anchor="middle" fill="#b4b4b4" stroke="#b4b4b4" stroke-width="0.12" transform="matrix(1 0 0 1.0 0 0.000)">-0</text>
<text x="201.56" y="493.38" text-anchor="middle" fill="#b4b4b4" stroke="#b4b4b4" stroke-width="0.12" transform="matrix(1 0 0 1.0 0 0.000)">-3</text>
<rect x="44.12" y="324.30" width="16.52" height="15.75" fill="none" stroke="#c8c8c8" stroke-width="0.8"/>
<rect x="93.68" y="324.30" width="16.52" height="15.75" fill="none" stroke="#c8c8c8" stroke-width="0.8"/>
<rect x="126.72" y="324.30" width="16.52" height="15.75" fill="none" stroke="#c8c8c8" stroke-width="0.8"/>
<rect x="159.76" y="324.30" width="16.52" height="15.75" fill="none" stroke="#c8c8c8" stroke-width="0.8"/>
<rect x="27.60" y="340.05" width="16.52" height="15.75" fill="none" stroke="#c8c8c8" stroke-width="0.8"/>
<rect x="44.12" y="340.05" width="16.52" height="15.75" fill="none" stroke="#c8c8c8" stroke-width="0.8"/>
<rect x="77.16" y="340.05" width="16.52" height="15.75" fill="none" stroke="#c8c8c8" stroke-width="0.8"/>
<rect x="93.68" y="340.05" width="16.52" height="15.75" fill="none" stroke="#c8c8c8" stroke-width="0.8"/>
<rect x="110.20" y="340.05" width="16.52" height="15.75" fill="none" stroke="#c8c8c8" stroke-width="0.8"/>
<rect x="143.24" y="340.05" width="16.52" height="15.75" fill="none" stroke="#c8c8c8" stroke-width="0.8"/>
<rect x="159.76" y="340.05" width="16.52" height="15.75" fill="none" stroke="#c8c8c8" stroke-width="0.8"/>
<rect x="192.80" y="340.05" width="16.52" height="15.75" fill="none" stroke="#c8c8c8" stroke-width="0.8"/>
<rect x="27.60" y="355.80" width="16.52" height="15.75" fill="none" stroke="#c8c8c8" stroke-width="0.8"/>
<rect x="77.16" y="355.80" width="16.52" height="15.75" fill="none" stroke="#c8c8c8" stroke-width="0.8"/>
<rect x="93.68" y="355.80" width="16.52" height="15.75" fill="none" stroke="#c8c8c8" stroke-width="0.8"/>
<rect x="110.20" y="355.80" width="16.52" height="15.75" fill="none" stroke="#c8c8c8" stroke-width="0.8"/>
<rect x="27.60" y="371.55" width="16.52" height="15.75" fill="none" stroke="#c8c8c8" stroke-width="0.8"/>
<rect x="60.64" y="371.55" width="16.52" height="15.75" fill="none" stroke="#c8c8c8" stroke-width="0.8"/>
<rect x="77.16" y="371.55" width="16.52" height="15.75" fill="none" stroke="#c8c8c8" stroke-width="0.8"/>
<rect x="110.20" y="371.55" width="16.52" height="15.75" fill="none" stroke="#c8c8c8" stroke-width="0.8"/>
<rect x="126.72" y="371.55" width="16.52" height="15.75" fill="none" stroke="#c8c8c8" stroke-width="0.8"/>
<rect x="159.76" y="371.55" width="16.52" height="15.75" fill="none" stroke="#c8c8c8" stroke-width="0.8"/>
<rect x="176.28" y="371.55" width="16.52" height="15.75" fill="none" stroke="#c8c8c8" stroke-width="0.8"/>
<rect x="192.80" y="371.55" width="16.52" height="15.75" fill="none" stroke="#c8c8c8" stroke-width="0.8"/>
<rect x="44.12" y="387.30" width="16.52" height="15.75" fill="none" stroke="#c8c8c8" stroke-width="0.8"/>
<rect x="93.68" y="387.30" width="16.52" height="15.75" fill="none" stroke="#c8c8c8" stroke-width="0.8"/>
<rect x="110.20" y="387.30" width="16.52" height="15.75" fill="none" stroke="#c8c8c8" stroke-width="0.8"/>
<rect x="143.24" y="387.30" width="16.52" height="15.75" fill="none" stroke="#c8c8c8" stroke-width="0.8"/>
<rect x="27.60" y="403.05" width="16.52" height="15.75" fill="none" stroke="#c8c8c8" stroke-width="0.8"/>
<rect x="143.24" y="403.05" width="16.52" height="15.75" fill="none" stroke="#c8c8c8" stroke-width="0.8"/>
<rect x="27.60" y="434.55" width="16.52" height="15.75" fill="none" stroke="#c8c8c8" stroke-width="0.8"/>
<rect x="93.68" y="434.55" width="16.52" height="15.75" fill="none" stroke="#c8c8c8" stroke-width="0.8"/>
<rect x="126.72" y="434.55" width="16.52" height="15.75" fill="none" stroke="#c8c8c8" stroke-width="0.8"/>
<rect x="143.24" y="434.55" width="16.52" height="15.75" fill="none" stroke="#c8c8c8" stroke-width="0.8"/>
<rect x="27.60" y="450.30" width="16.52" height="15.75" fill="none" stroke="#c8c8c8" stroke-width="0.8"/>
<rect x="44.12" y="450.30" width="16.52" height="15.75" fill="none" stroke="#c8c8c8" stroke-width="0.8"/>
<rect x="77.16" y="450.30" width="16.52" height="15.75" fill="none" stroke="#c8c8c8" stroke-width="0.8"/>
<rect x="126.72" y="450.30" width="16.52" height="15.75" fill="none" stroke="#c8c8c8" stroke-width="0.8"/>
<rect x="143.24" y="450.30" width="16.52" height="15.75" fill="none" stroke="#c8c8c8" stroke-width="0.8"/>
<rect x="159.76" y="450.30" width="16.52" height="15.75" fill="none" stroke="#c8c8c8" stroke-width="0.8"/>
<rect x="192.80" y="450.30" width="16.52" height="15.75" fill="none" stroke="#c8c8c8" stroke-width="0.8"/>
<rect x="110.20" y="466.05" width="16.52" height="15.75" fill="none" stroke="#c8c8c8" stroke-width="0.8"/>
<rect x="44.12" y="481.80" width="16.52" height="15.75" fill="none" stroke="#c8c8c8" stroke-width="0.8"/>
<rect x="60.64" y="481.80" width="16.52" height="15.75" fill="none" stroke="#c8c8c8" stroke-width="0.8"/>
<rect x="77.16" y="481.80" width="16.52" height="15.75" fill="none" stroke="#c8c8c8" stroke-width="0.8"/>
<rect x="93.68" y="481.80" width="16.52" height="15.75" fill="none" stroke="#c8c8c8" stroke-width="0.8"/>
<rect x="110.20" y="481.80" width="16.52" height="15.75" fill="none" stroke="#c8c8c8" stroke-width="0.8"/>
<rect x="126.72" y="481.80" width="16.52" height="15.75" fill="none" stroke="#c8c8c8" stroke-width="0.8"/>
<rect x="143.24" y="481.80" width="16.52" height="15.75" fill="none" stroke="#c8c8c8" stroke-width="0.8"/>
<rect x="176.28" y="481.80" width="16.52" height="15.75" fill="none" stroke="#c8c8c8" stroke-width="0.8"/>
<rect x="192.80" y="481.80" width="16.52" height="15.75" fill="none" stroke="#c8c8c8" stroke-width="0.8"/>
<rect x="27.60" y="324.30" width="181.72" height="173.25" fill="none" stroke="#a6a6a6" stroke-width="0.9"/>
<text x="25.20" y="335.07" text-anchor="end" fill="#000" stroke="#000" stroke-width="0.12" transform="matrix(1 0 0 1.0 0 0.000)">Pf</text>
<text x="25.20" y="350.82" text-anchor="end" fill="#000" stroke="#000" stroke-width="0.12" transform="matrix(1 0 0 1.0 0 0.000)">Ct</text>
<text x="25.20" y="366.57" text-anchor="end" fill="#000" stroke="#000" stroke-width="0.12" transform="matrix(1 0 0 1.0 0 0.000)">At1</text>
<text x="25.20" y="382.32" text-anchor="end" fill="#000" stroke="#000" stroke-width="0.12" transform="matrix(1 0 0 1.0 0 0.000)">Kp</text>
<text x="25.20" y="398.07" text-anchor="end" fill="#000" stroke="#000" stroke-width="0.12" transform="matrix(1 0 0 1.0 0 0.000)">Pr</text>
<text x="25.20" y="413.82" text-anchor="end" fill="#000" stroke="#000" stroke-width="0.12" transform="matrix(1 0 0 1.0 0 0.000)">Ml</text>
<text x="25.20" y="429.57" text-anchor="end" fill="#000" stroke="#000" stroke-width="0.12" transform="matrix(1 0 0 1.0 0 0.000)">Sw</text>
<text x="25.20" y="445.32" text-anchor="end" fill="#000" stroke="#000" stroke-width="0.12" transform="matrix(1 0 0 1.0 0 0.000)">Ea</text>
<text x="25.20" y="461.07" text-anchor="end" fill="#000" stroke="#000" stroke-width="0.12" transform="matrix(1 0 0 1.0 0 0.000)">At2</text>
<text x="25.20" y="476.82" text-anchor="end" fill="#000" stroke="#000" stroke-width="0.12" transform="matrix(1 0 0 1.0 0 0.000)">Af</text>
<text x="25.20" y="492.57" text-anchor="end" fill="#000" stroke="#000" stroke-width="0.12" transform="matrix(1 0 0 1.0 0 0.000)">Ac</text>
<text x="36.46" y="506.75" text-anchor="middle" fill="#000" stroke="#000" stroke-width="0.12" transform="matrix(1 0 0 1.0 0 0.000)">Ac</text>
<text x="52.98" y="506.75" text-anchor="middle" fill="#000" stroke="#000" stroke-width="0.12" transform="matrix(1 0 0 1.0 0 0.000)">Af</text>
<text x="69.50" y="506.75" text-anchor="middle" fill="#000" stroke="#000" stroke-width="0.12" transform="matrix(1 0 0 1.0 0 0.000)">At2</text>
<text x="86.02" y="506.75" text-anchor="middle" fill="#000" stroke="#000" stroke-width="0.12" transform="matrix(1 0 0 1.0 0 0.000)">Ea</text>
<text x="102.54" y="506.75" text-anchor="middle" fill="#000" stroke="#000" stroke-width="0.12" transform="matrix(1 0 0 1.0 0 0.000)">Sw</text>
<text x="119.06" y="506.75" text-anchor="middle" fill="#000" stroke="#000" stroke-width="0.12" transform="matrix(1 0 0 1.0 0 0.000)">Ml</text>
<text x="135.58" y="506.75" text-anchor="middle" fill="#000" stroke="#000" stroke-width="0.12" transform="matrix(1 0 0 1.0 0 0.000)">Pr</text>
<text x="152.10" y="506.75" text-anchor="middle" fill="#000" stroke="#000" stroke-width="0.12" transform="matrix(1 0 0 1.0 0 0.000)">Kp</text>
<text x="168.62" y="506.75" text-anchor="middle" fill="#000" stroke="#000" stroke-width="0.12" transform="matrix(1 0 0 1.0 0 0.000)">At1</text>
<text x="185.14" y="506.75" text-anchor="middle" fill="#000" stroke="#000" stroke-width="0.12" transform="matrix(1 0 0 1.0 0 0.000)">Ct</text>
<text x="201.66" y="506.75" text-anchor="middle" fill="#000" stroke="#000" stroke-width="0.12" transform="matrix(1 0 0 1.0 0 0.000)">Pf</text>
<text x="114.46" y="516.95" text-anchor="middle" font-size="9.5" fill="#000" stroke="#000" stroke-width="0.12" transform="matrix(1 0 0 1.0 0 0.000)">Companion species</text>
<text x="116.50" y="322.8" text-anchor="middle" font-size="9.3" fill="#000" stroke="#000" stroke-width="0.12" transform="matrix(1 0 0 1.0 0 0.000)">Ancestral</text>
<text transform="translate(8.60,413.4) rotate(-90) scale(1,1.0)" text-anchor="middle" font-size="9.5" fill="#000" stroke="#000" stroke-width="0.12">Focal species</text>
<rect x="261.48" y="324.50" width="16.48" height="15.75" fill="#f6f5f9"/>
<rect x="261.48" y="324.50" width="16.48" height="15.75" fill="#fff" fill-opacity="0.73"/>
<rect x="261.48" y="324.50" width="16.48" height="15.75" fill="url(#hp)"/>
<rect x="343.88" y="324.50" width="16.48" height="15.75" fill="#ffffff"/>
<rect x="343.88" y="324.50" width="16.48" height="15.75" fill="#fff" fill-opacity="0.73"/>
<rect x="343.88" y="324.50" width="16.48" height="15.75" fill="url(#hp)"/>
<rect x="376.84" y="324.50" width="16.48" height="15.75" fill="#ffffff"/>
<rect x="376.84" y="324.50" width="16.48" height="15.75" fill="#fff" fill-opacity="0.73"/>
<rect x="376.84" y="324.50" width="16.48" height="15.75" fill="url(#hp)"/>
<rect x="245.00" y="340.25" width="16.48" height="15.75" fill="#f8e5e1"/>
<rect x="261.48" y="340.25" width="16.48" height="15.75" fill="#ffffff"/>
<rect x="261.48" y="340.25" width="16.48" height="15.75" fill="#fff" fill-opacity="0.73"/>
<rect x="261.48" y="340.25" width="16.48" height="15.75" fill="url(#hp)"/>
<rect x="294.44" y="340.25" width="16.48" height="15.75" fill="#fdf6f5"/>
<rect x="294.44" y="340.25" width="16.48" height="15.75" fill="#fff" fill-opacity="0.73"/>
<rect x="294.44" y="340.25" width="16.48" height="15.75" fill="url(#hp)"/>
<rect x="310.92" y="340.25" width="16.48" height="15.75" fill="#fdf6f5"/>
<rect x="310.92" y="340.25" width="16.48" height="15.75" fill="#fff" fill-opacity="0.73"/>
<rect x="310.92" y="340.25" width="16.48" height="15.75" fill="url(#hp)"/>
<rect x="327.40" y="340.25" width="16.48" height="15.75" fill="#f6f5f9"/>
<rect x="327.40" y="340.25" width="16.48" height="15.75" fill="#fff" fill-opacity="0.73"/>
<rect x="327.40" y="340.25" width="16.48" height="15.75" fill="url(#hp)"/>
<rect x="343.88" y="340.25" width="16.48" height="15.75" fill="#faeeeb"/>
<rect x="360.36" y="340.25" width="16.48" height="15.75" fill="#f6f5f9"/>
<rect x="360.36" y="340.25" width="16.48" height="15.75" fill="#fff" fill-opacity="0.73"/>
<rect x="360.36" y="340.25" width="16.48" height="15.75" fill="url(#hp)"/>
<rect x="376.84" y="340.25" width="16.48" height="15.75" fill="#f8e5e1"/>
<rect x="245.00" y="356.00" width="16.48" height="15.75" fill="#ffffff"/>
<rect x="245.00" y="356.00" width="16.48" height="15.75" fill="#fff" fill-opacity="0.73"/>
<rect x="245.00" y="356.00" width="16.48" height="15.75" fill="url(#hp)"/>
<rect x="261.48" y="356.00" width="16.48" height="15.75" fill="#faeeeb"/>
<rect x="343.88" y="356.00" width="16.48" height="15.75" fill="#fdf6f5"/>
<rect x="343.88" y="356.00" width="16.48" height="15.75" fill="#fff" fill-opacity="0.73"/>
<rect x="343.88" y="356.00" width="16.48" height="15.75" fill="url(#hp)"/>
<rect x="393.32" y="356.00" width="16.48" height="15.75" fill="#f6dcd7"/>
<rect x="409.80" y="356.00" width="16.48" height="15.75" fill="#f8e5e1"/>
<rect x="261.48" y="371.75" width="16.48" height="15.75" fill="#d86b57"/>
<rect x="327.40" y="371.75" width="16.48" height="15.75" fill="#ffffff"/>
<rect x="327.40" y="371.75" width="16.48" height="15.75" fill="#fff" fill-opacity="0.73"/>
<rect x="327.40" y="371.75" width="16.48" height="15.75" fill="url(#hp)"/>
<rect x="393.32" y="371.75" width="16.48" height="15.75" fill="#faeeeb"/>
<rect x="261.48" y="387.50" width="16.48" height="15.75" fill="#f6f5f9"/>
<rect x="261.48" y="387.50" width="16.48" height="15.75" fill="#fff" fill-opacity="0.73"/>
<rect x="261.48" y="387.50" width="16.48" height="15.75" fill="url(#hp)"/>
<rect x="376.84" y="387.50" width="16.48" height="15.75" fill="#9080b2"/>
<rect x="393.32" y="387.50" width="16.48" height="15.75" fill="#9080b2"/>
<rect x="409.80" y="387.50" width="16.48" height="15.75" fill="#a193bd"/>
<rect x="261.48" y="403.25" width="16.48" height="15.75" fill="#f8e5e1"/>
<rect x="360.36" y="403.25" width="16.48" height="15.75" fill="#f6f5f9"/>
<rect x="360.36" y="403.25" width="16.48" height="15.75" fill="#fff" fill-opacity="0.73"/>
<rect x="360.36" y="403.25" width="16.48" height="15.75" fill="url(#hp)"/>
<rect x="393.32" y="403.25" width="16.48" height="15.75" fill="#edbab0"/>
<rect x="245.00" y="419.00" width="16.48" height="15.75" fill="#ccc4db"/>
<rect x="261.48" y="419.00" width="16.48" height="15.75" fill="#f6f5f9"/>
<rect x="261.48" y="419.00" width="16.48" height="15.75" fill="#fff" fill-opacity="0.73"/>
<rect x="261.48" y="419.00" width="16.48" height="15.75" fill="url(#hp)"/>
<rect x="393.32" y="419.00" width="16.48" height="15.75" fill="#bbb1cf"/>
<rect x="245.00" y="434.75" width="16.48" height="15.75" fill="#faeeeb"/>
<rect x="245.00" y="434.75" width="16.48" height="15.75" fill="#fff" fill-opacity="0.73"/>
<rect x="245.00" y="434.75" width="16.48" height="15.75" fill="url(#hp)"/>
<rect x="261.48" y="434.75" width="16.48" height="15.75" fill="#f4d4ce"/>
<rect x="393.32" y="434.75" width="16.48" height="15.75" fill="#ccc4db"/>
<rect x="277.96" y="466.25" width="16.48" height="15.75" fill="#e5e2ed"/>
<rect x="294.44" y="466.25" width="16.48" height="15.75" fill="#eeebf3"/>
<rect x="310.92" y="466.25" width="16.48" height="15.75" fill="#eeebf3"/>
<rect x="327.40" y="466.25" width="16.48" height="15.75" fill="#ffffff"/>
<rect x="327.40" y="466.25" width="16.48" height="15.75" fill="#fff" fill-opacity="0.73"/>
<rect x="327.40" y="466.25" width="16.48" height="15.75" fill="url(#hp)"/>
<rect x="343.88" y="466.25" width="16.48" height="15.75" fill="#f6f5f9"/>
<rect x="360.36" y="466.25" width="16.48" height="15.75" fill="#ffffff"/>
<rect x="360.36" y="466.25" width="16.48" height="15.75" fill="#fff" fill-opacity="0.73"/>
<rect x="360.36" y="466.25" width="16.48" height="15.75" fill="url(#hp)"/>
<rect x="376.84" y="466.25" width="16.48" height="15.75" fill="#7f6ca6"/>
<rect x="393.32" y="466.25" width="16.48" height="15.75" fill="#b2a7c9"/>
<rect x="409.80" y="466.25" width="16.48" height="15.75" fill="#9989b7"/>
<rect x="294.44" y="482.00" width="16.48" height="15.75" fill="#d6634d"/>
<rect x="294.44" y="482.00" width="16.48" height="15.75" fill="#fff" fill-opacity="0.73"/>
<rect x="294.44" y="482.00" width="16.48" height="15.75" fill="url(#hp)"/>
<rect x="310.92" y="482.00" width="16.48" height="15.75" fill="#e8a89c"/>
<rect x="310.92" y="482.00" width="16.48" height="15.75" fill="#fff" fill-opacity="0.73"/>
<rect x="310.92" y="482.00" width="16.48" height="15.75" fill="url(#hp)"/>
<rect x="376.84" y="482.00" width="16.48" height="15.75" fill="#eeebf3"/>
<rect x="376.84" y="482.00" width="16.48" height="15.75" fill="#fff" fill-opacity="0.73"/>
<rect x="376.84" y="482.00" width="16.48" height="15.75" fill="url(#hp)"/>
<rect x="393.32" y="482.00" width="16.48" height="15.75" fill="#ffffff"/>
<rect x="393.32" y="482.00" width="16.48" height="15.75" fill="#fff" fill-opacity="0.73"/>
<rect x="393.32" y="482.00" width="16.48" height="15.75" fill="url(#hp)"/>
<text x="270.22" y="336.07" text-anchor="middle" fill="#b4b4b4" stroke="#b4b4b4" stroke-width="0.12" transform="matrix(1 0 0 1.0 0 0.000)">1</text>
<text x="352.62" y="336.07" text-anchor="middle" fill="#b4b4b4" stroke="#b4b4b4" stroke-width="0.12" transform="matrix(1 0 0 1.0 0 0.000)">0</text>
<text x="385.58" y="336.07" text-anchor="middle" fill="#b4b4b4" stroke="#b4b4b4" stroke-width="0.12" transform="matrix(1 0 0 1.0 0 0.000)">0</text>
<text x="253.74" y="351.82" text-anchor="middle" fill="#111" stroke="#111" stroke-width="0.12" transform="matrix(1 0 0 1.0 0 0.000)">-3</text>
<text x="270.22" y="351.82" text-anchor="middle" fill="#b4b4b4" stroke="#b4b4b4" stroke-width="0.12" transform="matrix(1 0 0 1.0 0 0.000)">0</text>
<text x="303.18" y="351.82" text-anchor="middle" fill="#b4b4b4" stroke="#b4b4b4" stroke-width="0.12" transform="matrix(1 0 0 1.0 0 0.000)">-1</text>
<text x="319.66" y="351.82" text-anchor="middle" fill="#b4b4b4" stroke="#b4b4b4" stroke-width="0.12" transform="matrix(1 0 0 1.0 0 0.000)">-1</text>
<text x="336.14" y="351.82" text-anchor="middle" fill="#b4b4b4" stroke="#b4b4b4" stroke-width="0.12" transform="matrix(1 0 0 1.0 0 0.000)">1</text>
<text x="352.62" y="351.82" text-anchor="middle" fill="#111" stroke="#111" stroke-width="0.12" transform="matrix(1 0 0 1.0 0 0.000)">-2</text>
<text x="369.10" y="351.82" text-anchor="middle" fill="#b4b4b4" stroke="#b4b4b4" stroke-width="0.12" transform="matrix(1 0 0 1.0 0 0.000)">1</text>
<text x="385.58" y="351.82" text-anchor="middle" fill="#111" stroke="#111" stroke-width="0.12" transform="matrix(1 0 0 1.0 0 0.000)">-3</text>
<text x="253.74" y="367.57" text-anchor="middle" fill="#b4b4b4" stroke="#b4b4b4" stroke-width="0.12" transform="matrix(1 0 0 1.0 0 0.000)">-0</text>
<text x="270.22" y="367.57" text-anchor="middle" fill="#111" stroke="#111" stroke-width="0.12" transform="matrix(1 0 0 1.0 0 0.000)">-2</text>
<text x="352.62" y="367.57" text-anchor="middle" fill="#b4b4b4" stroke="#b4b4b4" stroke-width="0.12" transform="matrix(1 0 0 1.0 0 0.000)">-1</text>
<text x="402.06" y="367.57" text-anchor="middle" fill="#111" stroke="#111" stroke-width="0.12" transform="matrix(1 0 0 1.0 0 0.000)">-4</text>
<text x="418.54" y="367.57" text-anchor="middle" fill="#111" stroke="#111" stroke-width="0.12" transform="matrix(1 0 0 1.0 0 0.000)">-3</text>
<text x="270.22" y="383.32" text-anchor="middle" fill="#111" stroke="#111" stroke-width="0.12" transform="matrix(1 0 0 1.0 0 0.000)">-17</text>
<text x="336.14" y="383.32" text-anchor="middle" fill="#b4b4b4" stroke="#b4b4b4" stroke-width="0.12" transform="matrix(1 0 0 1.0 0 0.000)">-0</text>
<text x="402.06" y="383.32" text-anchor="middle" fill="#111" stroke="#111" stroke-width="0.12" transform="matrix(1 0 0 1.0 0 0.000)">-2</text>
<text x="270.22" y="399.07" text-anchor="middle" fill="#b4b4b4" stroke="#b4b4b4" stroke-width="0.12" transform="matrix(1 0 0 1.0 0 0.000)">1</text>
<text x="385.58" y="399.07" text-anchor="middle" fill="#111" stroke="#111" stroke-width="0.12" transform="matrix(1 0 0 1.0 0 0.000)">13</text>
<text x="402.06" y="399.07" text-anchor="middle" fill="#111" stroke="#111" stroke-width="0.12" transform="matrix(1 0 0 1.0 0 0.000)">13</text>
<text x="418.54" y="399.07" text-anchor="middle" fill="#111" stroke="#111" stroke-width="0.12" transform="matrix(1 0 0 1.0 0 0.000)">11</text>
<text x="270.22" y="414.82" text-anchor="middle" fill="#111" stroke="#111" stroke-width="0.12" transform="matrix(1 0 0 1.0 0 0.000)">-3</text>
<text x="369.10" y="414.82" text-anchor="middle" fill="#b4b4b4" stroke="#b4b4b4" stroke-width="0.12" transform="matrix(1 0 0 1.0 0 0.000)">1</text>
<text x="402.06" y="414.82" text-anchor="middle" fill="#111" stroke="#111" stroke-width="0.12" transform="matrix(1 0 0 1.0 0 0.000)">-8</text>
<text x="253.74" y="430.57" text-anchor="middle" fill="#111" stroke="#111" stroke-width="0.12" transform="matrix(1 0 0 1.0 0 0.000)">6</text>
<text x="270.22" y="430.57" text-anchor="middle" fill="#b4b4b4" stroke="#b4b4b4" stroke-width="0.12" transform="matrix(1 0 0 1.0 0 0.000)">1</text>
<text x="402.06" y="430.57" text-anchor="middle" fill="#111" stroke="#111" stroke-width="0.12" transform="matrix(1 0 0 1.0 0 0.000)">8</text>
<text x="253.74" y="446.32" text-anchor="middle" fill="#b4b4b4" stroke="#b4b4b4" stroke-width="0.12" transform="matrix(1 0 0 1.0 0 0.000)">-2</text>
<text x="270.22" y="446.32" text-anchor="middle" fill="#111" stroke="#111" stroke-width="0.12" transform="matrix(1 0 0 1.0 0 0.000)">-5</text>
<text x="402.06" y="446.32" text-anchor="middle" fill="#111" stroke="#111" stroke-width="0.12" transform="matrix(1 0 0 1.0 0 0.000)">6</text>
<text x="286.70" y="477.82" text-anchor="middle" fill="#111" stroke="#111" stroke-width="0.12" transform="matrix(1 0 0 1.0 0 0.000)">3</text>
<text x="303.18" y="477.82" text-anchor="middle" fill="#111" stroke="#111" stroke-width="0.12" transform="matrix(1 0 0 1.0 0 0.000)">2</text>
<text x="319.66" y="477.82" text-anchor="middle" fill="#111" stroke="#111" stroke-width="0.12" transform="matrix(1 0 0 1.0 0 0.000)">2</text>
<text x="336.14" y="477.82" text-anchor="middle" fill="#b4b4b4" stroke="#b4b4b4" stroke-width="0.12" transform="matrix(1 0 0 1.0 0 0.000)">0</text>
<text x="352.62" y="477.82" text-anchor="middle" fill="#111" stroke="#111" stroke-width="0.12" transform="matrix(1 0 0 1.0 0 0.000)">1</text>
<text x="369.10" y="477.82" text-anchor="middle" fill="#b4b4b4" stroke="#b4b4b4" stroke-width="0.12" transform="matrix(1 0 0 1.0 0 0.000)">0</text>
<text x="385.58" y="477.82" text-anchor="middle" fill="#111" stroke="#111" stroke-width="0.12" transform="matrix(1 0 0 1.0 0 0.000)">15</text>
<text x="402.06" y="477.82" text-anchor="middle" fill="#111" stroke="#111" stroke-width="0.12" transform="matrix(1 0 0 1.0 0 0.000)">9</text>
<text x="418.54" y="477.82" text-anchor="middle" fill="#111" stroke="#111" stroke-width="0.12" transform="matrix(1 0 0 1.0 0 0.000)">12</text>
<text x="303.18" y="493.57" text-anchor="middle" fill="#b4b4b4" stroke="#b4b4b4" stroke-width="0.12" transform="matrix(1 0 0 1.0 0 0.000)">-18</text>
<text x="319.66" y="493.57" text-anchor="middle" fill="#b4b4b4" stroke="#b4b4b4" stroke-width="0.12" transform="matrix(1 0 0 1.0 0 0.000)">-10</text>
<text x="385.58" y="493.57" text-anchor="middle" fill="#b4b4b4" stroke="#b4b4b4" stroke-width="0.12" transform="matrix(1 0 0 1.0 0 0.000)">2</text>
<text x="402.06" y="493.57" text-anchor="middle" fill="#b4b4b4" stroke="#b4b4b4" stroke-width="0.12" transform="matrix(1 0 0 1.0 0 0.000)">-0</text>
<rect x="261.48" y="324.50" width="16.48" height="15.75" fill="none" stroke="#c8c8c8" stroke-width="0.8"/>
<rect x="343.88" y="324.50" width="16.48" height="15.75" fill="none" stroke="#c8c8c8" stroke-width="0.8"/>
<rect x="376.84" y="324.50" width="16.48" height="15.75" fill="none" stroke="#c8c8c8" stroke-width="0.8"/>
<rect x="261.48" y="340.25" width="16.48" height="15.75" fill="none" stroke="#c8c8c8" stroke-width="0.8"/>
<rect x="294.44" y="340.25" width="16.48" height="15.75" fill="none" stroke="#c8c8c8" stroke-width="0.8"/>
<rect x="310.92" y="340.25" width="16.48" height="15.75" fill="none" stroke="#c8c8c8" stroke-width="0.8"/>
<rect x="327.40" y="340.25" width="16.48" height="15.75" fill="none" stroke="#c8c8c8" stroke-width="0.8"/>
<rect x="360.36" y="340.25" width="16.48" height="15.75" fill="none" stroke="#c8c8c8" stroke-width="0.8"/>
<rect x="245.00" y="356.00" width="16.48" height="15.75" fill="none" stroke="#c8c8c8" stroke-width="0.8"/>
<rect x="343.88" y="356.00" width="16.48" height="15.75" fill="none" stroke="#c8c8c8" stroke-width="0.8"/>
<rect x="327.40" y="371.75" width="16.48" height="15.75" fill="none" stroke="#c8c8c8" stroke-width="0.8"/>
<rect x="261.48" y="387.50" width="16.48" height="15.75" fill="none" stroke="#c8c8c8" stroke-width="0.8"/>
<rect x="360.36" y="403.25" width="16.48" height="15.75" fill="none" stroke="#c8c8c8" stroke-width="0.8"/>
<rect x="261.48" y="419.00" width="16.48" height="15.75" fill="none" stroke="#c8c8c8" stroke-width="0.8"/>
<rect x="245.00" y="434.75" width="16.48" height="15.75" fill="none" stroke="#c8c8c8" stroke-width="0.8"/>
<rect x="327.40" y="466.25" width="16.48" height="15.75" fill="none" stroke="#c8c8c8" stroke-width="0.8"/>
<rect x="360.36" y="466.25" width="16.48" height="15.75" fill="none" stroke="#c8c8c8" stroke-width="0.8"/>
<rect x="294.44" y="482.00" width="16.48" height="15.75" fill="none" stroke="#c8c8c8" stroke-width="0.8"/>
<rect x="310.92" y="482.00" width="16.48" height="15.75" fill="none" stroke="#c8c8c8" stroke-width="0.8"/>
<rect x="376.84" y="482.00" width="16.48" height="15.75" fill="none" stroke="#c8c8c8" stroke-width="0.8"/>
<rect x="393.32" y="482.00" width="16.48" height="15.75" fill="none" stroke="#c8c8c8" stroke-width="0.8"/>
<rect x="245.00" y="324.50" width="181.28" height="173.25" fill="none" stroke="#a6a6a6" stroke-width="0.9"/>
<rect x="245.40" y="340.65" width="15.68" height="14.95" fill="none" stroke="#1a1a1a" stroke-width="1.2"/>
<rect x="377.24" y="340.65" width="15.68" height="14.95" fill="none" stroke="#1a1a1a" stroke-width="1.2"/>
<rect x="344.28" y="356.40" width="15.68" height="14.95" fill="none" stroke="#1a1a1a" stroke-width="1.2"/>
<rect x="393.72" y="372.15" width="15.68" height="14.95" fill="none" stroke="#1a1a1a" stroke-width="1.2"/>
<rect x="261.88" y="419.40" width="15.68" height="14.95" fill="none" stroke="#1a1a1a" stroke-width="1.2"/>
<rect x="360.76" y="466.65" width="15.68" height="14.95" fill="none" stroke="#1a1a1a" stroke-width="1.2"/>
<rect x="377.24" y="482.40" width="15.68" height="14.95" fill="none" stroke="#1a1a1a" stroke-width="1.2"/>
<text x="242.60" y="335.27" text-anchor="end" fill="#000" stroke="#000" stroke-width="0.12" transform="matrix(1 0 0 1.0 0 0.000)">Pf</text>
<text x="242.60" y="351.02" text-anchor="end" fill="#000" stroke="#000" stroke-width="0.12" transform="matrix(1 0 0 1.0 0 0.000)">Ct</text>
<text x="242.60" y="366.77" text-anchor="end" fill="#000" stroke="#000" stroke-width="0.12" transform="matrix(1 0 0 1.0 0 0.000)">At1</text>
<text x="242.60" y="382.52" text-anchor="end" fill="#000" stroke="#000" stroke-width="0.12" transform="matrix(1 0 0 1.0 0 0.000)">Kp</text>
<text x="242.60" y="398.27" text-anchor="end" fill="#000" stroke="#000" stroke-width="0.12" transform="matrix(1 0 0 1.0 0 0.000)">Pr</text>
<text x="242.60" y="414.02" text-anchor="end" fill="#000" stroke="#000" stroke-width="0.12" transform="matrix(1 0 0 1.0 0 0.000)">Ml</text>
<text x="242.60" y="429.77" text-anchor="end" fill="#000" stroke="#000" stroke-width="0.12" transform="matrix(1 0 0 1.0 0 0.000)">Sw</text>
<text x="242.60" y="445.52" text-anchor="end" fill="#000" stroke="#000" stroke-width="0.12" transform="matrix(1 0 0 1.0 0 0.000)">Ea</text>
<text x="242.60" y="461.27" text-anchor="end" fill="#000" stroke="#000" stroke-width="0.12" transform="matrix(1 0 0 1.0 0 0.000)">At2</text>
<text x="242.60" y="477.02" text-anchor="end" fill="#000" stroke="#000" stroke-width="0.12" transform="matrix(1 0 0 1.0 0 0.000)">Af</text>
<text x="242.60" y="492.77" text-anchor="end" fill="#000" stroke="#000" stroke-width="0.12" transform="matrix(1 0 0 1.0 0 0.000)">Ac</text>
<text x="253.84" y="506.95" text-anchor="middle" fill="#000" stroke="#000" stroke-width="0.12" transform="matrix(1 0 0 1.0 0 0.000)">Ac</text>
<text x="270.32" y="506.95" text-anchor="middle" fill="#000" stroke="#000" stroke-width="0.12" transform="matrix(1 0 0 1.0 0 0.000)">Af</text>
<text x="286.80" y="506.95" text-anchor="middle" fill="#000" stroke="#000" stroke-width="0.12" transform="matrix(1 0 0 1.0 0 0.000)">At2</text>
<text x="303.28" y="506.95" text-anchor="middle" fill="#000" stroke="#000" stroke-width="0.12" transform="matrix(1 0 0 1.0 0 0.000)">Ea</text>
<text x="319.76" y="506.95" text-anchor="middle" fill="#000" stroke="#000" stroke-width="0.12" transform="matrix(1 0 0 1.0 0 0.000)">Sw</text>
<text x="336.24" y="506.95" text-anchor="middle" fill="#000" stroke="#000" stroke-width="0.12" transform="matrix(1 0 0 1.0 0 0.000)">Ml</text>
<text x="352.72" y="506.95" text-anchor="middle" fill="#000" stroke="#000" stroke-width="0.12" transform="matrix(1 0 0 1.0 0 0.000)">Pr</text>
<text x="369.20" y="506.95" text-anchor="middle" fill="#000" stroke="#000" stroke-width="0.12" transform="matrix(1 0 0 1.0 0 0.000)">Kp</text>
<text x="385.68" y="506.95" text-anchor="middle" fill="#000" stroke="#000" stroke-width="0.12" transform="matrix(1 0 0 1.0 0 0.000)">At1</text>
<text x="402.16" y="506.95" text-anchor="middle" fill="#000" stroke="#000" stroke-width="0.12" transform="matrix(1 0 0 1.0 0 0.000)">Ct</text>
<text x="418.64" y="506.95" text-anchor="middle" fill="#000" stroke="#000" stroke-width="0.12" transform="matrix(1 0 0 1.0 0 0.000)">Pf</text>
<text x="331.64" y="517.15" text-anchor="middle" font-size="9.5" fill="#000" stroke="#000" stroke-width="0.12" transform="matrix(1 0 0 1.0 0 0.000)">Companion species</text>
<text x="331.50" y="322.8" text-anchor="middle" font-size="9.3" fill="#000" stroke="#000" stroke-width="0.12" transform="matrix(1 0 0 1.0 0 0.000)">Random</text>
<text transform="translate(228.40,413.4) rotate(-90) scale(1,1.0)" text-anchor="middle" font-size="9.5" fill="#000" stroke="#000" stroke-width="0.12">Focal species</text>
<rect x="478.12" y="324.50" width="16.52" height="15.75" fill="#fdf6f5"/>
<rect x="478.12" y="324.50" width="16.52" height="15.75" fill="#fff" fill-opacity="0.73"/>
<rect x="478.12" y="324.50" width="16.52" height="15.75" fill="url(#hp)"/>
<rect x="560.72" y="324.50" width="16.52" height="15.75" fill="#f8e5e1"/>
<rect x="560.72" y="324.50" width="16.52" height="15.75" fill="#fff" fill-opacity="0.73"/>
<rect x="560.72" y="324.50" width="16.52" height="15.75" fill="url(#hp)"/>
<rect x="593.76" y="324.50" width="16.52" height="15.75" fill="#fdf6f5"/>
<rect x="593.76" y="324.50" width="16.52" height="15.75" fill="#fff" fill-opacity="0.73"/>
<rect x="593.76" y="324.50" width="16.52" height="15.75" fill="url(#hp)"/>
<rect x="461.60" y="340.25" width="16.52" height="15.75" fill="#fdf6f5"/>
<rect x="461.60" y="340.25" width="16.52" height="15.75" fill="#fff" fill-opacity="0.73"/>
<rect x="461.60" y="340.25" width="16.52" height="15.75" fill="url(#hp)"/>
<rect x="478.12" y="340.25" width="16.52" height="15.75" fill="#f6f5f9"/>
<rect x="478.12" y="340.25" width="16.52" height="15.75" fill="#fff" fill-opacity="0.73"/>
<rect x="478.12" y="340.25" width="16.52" height="15.75" fill="url(#hp)"/>
<rect x="511.16" y="340.25" width="16.52" height="15.75" fill="#ffffff"/>
<rect x="511.16" y="340.25" width="16.52" height="15.75" fill="#fff" fill-opacity="0.73"/>
<rect x="511.16" y="340.25" width="16.52" height="15.75" fill="url(#hp)"/>
<rect x="527.68" y="340.25" width="16.52" height="15.75" fill="#ffffff"/>
<rect x="527.68" y="340.25" width="16.52" height="15.75" fill="#fff" fill-opacity="0.73"/>
<rect x="527.68" y="340.25" width="16.52" height="15.75" fill="url(#hp)"/>
<rect x="544.20" y="340.25" width="16.52" height="15.75" fill="#ffffff"/>
<rect x="544.20" y="340.25" width="16.52" height="15.75" fill="#fff" fill-opacity="0.73"/>
<rect x="544.20" y="340.25" width="16.52" height="15.75" fill="url(#hp)"/>
<rect x="560.72" y="340.25" width="16.52" height="15.75" fill="#ffffff"/>
<rect x="560.72" y="340.25" width="16.52" height="15.75" fill="#fff" fill-opacity="0.73"/>
<rect x="560.72" y="340.25" width="16.52" height="15.75" fill="url(#hp)"/>
<rect x="577.24" y="340.25" width="16.52" height="15.75" fill="#f6f5f9"/>
<rect x="577.24" y="340.25" width="16.52" height="15.75" fill="#fff" fill-opacity="0.73"/>
<rect x="577.24" y="340.25" width="16.52" height="15.75" fill="url(#hp)"/>
<rect x="593.76" y="340.25" width="16.52" height="15.75" fill="#fdf6f5"/>
<rect x="593.76" y="340.25" width="16.52" height="15.75" fill="#fff" fill-opacity="0.73"/>
<rect x="593.76" y="340.25" width="16.52" height="15.75" fill="url(#hp)"/>
<rect x="461.60" y="356.00" width="16.52" height="15.75" fill="#fdf6f5"/>
<rect x="461.60" y="356.00" width="16.52" height="15.75" fill="#fff" fill-opacity="0.73"/>
<rect x="461.60" y="356.00" width="16.52" height="15.75" fill="url(#hp)"/>
<rect x="478.12" y="356.00" width="16.52" height="15.75" fill="#ffffff"/>
<rect x="478.12" y="356.00" width="16.52" height="15.75" fill="#fff" fill-opacity="0.73"/>
<rect x="478.12" y="356.00" width="16.52" height="15.75" fill="url(#hp)"/>
<rect x="560.72" y="356.00" width="16.52" height="15.75" fill="#fdf6f5"/>
<rect x="610.28" y="356.00" width="16.52" height="15.75" fill="#f8e5e1"/>
<rect x="626.80" y="356.00" width="16.52" height="15.75" fill="#f4d4ce"/>
<rect x="478.12" y="371.75" width="16.52" height="15.75" fill="#efc2ba"/>
<rect x="544.20" y="371.75" width="16.52" height="15.75" fill="#fdf6f5"/>
<rect x="544.20" y="371.75" width="16.52" height="15.75" fill="#fff" fill-opacity="0.73"/>
<rect x="544.20" y="371.75" width="16.52" height="15.75" fill="url(#hp)"/>
<rect x="610.28" y="371.75" width="16.52" height="15.75" fill="#faeeeb"/>
<rect x="478.12" y="387.50" width="16.52" height="15.75" fill="#ffffff"/>
<rect x="478.12" y="387.50" width="16.52" height="15.75" fill="#fff" fill-opacity="0.73"/>
<rect x="478.12" y="387.50" width="16.52" height="15.75" fill="url(#hp)"/>
<rect x="593.76" y="387.50" width="16.52" height="15.75" fill="#9989b7"/>
<rect x="610.28" y="387.50" width="16.52" height="15.75" fill="#9989b7"/>
<rect x="626.80" y="387.50" width="16.52" height="15.75" fill="#aa9dc3"/>
<rect x="478.12" y="403.25" width="16.52" height="15.75" fill="#f8e5e1"/>
<rect x="577.24" y="403.25" width="16.52" height="15.75" fill="#eeebf3"/>
<rect x="577.24" y="403.25" width="16.52" height="15.75" fill="#fff" fill-opacity="0.73"/>
<rect x="577.24" y="403.25" width="16.52" height="15.75" fill="url(#hp)"/>
<rect x="610.28" y="403.25" width="16.52" height="15.75" fill="#f6dcd7"/>
<rect x="461.60" y="419.00" width="16.52" height="15.75" fill="#e5e2ed"/>
<rect x="478.12" y="419.00" width="16.52" height="15.75" fill="#f8e5e1"/>
<rect x="478.12" y="419.00" width="16.52" height="15.75" fill="#fff" fill-opacity="0.73"/>
<rect x="478.12" y="419.00" width="16.52" height="15.75" fill="url(#hp)"/>
<rect x="610.28" y="419.00" width="16.52" height="15.75" fill="#ffffff"/>
<rect x="610.28" y="419.00" width="16.52" height="15.75" fill="#fff" fill-opacity="0.73"/>
<rect x="610.28" y="419.00" width="16.52" height="15.75" fill="url(#hp)"/>
<rect x="461.60" y="434.75" width="16.52" height="15.75" fill="#faeeeb"/>
<rect x="461.60" y="434.75" width="16.52" height="15.75" fill="#fff" fill-opacity="0.73"/>
<rect x="461.60" y="434.75" width="16.52" height="15.75" fill="url(#hp)"/>
<rect x="478.12" y="434.75" width="16.52" height="15.75" fill="#f4d4ce"/>
<rect x="610.28" y="434.75" width="16.52" height="15.75" fill="#d4cee1"/>
<rect x="461.60" y="466.25" width="16.52" height="15.75" fill="#ffffff"/>
<rect x="461.60" y="466.25" width="16.52" height="15.75" fill="#fff" fill-opacity="0.73"/>
<rect x="461.60" y="466.25" width="16.52" height="15.75" fill="url(#hp)"/>
<rect x="494.64" y="466.25" width="16.52" height="15.75" fill="#e5e2ed"/>
<rect x="511.16" y="466.25" width="16.52" height="15.75" fill="#eeebf3"/>
<rect x="527.68" y="466.25" width="16.52" height="15.75" fill="#eeebf3"/>
<rect x="544.20" y="466.25" width="16.52" height="15.75" fill="#ffffff"/>
<rect x="544.20" y="466.25" width="16.52" height="15.75" fill="#fff" fill-opacity="0.73"/>
<rect x="544.20" y="466.25" width="16.52" height="15.75" fill="url(#hp)"/>
<rect x="560.72" y="466.25" width="16.52" height="15.75" fill="#eeebf3"/>
<rect x="577.24" y="466.25" width="16.52" height="15.75" fill="#eeebf3"/>
<rect x="593.76" y="466.25" width="16.52" height="15.75" fill="#aa9dc3"/>
<rect x="610.28" y="466.25" width="16.52" height="15.75" fill="#aa9dc3"/>
<rect x="626.80" y="466.25" width="16.52" height="15.75" fill="#aa9dc3"/>
<rect x="478.12" y="482.00" width="16.52" height="15.75" fill="#e6a092"/>
<rect x="478.12" y="482.00" width="16.52" height="15.75" fill="#fff" fill-opacity="0.73"/>
<rect x="478.12" y="482.00" width="16.52" height="15.75" fill="url(#hp)"/>
<rect x="511.16" y="482.00" width="16.52" height="15.75" fill="#cb371c"/>
<rect x="511.16" y="482.00" width="16.52" height="15.75" fill="#fff" fill-opacity="0.73"/>
<rect x="511.16" y="482.00" width="16.52" height="15.75" fill="url(#hp)"/>
<rect x="527.68" y="482.00" width="16.52" height="15.75" fill="#edbab0"/>
<rect x="527.68" y="482.00" width="16.52" height="15.75" fill="#fff" fill-opacity="0.73"/>
<rect x="527.68" y="482.00" width="16.52" height="15.75" fill="url(#hp)"/>
<rect x="593.76" y="482.00" width="16.52" height="15.75" fill="#f6f5f9"/>
<rect x="593.76" y="482.00" width="16.52" height="15.75" fill="#fff" fill-opacity="0.73"/>
<rect x="593.76" y="482.00" width="16.52" height="15.75" fill="url(#hp)"/>
<rect x="610.28" y="482.00" width="16.52" height="15.75" fill="#ddd8e7"/>
<text x="486.88" y="336.07" text-anchor="middle" fill="#b4b4b4" stroke="#b4b4b4" stroke-width="0.12" transform="matrix(1 0 0 1.0 0 0.000)">-1</text>
<text x="569.48" y="336.07" text-anchor="middle" fill="#b4b4b4" stroke="#b4b4b4" stroke-width="0.12" transform="matrix(1 0 0 1.0 0 0.000)">-3</text>
<text x="602.52" y="336.07" text-anchor="middle" fill="#b4b4b4" stroke="#b4b4b4" stroke-width="0.12" transform="matrix(1 0 0 1.0 0 0.000)">-1</text>
<text x="470.36" y="351.82" text-anchor="middle" fill="#b4b4b4" stroke="#b4b4b4" stroke-width="0.12" transform="matrix(1 0 0 1.0 0 0.000)">-1</text>
<text x="486.88" y="351.82" text-anchor="middle" fill="#b4b4b4" stroke="#b4b4b4" stroke-width="0.12" transform="matrix(1 0 0 1.0 0 0.000)">1</text>
<text x="519.92" y="351.82" text-anchor="middle" fill="#b4b4b4" stroke="#b4b4b4" stroke-width="0.12" transform="matrix(1 0 0 1.0 0 0.000)">-0</text>
<text x="536.44" y="351.82" text-anchor="middle" fill="#b4b4b4" stroke="#b4b4b4" stroke-width="0.12" transform="matrix(1 0 0 1.0 0 0.000)">-0</text>
<text x="552.96" y="351.82" text-anchor="middle" fill="#b4b4b4" stroke="#b4b4b4" stroke-width="0.12" transform="matrix(1 0 0 1.0 0 0.000)">-0</text>
<text x="569.48" y="351.82" text-anchor="middle" fill="#b4b4b4" stroke="#b4b4b4" stroke-width="0.12" transform="matrix(1 0 0 1.0 0 0.000)">-0</text>
<text x="586.00" y="351.82" text-anchor="middle" fill="#b4b4b4" stroke="#b4b4b4" stroke-width="0.12" transform="matrix(1 0 0 1.0 0 0.000)">1</text>
<text x="602.52" y="351.82" text-anchor="middle" fill="#b4b4b4" stroke="#b4b4b4" stroke-width="0.12" transform="matrix(1 0 0 1.0 0 0.000)">-1</text>
<text x="470.36" y="367.57" text-anchor="middle" fill="#b4b4b4" stroke="#b4b4b4" stroke-width="0.12" transform="matrix(1 0 0 1.0 0 0.000)">-1</text>
<text x="486.88" y="367.57" text-anchor="middle" fill="#b4b4b4" stroke="#b4b4b4" stroke-width="0.12" transform="matrix(1 0 0 1.0 0 0.000)">0</text>
<text x="569.48" y="367.57" text-anchor="middle" fill="#111" stroke="#111" stroke-width="0.12" transform="matrix(1 0 0 1.0 0 0.000)">-1</text>
<text x="619.04" y="367.57" text-anchor="middle" fill="#111" stroke="#111" stroke-width="0.12" transform="matrix(1 0 0 1.0 0 0.000)">-3</text>
<text x="635.56" y="367.57" text-anchor="middle" fill="#111" stroke="#111" stroke-width="0.12" transform="matrix(1 0 0 1.0 0 0.000)">-5</text>
<text x="486.88" y="383.32" text-anchor="middle" fill="#111" stroke="#111" stroke-width="0.12" transform="matrix(1 0 0 1.0 0 0.000)">-7</text>
<text x="552.96" y="383.32" text-anchor="middle" fill="#b4b4b4" stroke="#b4b4b4" stroke-width="0.12" transform="matrix(1 0 0 1.0 0 0.000)">-1</text>
<text x="619.04" y="383.32" text-anchor="middle" fill="#111" stroke="#111" stroke-width="0.12" transform="matrix(1 0 0 1.0 0 0.000)">-2</text>
<text x="486.88" y="399.07" text-anchor="middle" fill="#b4b4b4" stroke="#b4b4b4" stroke-width="0.12" transform="matrix(1 0 0 1.0 0 0.000)">0</text>
<text x="602.52" y="399.07" text-anchor="middle" fill="#111" stroke="#111" stroke-width="0.12" transform="matrix(1 0 0 1.0 0 0.000)">12</text>
<text x="619.04" y="399.07" text-anchor="middle" fill="#111" stroke="#111" stroke-width="0.12" transform="matrix(1 0 0 1.0 0 0.000)">12</text>
<text x="635.56" y="399.07" text-anchor="middle" fill="#111" stroke="#111" stroke-width="0.12" transform="matrix(1 0 0 1.0 0 0.000)">10</text>
<text x="486.88" y="414.82" text-anchor="middle" fill="#111" stroke="#111" stroke-width="0.12" transform="matrix(1 0 0 1.0 0 0.000)">-3</text>
<text x="586.00" y="414.82" text-anchor="middle" fill="#b4b4b4" stroke="#b4b4b4" stroke-width="0.12" transform="matrix(1 0 0 1.0 0 0.000)">2</text>
<text x="619.04" y="414.82" text-anchor="middle" fill="#111" stroke="#111" stroke-width="0.12" transform="matrix(1 0 0 1.0 0 0.000)">-4</text>
<text x="470.36" y="430.57" text-anchor="middle" fill="#111" stroke="#111" stroke-width="0.12" transform="matrix(1 0 0 1.0 0 0.000)">3</text>
<text x="486.88" y="430.57" text-anchor="middle" fill="#b4b4b4" stroke="#b4b4b4" stroke-width="0.12" transform="matrix(1 0 0 1.0 0 0.000)">-3</text>
<text x="619.04" y="430.57" text-anchor="middle" fill="#b4b4b4" stroke="#b4b4b4" stroke-width="0.12" transform="matrix(1 0 0 1.0 0 0.000)">-0</text>
<text x="470.36" y="446.32" text-anchor="middle" fill="#b4b4b4" stroke="#b4b4b4" stroke-width="0.12" transform="matrix(1 0 0 1.0 0 0.000)">-2</text>
<text x="486.88" y="446.32" text-anchor="middle" fill="#111" stroke="#111" stroke-width="0.12" transform="matrix(1 0 0 1.0 0 0.000)">-5</text>
<text x="619.04" y="446.32" text-anchor="middle" fill="#111" stroke="#111" stroke-width="0.12" transform="matrix(1 0 0 1.0 0 0.000)">5</text>
<text x="470.36" y="477.82" text-anchor="middle" fill="#b4b4b4" stroke="#b4b4b4" stroke-width="0.12" transform="matrix(1 0 0 1.0 0 0.000)">-0</text>
<text x="503.40" y="477.82" text-anchor="middle" fill="#111" stroke="#111" stroke-width="0.12" transform="matrix(1 0 0 1.0 0 0.000)">3</text>
<text x="519.92" y="477.82" text-anchor="middle" fill="#111" stroke="#111" stroke-width="0.12" transform="matrix(1 0 0 1.0 0 0.000)">2</text>
<text x="536.44" y="477.82" text-anchor="middle" fill="#111" stroke="#111" stroke-width="0.12" transform="matrix(1 0 0 1.0 0 0.000)">2</text>
<text x="552.96" y="477.82" text-anchor="middle" fill="#b4b4b4" stroke="#b4b4b4" stroke-width="0.12" transform="matrix(1 0 0 1.0 0 0.000)">-0</text>
<text x="569.48" y="477.82" text-anchor="middle" fill="#111" stroke="#111" stroke-width="0.12" transform="matrix(1 0 0 1.0 0 0.000)">2</text>
<text x="586.00" y="477.82" text-anchor="middle" fill="#111" stroke="#111" stroke-width="0.12" transform="matrix(1 0 0 1.0 0 0.000)">2</text>
<text x="602.52" y="477.82" text-anchor="middle" fill="#111" stroke="#111" stroke-width="0.12" transform="matrix(1 0 0 1.0 0 0.000)">10</text>
<text x="619.04" y="477.82" text-anchor="middle" fill="#111" stroke="#111" stroke-width="0.12" transform="matrix(1 0 0 1.0 0 0.000)">10</text>
<text x="635.56" y="477.82" text-anchor="middle" fill="#111" stroke="#111" stroke-width="0.12" transform="matrix(1 0 0 1.0 0 0.000)">10</text>
<text x="486.88" y="493.57" text-anchor="middle" fill="#b4b4b4" stroke="#b4b4b4" stroke-width="0.12" transform="matrix(1 0 0 1.0 0 0.000)">-11</text>
<text x="519.92" y="493.57" text-anchor="middle" fill="#f4f4f4" stroke="#f4f4f4" stroke-width="0.12" transform="matrix(1 0 0 1.0 0 0.000)">-23</text>
<text x="536.44" y="493.57" text-anchor="middle" fill="#b4b4b4" stroke="#b4b4b4" stroke-width="0.12" transform="matrix(1 0 0 1.0 0 0.000)">-8</text>
<text x="602.52" y="493.57" text-anchor="middle" fill="#b4b4b4" stroke="#b4b4b4" stroke-width="0.12" transform="matrix(1 0 0 1.0 0 0.000)">1</text>
<text x="619.04" y="493.57" text-anchor="middle" fill="#111" stroke="#111" stroke-width="0.12" transform="matrix(1 0 0 1.0 0 0.000)">4</text>
<rect x="478.12" y="324.50" width="16.52" height="15.75" fill="none" stroke="#c8c8c8" stroke-width="0.8"/>
<rect x="560.72" y="324.50" width="16.52" height="15.75" fill="none" stroke="#c8c8c8" stroke-width="0.8"/>
<rect x="593.76" y="324.50" width="16.52" height="15.75" fill="none" stroke="#c8c8c8" stroke-width="0.8"/>
<rect x="461.60" y="340.25" width="16.52" height="15.75" fill="none" stroke="#c8c8c8" stroke-width="0.8"/>
<rect x="478.12" y="340.25" width="16.52" height="15.75" fill="none" stroke="#c8c8c8" stroke-width="0.8"/>
<rect x="511.16" y="340.25" width="16.52" height="15.75" fill="none" stroke="#c8c8c8" stroke-width="0.8"/>
<rect x="527.68" y="340.25" width="16.52" height="15.75" fill="none" stroke="#c8c8c8" stroke-width="0.8"/>
<rect x="544.20" y="340.25" width="16.52" height="15.75" fill="none" stroke="#c8c8c8" stroke-width="0.8"/>
<rect x="560.72" y="340.25" width="16.52" height="15.75" fill="none" stroke="#c8c8c8" stroke-width="0.8"/>
<rect x="577.24" y="340.25" width="16.52" height="15.75" fill="none" stroke="#c8c8c8" stroke-width="0.8"/>
<rect x="593.76" y="340.25" width="16.52" height="15.75" fill="none" stroke="#c8c8c8" stroke-width="0.8"/>
<rect x="461.60" y="356.00" width="16.52" height="15.75" fill="none" stroke="#c8c8c8" stroke-width="0.8"/>
<rect x="478.12" y="356.00" width="16.52" height="15.75" fill="none" stroke="#c8c8c8" stroke-width="0.8"/>
<rect x="544.20" y="371.75" width="16.52" height="15.75" fill="none" stroke="#c8c8c8" stroke-width="0.8"/>
<rect x="478.12" y="387.50" width="16.52" height="15.75" fill="none" stroke="#c8c8c8" stroke-width="0.8"/>
<rect x="577.24" y="403.25" width="16.52" height="15.75" fill="none" stroke="#c8c8c8" stroke-width="0.8"/>
<rect x="478.12" y="419.00" width="16.52" height="15.75" fill="none" stroke="#c8c8c8" stroke-width="0.8"/>
<rect x="610.28" y="419.00" width="16.52" height="15.75" fill="none" stroke="#c8c8c8" stroke-width="0.8"/>
<rect x="461.60" y="434.75" width="16.52" height="15.75" fill="none" stroke="#c8c8c8" stroke-width="0.8"/>
<rect x="461.60" y="466.25" width="16.52" height="15.75" fill="none" stroke="#c8c8c8" stroke-width="0.8"/>
<rect x="544.20" y="466.25" width="16.52" height="15.75" fill="none" stroke="#c8c8c8" stroke-width="0.8"/>
<rect x="478.12" y="482.00" width="16.52" height="15.75" fill="none" stroke="#c8c8c8" stroke-width="0.8"/>
<rect x="511.16" y="482.00" width="16.52" height="15.75" fill="none" stroke="#c8c8c8" stroke-width="0.8"/>
<rect x="527.68" y="482.00" width="16.52" height="15.75" fill="none" stroke="#c8c8c8" stroke-width="0.8"/>
<rect x="593.76" y="482.00" width="16.52" height="15.75" fill="none" stroke="#c8c8c8" stroke-width="0.8"/>
<rect x="461.60" y="324.50" width="181.72" height="173.25" fill="none" stroke="#a6a6a6" stroke-width="0.9"/>
<rect x="561.12" y="340.65" width="15.72" height="14.95" fill="none" stroke="#1a1a1a" stroke-width="1.2"/>
<rect x="478.52" y="356.40" width="15.72" height="14.95" fill="none" stroke="#1a1a1a" stroke-width="1.2"/>
<rect x="610.68" y="372.15" width="15.72" height="14.95" fill="none" stroke="#1a1a1a" stroke-width="1.2"/>
<rect x="478.52" y="419.40" width="15.72" height="14.95" fill="none" stroke="#1a1a1a" stroke-width="1.2"/>
<rect x="610.68" y="419.40" width="15.72" height="14.95" fill="none" stroke="#1a1a1a" stroke-width="1.2"/>
<rect x="462.00" y="466.65" width="15.72" height="14.95" fill="none" stroke="#1a1a1a" stroke-width="1.2"/>
<text x="459.20" y="335.27" text-anchor="end" fill="#000" stroke="#000" stroke-width="0.12" transform="matrix(1 0 0 1.0 0 0.000)">Pf</text>
<text x="459.20" y="351.02" text-anchor="end" fill="#000" stroke="#000" stroke-width="0.12" transform="matrix(1 0 0 1.0 0 0.000)">Ct</text>
<text x="459.20" y="366.77" text-anchor="end" fill="#000" stroke="#000" stroke-width="0.12" transform="matrix(1 0 0 1.0 0 0.000)">At1</text>
<text x="459.20" y="382.52" text-anchor="end" fill="#000" stroke="#000" stroke-width="0.12" transform="matrix(1 0 0 1.0 0 0.000)">Kp</text>
<text x="459.20" y="398.27" text-anchor="end" fill="#000" stroke="#000" stroke-width="0.12" transform="matrix(1 0 0 1.0 0 0.000)">Pr</text>
<text x="459.20" y="414.02" text-anchor="end" fill="#000" stroke="#000" stroke-width="0.12" transform="matrix(1 0 0 1.0 0 0.000)">Ml</text>
<text x="459.20" y="429.77" text-anchor="end" fill="#000" stroke="#000" stroke-width="0.12" transform="matrix(1 0 0 1.0 0 0.000)">Sw</text>
<text x="459.20" y="445.52" text-anchor="end" fill="#000" stroke="#000" stroke-width="0.12" transform="matrix(1 0 0 1.0 0 0.000)">Ea</text>
<text x="459.20" y="461.27" text-anchor="end" fill="#000" stroke="#000" stroke-width="0.12" transform="matrix(1 0 0 1.0 0 0.000)">At2</text>
<text x="459.20" y="477.02" text-anchor="end" fill="#000" stroke="#000" stroke-width="0.12" transform="matrix(1 0 0 1.0 0 0.000)">Af</text>
<text x="459.20" y="492.77" text-anchor="end" fill="#000" stroke="#000" stroke-width="0.12" transform="matrix(1 0 0 1.0 0 0.000)">Ac</text>
<text x="470.46" y="506.95" text-anchor="middle" fill="#000" stroke="#000" stroke-width="0.12" transform="matrix(1 0 0 1.0 0 0.000)">Ac</text>
<text x="486.98" y="506.95" text-anchor="middle" fill="#000" stroke="#000" stroke-width="0.12" transform="matrix(1 0 0 1.0 0 0.000)">Af</text>
<text x="503.50" y="506.95" text-anchor="middle" fill="#000" stroke="#000" stroke-width="0.12" transform="matrix(1 0 0 1.0 0 0.000)">At2</text>
<text x="520.02" y="506.95" text-anchor="middle" fill="#000" stroke="#000" stroke-width="0.12" transform="matrix(1 0 0 1.0 0 0.000)">Ea</text>
<text x="536.54" y="506.95" text-anchor="middle" fill="#000" stroke="#000" stroke-width="0.12" transform="matrix(1 0 0 1.0 0 0.000)">Sw</text>
<text x="553.06" y="506.95" text-anchor="middle" fill="#000" stroke="#000" stroke-width="0.12" transform="matrix(1 0 0 1.0 0 0.000)">Ml</text>
<text x="569.58" y="506.95" text-anchor="middle" fill="#000" stroke="#000" stroke-width="0.12" transform="matrix(1 0 0 1.0 0 0.000)">Pr</text>
<text x="586.10" y="506.95" text-anchor="middle" fill="#000" stroke="#000" stroke-width="0.12" transform="matrix(1 0 0 1.0 0 0.000)">Kp</text>
<text x="602.62" y="506.95" text-anchor="middle" fill="#000" stroke="#000" stroke-width="0.12" transform="matrix(1 0 0 1.0 0 0.000)">At1</text>
<text x="619.14" y="506.95" text-anchor="middle" fill="#000" stroke="#000" stroke-width="0.12" transform="matrix(1 0 0 1.0 0 0.000)">Ct</text>
<text x="635.66" y="506.95" text-anchor="middle" fill="#000" stroke="#000" stroke-width="0.12" transform="matrix(1 0 0 1.0 0 0.000)">Pf</text>
<text x="548.46" y="517.15" text-anchor="middle" font-size="9.5" fill="#000" stroke="#000" stroke-width="0.12" transform="matrix(1 0 0 1.0 0 0.000)">Companion species</text>
<text x="559.60" y="322.8" text-anchor="middle" font-size="9.3" fill="#000" stroke="#000" stroke-width="0.12" transform="matrix(1 0 0 1.0 0 0.000)">Selected</text>
<text transform="translate(445.40,413.4) rotate(-90) scale(1,1.0)" text-anchor="middle" font-size="9.5" fill="#000" stroke="#000" stroke-width="0.12">Focal species</text>
</g>
<defs><linearGradient id="cb" x1="0" y1="0" x2="0" y2="1">
<stop offset="0.00" stop-color="#2a0a6a"/>
<stop offset="0.10" stop-color="#553b88"/>
<stop offset="0.20" stop-color="#7f6ca6"/>
<stop offset="0.30" stop-color="#aa9dc3"/>
<stop offset="0.40" stop-color="#d4cee1"/>
<stop offset="0.50" stop-color="#ffffff"/>
<stop offset="0.60" stop-color="#f4d4ce"/>
<stop offset="0.70" stop-color="#e8a89c"/>
<stop offset="0.80" stop-color="#dd7d6b"/>
<stop offset="0.90" stop-color="#d15139"/>
<stop offset="1.00" stop-color="#c62608"/>
</linearGradient></defs>
<g font-size="8" fill="#333" stroke="#333" stroke-width="0.12">
<text x="648.5" y="318.4" transform="matrix(1 0 0 1.0 0 0.000)">Mean</text><text x="648.5" y="326.8" transform="matrix(1 0 0 1.0 0 0.000)">interaction</text><text x="648.5" y="335.2" transform="matrix(1 0 0 1.0 0 0.000)">strength</text>
<rect x="647.8" y="343" width="11.6" height="74.4" fill="url(#cb)" stroke="none"/>
<line x1="657.6" y1="343.00" x2="659.6" y2="343.00" stroke="#553b88" stroke-width="0.8"/>
<text x="675.6" y="345.90" text-anchor="end" transform="matrix(1 0 0 1.0 0 0.000)">25</text>
<line x1="657.6" y1="357.88" x2="659.6" y2="357.88" stroke="#9989b7" stroke-width="0.8"/>
<text x="675.6" y="360.78" text-anchor="end" transform="matrix(1 0 0 1.0 0 0.000)">15</text>
<line x1="657.6" y1="372.76" x2="659.6" y2="372.76" stroke="#ddd8e7" stroke-width="0.8"/>
<text x="675.6" y="375.66" text-anchor="end" transform="matrix(1 0 0 1.0 0 0.000)">5</text>
<line x1="657.6" y1="387.64" x2="659.6" y2="387.64" stroke="#f6dcd7" stroke-width="0.8"/>
<text x="675.6" y="390.54" text-anchor="end" transform="matrix(1 0 0 1.0 0 0.000)">-5</text>
<line x1="657.6" y1="402.52" x2="659.6" y2="402.52" stroke="#e49788" stroke-width="0.8"/>
<text x="675.6" y="405.42" text-anchor="end" transform="matrix(1 0 0 1.0 0 0.000)">-15</text>
<line x1="657.6" y1="417.40" x2="659.6" y2="417.40" stroke="#d15139" stroke-width="0.8"/>
<text x="675.6" y="420.30" text-anchor="end" transform="matrix(1 0 0 1.0 0 0.000)">-25</text>
<text x="648.6" y="433.2" transform="matrix(1 0 0 1.0 0 0.000)">Interaction</text><text x="648.6" y="442.2" transform="matrix(1 0 0 1.0 0 0.000)">not</text><text x="648.6" y="449.6" transform="matrix(1 0 0 1.0 0 0.000)">significant</text><text x="648.6" y="457.6" transform="matrix(1 0 0 1.0 0 0.000)">(P&gt;0.05)</text>
<rect x="648.4" y="463" width="15.9" height="15" fill="url(#hp)" stroke="none"/>
<rect x="648.4" y="463" width="15.9" height="15" fill="none" stroke="#c8c8c8" stroke-width="0.8"/>
<text x="648.6" y="491.8" transform="matrix(1 0 0 1.0 0 0.000)">Interaction</text><text x="648.6" y="500.6" transform="matrix(1 0 0 1.0 0 0.000)">changed</text>
<rect x="648.6" y="504.6" width="15.6" height="14.8" fill="none" stroke="#1a1a1a" stroke-width="1.2"/>
</g>
</svg></body></html>
